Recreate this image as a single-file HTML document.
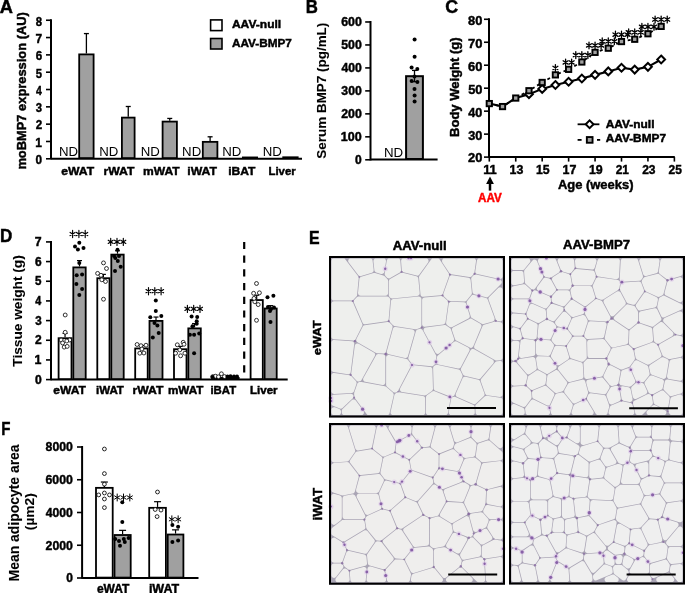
<!DOCTYPE html>
<html><head><meta charset="utf-8"><style>
html,body{margin:0;padding:0;background:#fff;overflow:hidden}
svg{display:block;will-change:transform}
text{font-family:"Liberation Sans", sans-serif}
</style></head><body>
<svg width="685" height="593" viewBox="0 0 685 593">
<text x="-0.23" y="13.28" font-size="17.81" font-weight="bold" stroke="#000" stroke-width="0.45" textLength="13.19" lengthAdjust="spacingAndGlyphs">A</text>
<line x1="51.00" y1="19.24" x2="51.00" y2="159.20" stroke="#000" stroke-width="2"/>
<line x1="51.00" y1="158.80" x2="302.00" y2="158.80" stroke="#000" stroke-width="2"/>
<line x1="46.00" y1="158.80" x2="51.00" y2="158.80" stroke="#000" stroke-width="1.6"/>
<text x="35.61" y="164.13" font-size="13.3" font-weight="bold" stroke="#000" stroke-width="0.45" textLength="6.55" lengthAdjust="spacingAndGlyphs">0</text>
<line x1="46.00" y1="141.48" x2="51.00" y2="141.48" stroke="#000" stroke-width="1.6"/>
<text x="35.31" y="146.81" font-size="13.3" font-weight="bold" stroke="#000" stroke-width="0.45" textLength="6.70" lengthAdjust="spacingAndGlyphs">1</text>
<line x1="46.00" y1="124.16" x2="51.00" y2="124.16" stroke="#000" stroke-width="1.6"/>
<text x="35.67" y="129.49" font-size="13.3" font-weight="bold" stroke="#000" stroke-width="0.45" textLength="6.47" lengthAdjust="spacingAndGlyphs">2</text>
<line x1="46.00" y1="106.84" x2="51.00" y2="106.84" stroke="#000" stroke-width="1.6"/>
<text x="35.81" y="112.17" font-size="13.3" font-weight="bold" stroke="#000" stroke-width="0.45" textLength="6.27" lengthAdjust="spacingAndGlyphs">3</text>
<line x1="46.00" y1="89.52" x2="51.00" y2="89.52" stroke="#000" stroke-width="1.6"/>
<text x="35.91" y="94.85" font-size="13.3" font-weight="bold" stroke="#000" stroke-width="0.45" textLength="5.82" lengthAdjust="spacingAndGlyphs">4</text>
<line x1="46.00" y1="72.20" x2="51.00" y2="72.20" stroke="#000" stroke-width="1.6"/>
<text x="35.73" y="77.53" font-size="13.3" font-weight="bold" stroke="#000" stroke-width="0.45" textLength="6.26" lengthAdjust="spacingAndGlyphs">5</text>
<line x1="46.00" y1="54.88" x2="51.00" y2="54.88" stroke="#000" stroke-width="1.6"/>
<text x="35.65" y="60.21" font-size="13.3" font-weight="bold" stroke="#000" stroke-width="0.45" textLength="6.45" lengthAdjust="spacingAndGlyphs">6</text>
<line x1="46.00" y1="37.56" x2="51.00" y2="37.56" stroke="#000" stroke-width="1.6"/>
<text x="35.56" y="42.88" font-size="13.3" font-weight="bold" stroke="#000" stroke-width="0.45" textLength="6.64" lengthAdjust="spacingAndGlyphs">7</text>
<line x1="46.00" y1="20.24" x2="51.00" y2="20.24" stroke="#000" stroke-width="1.6"/>
<text x="35.71" y="25.57" font-size="13.3" font-weight="bold" stroke="#000" stroke-width="0.45" textLength="6.31" lengthAdjust="spacingAndGlyphs">8</text>
<text x="0" y="0" font-size="13.15" font-weight="bold" stroke="#000" stroke-width="0.45" textLength="157.44" lengthAdjust="spacingAndGlyphs" transform="translate(25.97 169.62) rotate(-90)">moBMP7 expression (AU)</text>
<line x1="86.40" y1="33.58" x2="86.40" y2="53.49" stroke="#000" stroke-width="1.3"/>
<line x1="83.90" y1="33.58" x2="88.90" y2="33.58" stroke="#000" stroke-width="1.3"/>
<rect x="79.20" y="54.39" width="14.40" height="103.71" fill="#a0a0a0" stroke="#000" stroke-width="1.8"/>
<line x1="128.25" y1="106.49" x2="128.25" y2="116.71" stroke="#000" stroke-width="1.3"/>
<line x1="125.75" y1="106.49" x2="130.75" y2="106.49" stroke="#000" stroke-width="1.3"/>
<rect x="121.90" y="117.61" width="12.70" height="40.49" fill="#a0a0a0" stroke="#000" stroke-width="1.8"/>
<line x1="169.75" y1="118.44" x2="169.75" y2="120.70" stroke="#000" stroke-width="1.3"/>
<line x1="167.25" y1="118.44" x2="172.25" y2="118.44" stroke="#000" stroke-width="1.3"/>
<rect x="162.60" y="121.60" width="14.30" height="36.50" fill="#a0a0a0" stroke="#000" stroke-width="1.8"/>
<line x1="210.10" y1="136.80" x2="210.10" y2="140.96" stroke="#000" stroke-width="1.3"/>
<line x1="207.60" y1="136.80" x2="212.60" y2="136.80" stroke="#000" stroke-width="1.3"/>
<rect x="202.80" y="141.86" width="14.60" height="16.24" fill="#a0a0a0" stroke="#000" stroke-width="1.8"/>
<rect x="242.90" y="157.45" width="14.20" height="0.65" fill="#a0a0a0" stroke="#000" stroke-width="1.8"/>
<rect x="283.20" y="157.28" width="14.50" height="0.82" fill="#a0a0a0" stroke="#000" stroke-width="1.8"/>
<text x="59.01" y="156.40" font-size="13.52" textLength="19.12" lengthAdjust="spacingAndGlyphs">ND</text>
<text x="99.31" y="156.40" font-size="13.52" textLength="19.12" lengthAdjust="spacingAndGlyphs">ND</text>
<text x="140.71" y="156.40" font-size="13.52" textLength="19.12" lengthAdjust="spacingAndGlyphs">ND</text>
<text x="182.11" y="156.40" font-size="13.52" textLength="19.12" lengthAdjust="spacingAndGlyphs">ND</text>
<text x="222.31" y="156.40" font-size="13.52" textLength="19.12" lengthAdjust="spacingAndGlyphs">ND</text>
<text x="262.71" y="156.40" font-size="13.52" textLength="19.12" lengthAdjust="spacingAndGlyphs">ND</text>
<text x="61.17" y="175.38" font-size="11.56" font-weight="bold" stroke="#000" stroke-width="0.45" textLength="33.03" lengthAdjust="spacingAndGlyphs">eWAT</text>
<text x="103.46" y="175.38" font-size="11.56" font-weight="bold" stroke="#000" stroke-width="0.45" textLength="31.04" lengthAdjust="spacingAndGlyphs">rWAT</text>
<text x="142.96" y="175.38" font-size="11.56" font-weight="bold" stroke="#000" stroke-width="0.45" textLength="36.64" lengthAdjust="spacingAndGlyphs">mWAT</text>
<text x="187.31" y="175.38" font-size="11.56" font-weight="bold" stroke="#000" stroke-width="0.45" textLength="29.69" lengthAdjust="spacingAndGlyphs">iWAT</text>
<text x="228.21" y="175.38" font-size="11.56" font-weight="bold" stroke="#000" stroke-width="0.45" textLength="27.29" lengthAdjust="spacingAndGlyphs">iBAT</text>
<text x="268.46" y="175.38" font-size="11.56" font-weight="bold" stroke="#000" stroke-width="0.45" textLength="27.18" lengthAdjust="spacingAndGlyphs">Liver</text>
<rect x="210.60" y="19.90" width="11.40" height="10.70" fill="#fff" stroke="#000" stroke-width="1.6"/>
<rect x="210.60" y="38.50" width="11.40" height="10.50" fill="#a0a0a0" stroke="#000" stroke-width="1.6"/>
<text x="231.93" y="28.47" font-size="11.26" font-weight="bold" stroke="#000" stroke-width="0.45" textLength="49.27" lengthAdjust="spacingAndGlyphs">AAV-null</text>
<text x="231.94" y="47.07" font-size="11.56" font-weight="bold" stroke="#000" stroke-width="0.45" textLength="59.94" lengthAdjust="spacingAndGlyphs">AAV-BMP7</text>
<text x="305.70" y="13.08" font-size="18.53" font-weight="bold" stroke="#000" stroke-width="0.45" textLength="12.14" lengthAdjust="spacingAndGlyphs">B</text>
<line x1="370.50" y1="20.98" x2="370.50" y2="160.50" stroke="#000" stroke-width="2"/>
<line x1="370.50" y1="159.50" x2="437.60" y2="159.50" stroke="#000" stroke-width="2"/>
<line x1="365.20" y1="159.80" x2="370.50" y2="159.80" stroke="#000" stroke-width="1.6"/>
<text x="355.06" y="164.18" font-size="12.43" font-weight="bold" stroke="#000" stroke-width="0.45" textLength="6.71" lengthAdjust="spacingAndGlyphs">0</text>
<line x1="365.20" y1="136.83" x2="370.50" y2="136.83" stroke="#000" stroke-width="1.6"/>
<text x="340.85" y="141.21" font-size="12.43" font-weight="bold" stroke="#000" stroke-width="0.45" textLength="20.94" lengthAdjust="spacingAndGlyphs">100</text>
<line x1="365.20" y1="113.86" x2="370.50" y2="113.86" stroke="#000" stroke-width="1.6"/>
<text x="341.21" y="118.24" font-size="12.43" font-weight="bold" stroke="#000" stroke-width="0.45" textLength="20.57" lengthAdjust="spacingAndGlyphs">200</text>
<line x1="365.20" y1="90.89" x2="370.50" y2="90.89" stroke="#000" stroke-width="1.6"/>
<text x="341.36" y="95.27" font-size="12.43" font-weight="bold" stroke="#000" stroke-width="0.45" textLength="20.42" lengthAdjust="spacingAndGlyphs">300</text>
<line x1="365.20" y1="67.92" x2="370.50" y2="67.92" stroke="#000" stroke-width="1.6"/>
<text x="341.46" y="72.30" font-size="12.43" font-weight="bold" stroke="#000" stroke-width="0.45" textLength="20.32" lengthAdjust="spacingAndGlyphs">400</text>
<line x1="365.20" y1="44.95" x2="370.50" y2="44.95" stroke="#000" stroke-width="1.6"/>
<text x="341.26" y="49.33" font-size="12.43" font-weight="bold" stroke="#000" stroke-width="0.45" textLength="20.52" lengthAdjust="spacingAndGlyphs">500</text>
<line x1="365.20" y1="21.98" x2="370.50" y2="21.98" stroke="#000" stroke-width="1.6"/>
<text x="341.19" y="26.36" font-size="12.43" font-weight="bold" stroke="#000" stroke-width="0.45" textLength="20.59" lengthAdjust="spacingAndGlyphs">600</text>
<text x="0" y="0" font-size="13.23" font-weight="bold" stroke="#000" stroke-width="0.1" textLength="135.96" lengthAdjust="spacingAndGlyphs" transform="translate(326.25 158.64) rotate(-90)">Serum BMP7 (pg/mL)</text>
<rect x="406.10" y="76.20" width="16.80" height="82.80" fill="#a0a0a0" stroke="#000" stroke-width="2"/>
<line x1="414.50" y1="70.40" x2="414.50" y2="81.70" stroke="#000" stroke-width="1.3"/>
<line x1="412.00" y1="70.40" x2="417.00" y2="70.40" stroke="#000" stroke-width="1.3"/>
<line x1="412.00" y1="81.70" x2="417.00" y2="81.70" stroke="#000" stroke-width="1.3"/>
<circle cx="414.60" cy="39.50" r="2.0" fill="#000"/>
<circle cx="414.60" cy="56.80" r="2.0" fill="#000"/>
<circle cx="411.60" cy="67.50" r="2.0" fill="#000"/>
<circle cx="417.30" cy="69.00" r="2.0" fill="#000"/>
<circle cx="414.50" cy="76.40" r="2.0" fill="#000"/>
<circle cx="411.60" cy="81.00" r="2.0" fill="#000"/>
<circle cx="417.40" cy="82.00" r="2.0" fill="#000"/>
<circle cx="414.50" cy="89.10" r="2.0" fill="#000"/>
<circle cx="414.60" cy="95.50" r="2.0" fill="#000"/>
<circle cx="414.60" cy="101.40" r="2.0" fill="#000"/>
<text x="383.91" y="156.60" font-size="12.79" textLength="19.23" lengthAdjust="spacingAndGlyphs">ND</text>
<text x="445.39" y="13.18" font-size="17.51" font-weight="bold" stroke="#000" stroke-width="0.45" textLength="12.87" lengthAdjust="spacingAndGlyphs">C</text>
<line x1="489.00" y1="18.28" x2="489.00" y2="157.60" stroke="#000" stroke-width="2"/>
<line x1="489.00" y1="157.10" x2="674.80" y2="157.10" stroke="#000" stroke-width="2"/>
<line x1="484.00" y1="157.10" x2="489.00" y2="157.10" stroke="#000" stroke-width="1.6"/>
<text x="468.08" y="162.47" font-size="12.86" font-weight="bold" stroke="#000" stroke-width="0.45" textLength="14.32" lengthAdjust="spacingAndGlyphs">20</text>
<line x1="484.00" y1="134.13" x2="489.00" y2="134.13" stroke="#000" stroke-width="1.6"/>
<text x="468.24" y="139.50" font-size="12.86" font-weight="bold" stroke="#000" stroke-width="0.45" textLength="14.16" lengthAdjust="spacingAndGlyphs">30</text>
<line x1="484.00" y1="111.16" x2="489.00" y2="111.16" stroke="#000" stroke-width="1.6"/>
<text x="468.34" y="116.53" font-size="12.86" font-weight="bold" stroke="#000" stroke-width="0.45" textLength="14.06" lengthAdjust="spacingAndGlyphs">40</text>
<line x1="484.00" y1="88.19" x2="489.00" y2="88.19" stroke="#000" stroke-width="1.6"/>
<text x="468.13" y="93.56" font-size="12.86" font-weight="bold" stroke="#000" stroke-width="0.45" textLength="14.27" lengthAdjust="spacingAndGlyphs">50</text>
<line x1="484.00" y1="65.22" x2="489.00" y2="65.22" stroke="#000" stroke-width="1.6"/>
<text x="468.06" y="70.59" font-size="12.86" font-weight="bold" stroke="#000" stroke-width="0.45" textLength="14.35" lengthAdjust="spacingAndGlyphs">60</text>
<line x1="484.00" y1="42.25" x2="489.00" y2="42.25" stroke="#000" stroke-width="1.6"/>
<text x="467.97" y="47.62" font-size="12.86" font-weight="bold" stroke="#000" stroke-width="0.45" textLength="14.44" lengthAdjust="spacingAndGlyphs">70</text>
<line x1="484.00" y1="19.28" x2="489.00" y2="19.28" stroke="#000" stroke-width="1.6"/>
<text x="468.12" y="24.65" font-size="12.86" font-weight="bold" stroke="#000" stroke-width="0.45" textLength="14.28" lengthAdjust="spacingAndGlyphs">80</text>
<line x1="489.30" y1="157.10" x2="489.30" y2="161.60" stroke="#000" stroke-width="1.6"/>
<text x="483.15" y="173.58" font-size="13.15" font-weight="bold" stroke="#000" stroke-width="0.45" textLength="13.67" lengthAdjust="spacingAndGlyphs">11</text>
<line x1="515.74" y1="157.10" x2="515.74" y2="161.60" stroke="#000" stroke-width="1.6"/>
<text x="509.58" y="173.58" font-size="13.15" font-weight="bold" stroke="#000" stroke-width="0.45" textLength="13.78" lengthAdjust="spacingAndGlyphs">13</text>
<line x1="542.18" y1="157.10" x2="542.18" y2="161.60" stroke="#000" stroke-width="1.6"/>
<text x="536.03" y="173.58" font-size="13.15" font-weight="bold" stroke="#000" stroke-width="0.45" textLength="13.67" lengthAdjust="spacingAndGlyphs">15</text>
<line x1="568.62" y1="157.10" x2="568.62" y2="161.60" stroke="#000" stroke-width="1.6"/>
<text x="562.46" y="173.58" font-size="13.15" font-weight="bold" stroke="#000" stroke-width="0.45" textLength="13.88" lengthAdjust="spacingAndGlyphs">17</text>
<line x1="595.06" y1="157.10" x2="595.06" y2="161.60" stroke="#000" stroke-width="1.6"/>
<text x="588.90" y="173.58" font-size="13.15" font-weight="bold" stroke="#000" stroke-width="0.45" textLength="13.79" lengthAdjust="spacingAndGlyphs">19</text>
<line x1="621.50" y1="157.10" x2="621.50" y2="161.60" stroke="#000" stroke-width="1.6"/>
<text x="615.71" y="173.58" font-size="13.15" font-weight="bold" stroke="#000" stroke-width="0.45" textLength="13.30" lengthAdjust="spacingAndGlyphs">21</text>
<line x1="647.94" y1="157.10" x2="647.94" y2="161.60" stroke="#000" stroke-width="1.6"/>
<text x="642.15" y="173.58" font-size="13.15" font-weight="bold" stroke="#000" stroke-width="0.45" textLength="13.40" lengthAdjust="spacingAndGlyphs">23</text>
<line x1="674.38" y1="157.10" x2="674.38" y2="161.60" stroke="#000" stroke-width="1.6"/>
<text x="668.59" y="173.58" font-size="13.15" font-weight="bold" stroke="#000" stroke-width="0.45" textLength="13.30" lengthAdjust="spacingAndGlyphs">25</text>
<text x="0" y="0" font-size="13.15" font-weight="bold" stroke="#000" stroke-width="0.45" textLength="99.57" lengthAdjust="spacingAndGlyphs" transform="translate(458.77 136.94) rotate(-90)">Body Weight (g)</text>
<text x="557.90" y="189.47" font-size="13.15" font-weight="bold" stroke="#000" stroke-width="0.45" textLength="75.62" lengthAdjust="spacingAndGlyphs">Age (weeks)</text>
<line x1="490.00" y1="182.00" x2="490.00" y2="190.60" stroke="#000" stroke-width="2.5"/>
<path d="M490 176.6 L486.1 184 L493.9 184 Z" fill="#000"/>
<text x="478.05" y="201.58" font-size="12.14" font-weight="bold" stroke="#ff0000" stroke-width="0.45" fill="#ff0000" textLength="23.71" lengthAdjust="spacingAndGlyphs">AAV</text>
<polyline points="489.30,103.58 502.52,106.57 515.74,98.07 528.96,90.72 542.18,82.45 555.40,74.87 568.62,69.35 581.84,62.00 595.06,52.36 608.28,48.22 621.50,41.56 634.72,39.26 647.94,33.75 661.16,26.40" fill="none" stroke="#000" stroke-width="1.8" stroke-dasharray="3 3"/>
<polyline points="489.30,103.58 502.52,106.57 515.74,98.07 528.96,94.16 542.18,88.88 555.40,84.97 568.62,81.76 581.84,78.54 595.06,74.87 608.28,71.42 621.50,67.75 634.72,69.58 647.94,66.83 661.16,59.48" fill="none" stroke="#000" stroke-width="2.1"/>
<path d="M528.96 90.26 L532.86 94.16 L528.96 98.06 L525.06 94.16 Z" fill="#fff" stroke="#000" stroke-width="2.0"/>
<path d="M542.18 84.98 L546.08 88.88 L542.18 92.78 L538.28 88.88 Z" fill="#fff" stroke="#000" stroke-width="2.0"/>
<path d="M555.40 81.07 L559.30 84.97 L555.40 88.87 L551.50 84.97 Z" fill="#fff" stroke="#000" stroke-width="2.0"/>
<path d="M568.62 77.86 L572.52 81.76 L568.62 85.66 L564.72 81.76 Z" fill="#fff" stroke="#000" stroke-width="2.0"/>
<path d="M581.84 74.64 L585.74 78.54 L581.84 82.44 L577.94 78.54 Z" fill="#fff" stroke="#000" stroke-width="2.0"/>
<path d="M595.06 70.97 L598.96 74.87 L595.06 78.77 L591.16 74.87 Z" fill="#fff" stroke="#000" stroke-width="2.0"/>
<path d="M608.28 67.52 L612.18 71.42 L608.28 75.32 L604.38 71.42 Z" fill="#fff" stroke="#000" stroke-width="2.0"/>
<path d="M621.50 63.85 L625.40 67.75 L621.50 71.65 L617.60 67.75 Z" fill="#fff" stroke="#000" stroke-width="2.0"/>
<path d="M634.72 65.68 L638.62 69.58 L634.72 73.48 L630.82 69.58 Z" fill="#fff" stroke="#000" stroke-width="2.0"/>
<path d="M647.94 62.93 L651.84 66.83 L647.94 70.73 L644.04 66.83 Z" fill="#fff" stroke="#000" stroke-width="2.0"/>
<path d="M661.16 55.58 L665.06 59.48 L661.16 63.38 L657.26 59.48 Z" fill="#fff" stroke="#000" stroke-width="2.0"/>
<rect x="486.65" y="100.93" width="5.30" height="5.30" fill="#a0a0a0" stroke="#000" stroke-width="1.9"/>
<rect x="499.87" y="103.92" width="5.30" height="5.30" fill="#a0a0a0" stroke="#000" stroke-width="1.9"/>
<rect x="513.09" y="95.42" width="5.30" height="5.30" fill="#a0a0a0" stroke="#000" stroke-width="1.9"/>
<rect x="526.31" y="88.07" width="5.30" height="5.30" fill="#a0a0a0" stroke="#000" stroke-width="1.9"/>
<rect x="539.53" y="79.80" width="5.30" height="5.30" fill="#a0a0a0" stroke="#000" stroke-width="1.9"/>
<rect x="552.75" y="72.22" width="5.30" height="5.30" fill="#a0a0a0" stroke="#000" stroke-width="1.9"/>
<rect x="565.97" y="66.70" width="5.30" height="5.30" fill="#a0a0a0" stroke="#000" stroke-width="1.9"/>
<rect x="579.19" y="59.35" width="5.30" height="5.30" fill="#a0a0a0" stroke="#000" stroke-width="1.9"/>
<rect x="592.41" y="49.71" width="5.30" height="5.30" fill="#a0a0a0" stroke="#000" stroke-width="1.9"/>
<rect x="605.63" y="45.57" width="5.30" height="5.30" fill="#a0a0a0" stroke="#000" stroke-width="1.9"/>
<rect x="618.85" y="38.91" width="5.30" height="5.30" fill="#a0a0a0" stroke="#000" stroke-width="1.9"/>
<rect x="632.07" y="36.61" width="5.30" height="5.30" fill="#a0a0a0" stroke="#000" stroke-width="1.9"/>
<rect x="645.29" y="31.10" width="5.30" height="5.30" fill="#a0a0a0" stroke="#000" stroke-width="1.9"/>
<rect x="658.51" y="23.75" width="5.30" height="5.30" fill="#a0a0a0" stroke="#000" stroke-width="1.9"/>
<path d="M555.40 64.57V71.37M552.90 66.27L557.90 69.67M552.90 69.67L557.90 66.27" stroke="#000" stroke-width="1.3" stroke-linecap="round" fill="none"/>
<path d="M565.60 59.05V65.85M563.10 60.75L568.10 64.15M563.10 64.15L568.10 60.75" stroke="#000" stroke-width="1.3" stroke-linecap="round" fill="none"/>
<path d="M571.64 59.05V65.85M569.14 60.75L574.14 64.15M569.14 64.15L574.14 60.75" stroke="#000" stroke-width="1.3" stroke-linecap="round" fill="none"/>
<path d="M575.79 51.70V58.50M573.29 53.40L578.29 56.80M573.29 56.80L578.29 53.40" stroke="#000" stroke-width="1.3" stroke-linecap="round" fill="none"/>
<path d="M581.84 51.70V58.50M579.34 53.40L584.34 56.80M579.34 56.80L584.34 53.40" stroke="#000" stroke-width="1.3" stroke-linecap="round" fill="none"/>
<path d="M587.89 51.70V58.50M585.39 53.40L590.39 56.80M585.39 56.80L590.39 53.40" stroke="#000" stroke-width="1.3" stroke-linecap="round" fill="none"/>
<path d="M589.01 42.06V48.86M586.51 43.76L591.51 47.16M586.51 47.16L591.51 43.76" stroke="#000" stroke-width="1.3" stroke-linecap="round" fill="none"/>
<path d="M595.06 42.06V48.86M592.56 43.76L597.56 47.16M592.56 47.16L597.56 43.76" stroke="#000" stroke-width="1.3" stroke-linecap="round" fill="none"/>
<path d="M601.11 42.06V48.86M598.61 43.76L603.61 47.16M598.61 47.16L603.61 43.76" stroke="#000" stroke-width="1.3" stroke-linecap="round" fill="none"/>
<path d="M602.23 37.92V44.72M599.73 39.62L604.73 43.02M599.73 43.02L604.73 39.62" stroke="#000" stroke-width="1.3" stroke-linecap="round" fill="none"/>
<path d="M608.28 37.92V44.72M605.78 39.62L610.78 43.02M605.78 43.02L610.78 39.62" stroke="#000" stroke-width="1.3" stroke-linecap="round" fill="none"/>
<path d="M614.33 37.92V44.72M611.83 39.62L616.83 43.02M611.83 43.02L616.83 39.62" stroke="#000" stroke-width="1.3" stroke-linecap="round" fill="none"/>
<path d="M615.45 31.26V38.06M612.95 32.96L617.95 36.36M612.95 36.36L617.95 32.96" stroke="#000" stroke-width="1.3" stroke-linecap="round" fill="none"/>
<path d="M621.50 31.26V38.06M619.00 32.96L624.00 36.36M619.00 36.36L624.00 32.96" stroke="#000" stroke-width="1.3" stroke-linecap="round" fill="none"/>
<path d="M627.55 31.26V38.06M625.05 32.96L630.05 36.36M625.05 36.36L630.05 32.96" stroke="#000" stroke-width="1.3" stroke-linecap="round" fill="none"/>
<path d="M628.67 28.96V35.76M626.17 30.66L631.17 34.06M626.17 34.06L631.17 30.66" stroke="#000" stroke-width="1.3" stroke-linecap="round" fill="none"/>
<path d="M634.72 28.96V35.76M632.22 30.66L637.22 34.06M632.22 34.06L637.22 30.66" stroke="#000" stroke-width="1.3" stroke-linecap="round" fill="none"/>
<path d="M640.77 28.96V35.76M638.27 30.66L643.27 34.06M638.27 34.06L643.27 30.66" stroke="#000" stroke-width="1.3" stroke-linecap="round" fill="none"/>
<path d="M641.89 23.45V30.25M639.39 25.15L644.39 28.55M639.39 28.55L644.39 25.15" stroke="#000" stroke-width="1.3" stroke-linecap="round" fill="none"/>
<path d="M647.94 23.45V30.25M645.44 25.15L650.44 28.55M645.44 28.55L650.44 25.15" stroke="#000" stroke-width="1.3" stroke-linecap="round" fill="none"/>
<path d="M653.99 23.45V30.25M651.49 25.15L656.49 28.55M651.49 28.55L656.49 25.15" stroke="#000" stroke-width="1.3" stroke-linecap="round" fill="none"/>
<path d="M655.11 16.10V22.90M652.61 17.80L657.61 21.20M652.61 21.20L657.61 17.80" stroke="#000" stroke-width="1.3" stroke-linecap="round" fill="none"/>
<path d="M661.16 16.10V22.90M658.66 17.80L663.66 21.20M658.66 21.20L663.66 17.80" stroke="#000" stroke-width="1.3" stroke-linecap="round" fill="none"/>
<path d="M667.21 16.10V22.90M664.71 17.80L669.71 21.20M664.71 21.20L669.71 17.80" stroke="#000" stroke-width="1.3" stroke-linecap="round" fill="none"/>
<line x1="577.60" y1="124.30" x2="599.40" y2="124.30" stroke="#000" stroke-width="1.8"/>
<path d="M589.60 120.40 L593.50 124.30 L589.60 128.20 L585.70 124.30 Z" fill="#fff" stroke="#000" stroke-width="2.0"/>
<line x1="577.60" y1="139.90" x2="581.60" y2="139.90" stroke="#000" stroke-width="1.8"/>
<line x1="597.00" y1="139.90" x2="600.20" y2="139.90" stroke="#000" stroke-width="1.8"/>
<rect x="586.85" y="137.05" width="5.70" height="5.70" fill="#a0a0a0" stroke="#000" stroke-width="1.9"/>
<text x="605.74" y="127.88" font-size="10.54" font-weight="bold" stroke="#000" stroke-width="0.45" textLength="48.76" lengthAdjust="spacingAndGlyphs">AAV-null</text>
<text x="605.74" y="142.47" font-size="10.25" font-weight="bold" stroke="#000" stroke-width="0.45" textLength="60.24" lengthAdjust="spacingAndGlyphs">AAV-BMP7</text>
<text x="-0.01" y="241.58" font-size="17.95" font-weight="bold" stroke="#000" stroke-width="0.45" textLength="12.31" lengthAdjust="spacingAndGlyphs">D</text>
<line x1="51.00" y1="240.91" x2="51.00" y2="380.30" stroke="#000" stroke-width="2"/>
<line x1="51.00" y1="379.60" x2="287.70" y2="379.60" stroke="#000" stroke-width="2"/>
<line x1="46.00" y1="379.60" x2="51.00" y2="379.60" stroke="#000" stroke-width="1.6"/>
<text x="34.91" y="383.57" font-size="12.28" font-weight="bold" stroke="#000" stroke-width="0.45" textLength="6.76" lengthAdjust="spacingAndGlyphs">0</text>
<line x1="46.00" y1="359.93" x2="51.00" y2="359.93" stroke="#000" stroke-width="1.6"/>
<text x="34.61" y="363.90" font-size="12.28" font-weight="bold" stroke="#000" stroke-width="0.45" textLength="6.91" lengthAdjust="spacingAndGlyphs">1</text>
<line x1="46.00" y1="340.26" x2="51.00" y2="340.26" stroke="#000" stroke-width="1.6"/>
<text x="34.98" y="344.23" font-size="12.28" font-weight="bold" stroke="#000" stroke-width="0.45" textLength="6.68" lengthAdjust="spacingAndGlyphs">2</text>
<line x1="46.00" y1="320.59" x2="51.00" y2="320.59" stroke="#000" stroke-width="1.6"/>
<text x="35.13" y="324.56" font-size="12.28" font-weight="bold" stroke="#000" stroke-width="0.45" textLength="6.47" lengthAdjust="spacingAndGlyphs">3</text>
<line x1="46.00" y1="300.92" x2="51.00" y2="300.92" stroke="#000" stroke-width="1.6"/>
<text x="35.23" y="304.89" font-size="12.28" font-weight="bold" stroke="#000" stroke-width="0.45" textLength="6.00" lengthAdjust="spacingAndGlyphs">4</text>
<line x1="46.00" y1="281.25" x2="51.00" y2="281.25" stroke="#000" stroke-width="1.6"/>
<text x="35.04" y="285.22" font-size="12.28" font-weight="bold" stroke="#000" stroke-width="0.45" textLength="6.46" lengthAdjust="spacingAndGlyphs">5</text>
<line x1="46.00" y1="261.58" x2="51.00" y2="261.58" stroke="#000" stroke-width="1.6"/>
<text x="34.96" y="265.56" font-size="12.28" font-weight="bold" stroke="#000" stroke-width="0.45" textLength="6.65" lengthAdjust="spacingAndGlyphs">6</text>
<line x1="46.00" y1="241.91" x2="51.00" y2="241.91" stroke="#000" stroke-width="1.6"/>
<text x="34.87" y="245.89" font-size="12.28" font-weight="bold" stroke="#000" stroke-width="0.45" textLength="6.85" lengthAdjust="spacingAndGlyphs">7</text>
<text x="0" y="0" font-size="13.66" font-weight="bold" stroke="#000" stroke-width="0.1" textLength="111.43" lengthAdjust="spacingAndGlyphs" transform="translate(22.05 366.70) rotate(-90)">Tissue weight (g)</text>
<rect x="58.60" y="338.21" width="12.90" height="40.89" fill="#fff" stroke="#000" stroke-width="1.8"/>
<rect x="73.30" y="267.40" width="12.40" height="111.70" fill="#a0a0a0" stroke="#000" stroke-width="1.8"/>
<rect x="97.30" y="278.22" width="12.20" height="100.88" fill="#fff" stroke="#000" stroke-width="1.8"/>
<rect x="111.30" y="254.61" width="12.40" height="124.49" fill="#a0a0a0" stroke="#000" stroke-width="1.8"/>
<rect x="135.20" y="348.44" width="12.50" height="30.66" fill="#fff" stroke="#000" stroke-width="1.8"/>
<rect x="149.50" y="320.90" width="13.00" height="58.20" fill="#a0a0a0" stroke="#000" stroke-width="1.8"/>
<rect x="174.00" y="349.22" width="12.50" height="29.88" fill="#fff" stroke="#000" stroke-width="1.8"/>
<rect x="188.30" y="328.37" width="12.50" height="50.73" fill="#a0a0a0" stroke="#000" stroke-width="1.8"/>
<rect x="211.90" y="377.94" width="12.50" height="1.16" fill="#fff" stroke="#000" stroke-width="1.8"/>
<rect x="226.20" y="377.94" width="12.50" height="1.16" fill="#a0a0a0" stroke="#000" stroke-width="1.8"/>
<rect x="250.60" y="300.05" width="12.20" height="79.05" fill="#fff" stroke="#000" stroke-width="1.8"/>
<rect x="264.60" y="308.51" width="12.10" height="70.59" fill="#a0a0a0" stroke="#000" stroke-width="1.8"/>
<line x1="65.05" y1="333.38" x2="65.05" y2="337.31" stroke="#000" stroke-width="1.2"/>
<line x1="62.55" y1="333.38" x2="67.55" y2="333.38" stroke="#000" stroke-width="1.2"/>
<line x1="79.50" y1="260.60" x2="79.50" y2="266.50" stroke="#000" stroke-width="1.2"/>
<line x1="77.00" y1="260.60" x2="82.00" y2="260.60" stroke="#000" stroke-width="1.2"/>
<line x1="103.40" y1="274.37" x2="103.40" y2="277.32" stroke="#000" stroke-width="1.2"/>
<line x1="100.90" y1="274.37" x2="105.90" y2="274.37" stroke="#000" stroke-width="1.2"/>
<line x1="117.50" y1="250.76" x2="117.50" y2="253.71" stroke="#000" stroke-width="1.2"/>
<line x1="115.00" y1="250.76" x2="120.00" y2="250.76" stroke="#000" stroke-width="1.2"/>
<line x1="141.45" y1="345.57" x2="141.45" y2="347.54" stroke="#000" stroke-width="1.2"/>
<line x1="138.95" y1="345.57" x2="143.95" y2="345.57" stroke="#000" stroke-width="1.2"/>
<line x1="156.00" y1="317.05" x2="156.00" y2="320.00" stroke="#000" stroke-width="1.2"/>
<line x1="153.50" y1="317.05" x2="158.50" y2="317.05" stroke="#000" stroke-width="1.2"/>
<line x1="180.25" y1="346.36" x2="180.25" y2="348.32" stroke="#000" stroke-width="1.2"/>
<line x1="177.75" y1="346.36" x2="182.75" y2="346.36" stroke="#000" stroke-width="1.2"/>
<line x1="194.55" y1="323.54" x2="194.55" y2="327.47" stroke="#000" stroke-width="1.2"/>
<line x1="192.05" y1="323.54" x2="197.05" y2="323.54" stroke="#000" stroke-width="1.2"/>
<line x1="218.15" y1="376.65" x2="218.15" y2="377.04" stroke="#000" stroke-width="1.2"/>
<line x1="215.65" y1="376.65" x2="220.65" y2="376.65" stroke="#000" stroke-width="1.2"/>
<line x1="232.45" y1="376.65" x2="232.45" y2="377.04" stroke="#000" stroke-width="1.2"/>
<line x1="229.95" y1="376.65" x2="234.95" y2="376.65" stroke="#000" stroke-width="1.2"/>
<line x1="256.70" y1="295.22" x2="256.70" y2="299.15" stroke="#000" stroke-width="1.2"/>
<line x1="254.20" y1="295.22" x2="259.20" y2="295.22" stroke="#000" stroke-width="1.2"/>
<line x1="270.65" y1="305.64" x2="270.65" y2="307.61" stroke="#000" stroke-width="1.2"/>
<line x1="268.15" y1="305.64" x2="273.15" y2="305.64" stroke="#000" stroke-width="1.2"/>
<line x1="244.2" y1="241.9" x2="244.2" y2="373" stroke="#000" stroke-width="2.2" stroke-dasharray="7.2 6.5"/>
<circle cx="65.20" cy="315.00" r="1.95" fill="#fff" stroke="#000" stroke-width="0.8"/>
<circle cx="65.20" cy="332.30" r="1.95" fill="#fff" stroke="#000" stroke-width="0.8"/>
<circle cx="61.10" cy="340.00" r="1.95" fill="#fff" stroke="#000" stroke-width="0.8"/>
<circle cx="69.70" cy="340.00" r="1.95" fill="#fff" stroke="#000" stroke-width="0.8"/>
<circle cx="66.80" cy="341.00" r="1.95" fill="#fff" stroke="#000" stroke-width="0.8"/>
<circle cx="62.60" cy="343.00" r="1.95" fill="#fff" stroke="#000" stroke-width="0.8"/>
<circle cx="64.20" cy="347.10" r="1.95" fill="#fff" stroke="#000" stroke-width="0.8"/>
<circle cx="67.20" cy="346.40" r="1.95" fill="#fff" stroke="#000" stroke-width="0.8"/>
<circle cx="103.50" cy="262.90" r="1.95" fill="#fff" stroke="#000" stroke-width="0.8"/>
<circle cx="106.50" cy="268.50" r="1.95" fill="#fff" stroke="#000" stroke-width="0.8"/>
<circle cx="97.60" cy="273.40" r="1.95" fill="#fff" stroke="#000" stroke-width="0.8"/>
<circle cx="101.00" cy="275.30" r="1.95" fill="#fff" stroke="#000" stroke-width="0.8"/>
<circle cx="101.80" cy="279.80" r="1.95" fill="#fff" stroke="#000" stroke-width="0.8"/>
<circle cx="105.50" cy="281.50" r="1.95" fill="#fff" stroke="#000" stroke-width="0.8"/>
<circle cx="103.50" cy="299.20" r="1.95" fill="#fff" stroke="#000" stroke-width="0.8"/>
<circle cx="137.10" cy="344.50" r="1.95" fill="#fff" stroke="#000" stroke-width="0.8"/>
<circle cx="141.00" cy="345.70" r="1.95" fill="#fff" stroke="#000" stroke-width="0.8"/>
<circle cx="146.00" cy="345.20" r="1.95" fill="#fff" stroke="#000" stroke-width="0.8"/>
<circle cx="141.90" cy="349.00" r="1.95" fill="#fff" stroke="#000" stroke-width="0.8"/>
<circle cx="139.80" cy="353.20" r="1.95" fill="#fff" stroke="#000" stroke-width="0.8"/>
<circle cx="143.90" cy="353.00" r="1.95" fill="#fff" stroke="#000" stroke-width="0.8"/>
<circle cx="177.30" cy="344.80" r="1.95" fill="#fff" stroke="#000" stroke-width="0.8"/>
<circle cx="183.20" cy="342.30" r="1.95" fill="#fff" stroke="#000" stroke-width="0.8"/>
<circle cx="184.00" cy="344.30" r="1.95" fill="#fff" stroke="#000" stroke-width="0.8"/>
<circle cx="175.60" cy="353.20" r="1.95" fill="#fff" stroke="#000" stroke-width="0.8"/>
<circle cx="180.60" cy="355.80" r="1.95" fill="#fff" stroke="#000" stroke-width="0.8"/>
<circle cx="184.90" cy="353.20" r="1.95" fill="#fff" stroke="#000" stroke-width="0.8"/>
<circle cx="179.80" cy="349.90" r="1.95" fill="#fff" stroke="#000" stroke-width="0.8"/>
<circle cx="212.80" cy="376.60" r="1.95" fill="#fff" stroke="#000" stroke-width="0.8"/>
<circle cx="215.50" cy="376.20" r="1.95" fill="#fff" stroke="#000" stroke-width="0.8"/>
<circle cx="218.50" cy="376.80" r="1.95" fill="#fff" stroke="#000" stroke-width="0.8"/>
<circle cx="221.40" cy="373.80" r="1.95" fill="#fff" stroke="#000" stroke-width="0.8"/>
<circle cx="224.50" cy="376.60" r="1.95" fill="#fff" stroke="#000" stroke-width="0.8"/>
<circle cx="256.50" cy="283.50" r="1.95" fill="#fff" stroke="#000" stroke-width="0.8"/>
<circle cx="253.60" cy="293.30" r="1.95" fill="#fff" stroke="#000" stroke-width="0.8"/>
<circle cx="259.40" cy="292.80" r="1.95" fill="#fff" stroke="#000" stroke-width="0.8"/>
<circle cx="254.80" cy="301.70" r="1.95" fill="#fff" stroke="#000" stroke-width="0.8"/>
<circle cx="258.20" cy="304.60" r="1.95" fill="#fff" stroke="#000" stroke-width="0.8"/>
<circle cx="256.50" cy="320.30" r="1.95" fill="#fff" stroke="#000" stroke-width="0.8"/>
<circle cx="254.00" cy="298.40" r="1.95" fill="#fff" stroke="#000" stroke-width="0.8"/>
<circle cx="79.30" cy="242.70" r="2.0" fill="#000"/>
<circle cx="75.00" cy="246.40" r="2.0" fill="#000"/>
<circle cx="77.90" cy="249.50" r="2.0" fill="#000"/>
<circle cx="83.50" cy="248.10" r="2.0" fill="#000"/>
<circle cx="79.30" cy="263.00" r="2.0" fill="#000"/>
<circle cx="76.70" cy="275.30" r="2.0" fill="#000"/>
<circle cx="82.10" cy="274.40" r="2.0" fill="#000"/>
<circle cx="76.40" cy="284.00" r="2.0" fill="#000"/>
<circle cx="82.10" cy="289.00" r="2.0" fill="#000"/>
<circle cx="79.30" cy="295.00" r="2.0" fill="#000"/>
<circle cx="117.50" cy="249.80" r="2.0" fill="#000"/>
<circle cx="115.30" cy="257.90" r="2.0" fill="#000"/>
<circle cx="117.80" cy="260.90" r="2.0" fill="#000"/>
<circle cx="120.70" cy="266.80" r="2.0" fill="#000"/>
<circle cx="115.00" cy="270.90" r="2.0" fill="#000"/>
<circle cx="114.00" cy="256.00" r="2.0" fill="#000"/>
<circle cx="119.00" cy="256.00" r="2.0" fill="#000"/>
<circle cx="155.80" cy="300.50" r="2.0" fill="#000"/>
<circle cx="155.80" cy="311.10" r="2.0" fill="#000"/>
<circle cx="150.30" cy="317.30" r="2.0" fill="#000"/>
<circle cx="161.30" cy="316.10" r="2.0" fill="#000"/>
<circle cx="154.50" cy="322.90" r="2.0" fill="#000"/>
<circle cx="157.40" cy="325.40" r="2.0" fill="#000"/>
<circle cx="158.70" cy="333.00" r="2.0" fill="#000"/>
<circle cx="152.80" cy="337.60" r="2.0" fill="#000"/>
<circle cx="191.60" cy="316.60" r="2.0" fill="#000"/>
<circle cx="197.20" cy="317.00" r="2.0" fill="#000"/>
<circle cx="196.70" cy="321.20" r="2.0" fill="#000"/>
<circle cx="196.70" cy="323.70" r="2.0" fill="#000"/>
<circle cx="192.50" cy="326.30" r="2.0" fill="#000"/>
<circle cx="189.90" cy="334.70" r="2.0" fill="#000"/>
<circle cx="194.10" cy="334.70" r="2.0" fill="#000"/>
<circle cx="199.20" cy="333.50" r="2.0" fill="#000"/>
<circle cx="194.10" cy="353.20" r="2.0" fill="#000"/>
<circle cx="212.50" cy="377.00" r="2.0" fill="#000"/>
<circle cx="227.50" cy="376.40" r="2.0" fill="#000"/>
<circle cx="230.50" cy="376.20" r="2.0" fill="#000"/>
<circle cx="234.00" cy="376.40" r="2.0" fill="#000"/>
<circle cx="237.00" cy="376.40" r="2.0" fill="#000"/>
<circle cx="267.50" cy="297.20" r="2.0" fill="#000"/>
<circle cx="273.40" cy="295.80" r="2.0" fill="#000"/>
<circle cx="268.00" cy="307.00" r="2.0" fill="#000"/>
<circle cx="271.00" cy="309.00" r="2.0" fill="#000"/>
<circle cx="274.00" cy="307.50" r="2.0" fill="#000"/>
<circle cx="270.00" cy="311.00" r="2.0" fill="#000"/>
<circle cx="270.50" cy="322.00" r="2.0" fill="#000"/>
<path d="M72.60 230.40V237.60M70.10 232.40L75.10 235.60M70.10 235.60L75.10 232.40" stroke="#000" stroke-width="1.15" stroke-linecap="round" fill="none"/>
<path d="M78.90 230.40V237.60M76.40 232.40L81.40 235.60M76.40 235.60L81.40 232.40" stroke="#000" stroke-width="1.15" stroke-linecap="round" fill="none"/>
<path d="M85.20 230.40V237.60M82.70 232.40L87.70 235.60M82.70 235.60L87.70 232.40" stroke="#000" stroke-width="1.15" stroke-linecap="round" fill="none"/>
<path d="M110.70 238.20V245.40M108.20 240.20L113.20 243.40M108.20 243.40L113.20 240.20" stroke="#000" stroke-width="1.15" stroke-linecap="round" fill="none"/>
<path d="M117.00 238.20V245.40M114.50 240.20L119.50 243.40M114.50 243.40L119.50 240.20" stroke="#000" stroke-width="1.15" stroke-linecap="round" fill="none"/>
<path d="M123.30 238.20V245.40M120.80 240.20L125.80 243.40M120.80 243.40L125.80 240.20" stroke="#000" stroke-width="1.15" stroke-linecap="round" fill="none"/>
<path d="M148.50 287.60V294.80M146.00 289.60L151.00 292.80M146.00 292.80L151.00 289.60" stroke="#000" stroke-width="1.15" stroke-linecap="round" fill="none"/>
<path d="M154.80 287.60V294.80M152.30 289.60L157.30 292.80M152.30 292.80L157.30 289.60" stroke="#000" stroke-width="1.15" stroke-linecap="round" fill="none"/>
<path d="M161.10 287.60V294.80M158.60 289.60L163.60 292.80M158.60 292.80L163.60 289.60" stroke="#000" stroke-width="1.15" stroke-linecap="round" fill="none"/>
<path d="M187.40 305.20V312.40M184.90 307.20L189.90 310.40M184.90 310.40L189.90 307.20" stroke="#000" stroke-width="1.15" stroke-linecap="round" fill="none"/>
<path d="M193.70 305.20V312.40M191.20 307.20L196.20 310.40M191.20 310.40L196.20 307.20" stroke="#000" stroke-width="1.15" stroke-linecap="round" fill="none"/>
<path d="M200.00 305.20V312.40M197.50 307.20L202.50 310.40M197.50 310.40L202.50 307.20" stroke="#000" stroke-width="1.15" stroke-linecap="round" fill="none"/>
<text x="53.28" y="393.88" font-size="10.68" font-weight="bold" stroke="#000" stroke-width="0.45" textLength="32.52" lengthAdjust="spacingAndGlyphs">eWAT</text>
<text x="95.96" y="393.88" font-size="10.68" font-weight="bold" stroke="#000" stroke-width="0.45" textLength="27.93" lengthAdjust="spacingAndGlyphs">iWAT</text>
<text x="132.46" y="393.88" font-size="10.68" font-weight="bold" stroke="#000" stroke-width="0.45" textLength="30.94" lengthAdjust="spacingAndGlyphs">rWAT</text>
<text x="167.99" y="393.88" font-size="10.68" font-weight="bold" stroke="#000" stroke-width="0.45" textLength="35.41" lengthAdjust="spacingAndGlyphs">mWAT</text>
<text x="210.45" y="393.88" font-size="10.68" font-weight="bold" stroke="#000" stroke-width="0.45" textLength="25.74" lengthAdjust="spacingAndGlyphs">iBAT</text>
<text x="250.06" y="393.88" font-size="10.68" font-weight="bold" stroke="#000" stroke-width="0.45" textLength="27.49" lengthAdjust="spacingAndGlyphs">Liver</text>
<text x="309.06" y="243.88" font-size="18.1" font-weight="bold" stroke="#000" stroke-width="0.45" textLength="10.64" lengthAdjust="spacingAndGlyphs">E</text>
<text x="392.71" y="250.47" font-size="12.14" font-weight="bold" stroke="#000" stroke-width="0.45" textLength="53.97" lengthAdjust="spacingAndGlyphs">AAV-null</text>
<text x="563.11" y="249.28" font-size="12.57" font-weight="bold" stroke="#000" stroke-width="0.45" textLength="66.83" lengthAdjust="spacingAndGlyphs">AAV-BMP7</text>
<text x="0" y="0" font-size="11.56" font-weight="bold" stroke="#000" stroke-width="0.45" textLength="34.76" lengthAdjust="spacingAndGlyphs" transform="translate(321.38 355.15) rotate(-90)">eWAT</text>
<text x="0" y="0" font-size="13.30" font-weight="bold" stroke="#000" stroke-width="0.45" textLength="32.68" lengthAdjust="spacingAndGlyphs" transform="translate(322.07 520.57) rotate(-90)">iWAT</text>
<rect x="329" y="256" width="176" height="161.5" fill="#aaa5b5"/>
<path d="M356.4 296.6L356.9 295.9L357.1 295.0L358.7 278.1L358.7 277.2L358.2 276.3L345.4 259.4L344.5 258.6L343.3 258.4L334.0 258.4L333.0 258.6L332.1 259.1L331.6 260.0L331.4 261.0L331.4 298.0L331.6 299.0L332.1 299.8L333.0 300.4L334.0 300.6L351.5 300.6L352.5 300.4L353.4 299.8ZM350.7 258.4L349.8 258.5L349.0 259.0L348.4 259.8L348.2 260.7L348.2 261.7L348.7 262.5L358.2 275.1L359.0 275.8L360.0 276.2L361.1 276.1L371.9 272.7L372.7 272.3L373.3 271.7L373.6 270.8L373.7 270.0L372.6 260.7L372.4 259.8L371.8 259.0L371.0 258.5L370.1 258.4ZM374.4 270.4L374.8 271.3L375.4 272.1L376.3 272.6L381.0 273.9L382.1 274.0L383.1 273.6L383.9 272.9L384.3 271.9L386.0 261.4L385.9 260.3L385.4 259.3L384.5 258.6L383.4 258.4L376.0 258.4L374.9 258.6L374.1 259.2L373.5 260.2L373.4 261.2ZM384.7 273.8L384.8 275.0L385.5 276.0L387.1 277.7L388.1 278.3L389.2 278.4L390.2 278.1L399.8 272.6L400.5 272.0L401.0 271.1L401.1 270.2L400.3 260.7L400.0 259.8L399.5 259.0L398.7 258.5L397.7 258.4L389.4 258.4L388.5 258.5L387.7 259.0L387.1 259.7L386.8 260.5ZM375.1 272.9L373.6 273.0L361.2 276.8L360.3 277.3L359.7 278.0L359.4 279.0L358.0 292.9L358.2 294.0L358.7 294.9L359.6 295.5L360.6 295.7L385.5 295.7L386.5 295.5L387.3 295.0L387.9 294.1L388.1 293.1L388.1 280.8L387.9 279.8L387.3 278.9L384.4 276.0L383.3 275.4ZM390.1 279.0L389.4 279.6L389.0 280.4L388.8 281.3L388.8 295.0L389.0 295.9L389.4 296.7L390.0 297.4L390.6 298.0L391.4 298.3L392.3 298.4L417.3 295.9L418.3 295.6L419.1 295.0L419.6 294.1L419.7 293.1L418.3 278.6L418.0 277.6L417.4 276.8L416.4 276.3L402.7 272.7L401.7 272.6L400.7 272.9ZM416.6 275.6L417.7 275.7L418.7 275.3L419.4 274.6L428.1 262.5L428.5 261.6L428.6 260.7L428.3 259.8L427.7 259.0L426.9 258.5L426.0 258.4L403.6 258.4L402.6 258.6L401.7 259.2L401.2 260.1L401.1 261.2L401.8 269.9L402.1 270.9L402.8 271.7L403.7 272.2ZM362.6 322.8L363.2 323.7L364.2 324.3L365.3 324.3L386.5 321.3L387.5 320.9L388.3 320.0L388.7 318.9L390.3 300.1L390.2 299.1L389.7 298.2L389.1 297.4L388.2 296.7L387.0 296.5L358.6 296.5L357.6 296.7L356.8 297.3L354.4 299.8L353.8 300.6L353.6 301.6L353.9 302.6ZM353.0 340.6L354.0 340.5L354.9 340.0L355.5 339.2L362.2 326.1L362.5 325.0L362.3 323.9L353.2 302.9L352.6 302.1L351.8 301.5L350.8 301.3L334.0 301.3L333.0 301.5L332.1 302.1L331.6 302.9L331.4 303.9L331.4 336.6L331.5 337.6L332.1 338.4L332.8 339.0L333.8 339.2ZM421.4 299.1L421.2 298.1L420.5 297.2L419.6 296.7L418.5 296.5L393.2 299.0L392.4 299.3L391.6 299.8L391.1 300.5L390.9 301.4L389.3 320.0L389.4 321.1L390.0 322.0L392.8 325.1L393.5 325.6L394.3 325.9L415.1 329.3L416.5 329.2L419.7 328.0L420.6 327.4L421.2 326.6L421.4 325.6ZM356.5 338.8L356.2 339.8L356.3 340.8L356.8 341.6L357.5 342.3L376.1 352.9L377.3 353.3L383.4 353.6L384.5 353.4L385.5 352.7L386.0 351.6L392.5 327.6L392.6 326.7L392.4 325.8L391.9 325.1L389.6 322.7L388.6 322.0L387.3 321.9L364.7 325.2L363.6 325.6L362.8 326.6ZM420.5 294.5L420.8 295.5L421.4 296.2L422.3 296.7L423.3 296.8L440.5 295.3L441.5 295.0L442.3 294.4L442.8 293.6L449.1 275.7L449.2 274.6L448.8 273.5L439.7 259.5L439.1 258.9L438.4 258.5L437.5 258.4L433.3 258.4L432.1 258.6L431.1 259.4L419.5 275.8L419.1 276.6L419.0 277.6ZM476.0 261.3L476.0 260.2L475.4 259.3L474.6 258.6L473.5 258.4L444.6 258.4L443.5 258.6L442.6 259.3L442.1 260.2L442.0 261.3L442.4 262.4L449.5 273.2L450.2 273.9L451.2 274.3L469.2 277.1L470.5 277.0L471.5 276.4L473.6 274.3L474.0 273.7L474.3 272.9ZM502.6 261.0L502.4 260.0L501.9 259.1L501.0 258.6L500.0 258.4L479.5 258.4L478.6 258.5L477.8 259.0L477.2 259.7L476.9 260.6L475.3 271.2L475.3 272.2L475.7 273.1L476.4 273.8L477.3 274.1L499.5 279.0L500.4 279.0L501.3 278.7L502.0 278.1L502.5 277.3L502.6 276.4ZM464.5 301.5L465.7 301.3L466.6 300.5L471.3 294.8L471.8 293.9L471.9 292.9L470.6 280.0L470.2 279.0L469.4 278.1L468.4 277.7L452.3 275.2L451.4 275.2L450.5 275.6L449.8 276.1L449.4 276.9L443.4 293.8L443.3 294.8L443.5 295.8L444.1 296.6L448.2 300.4L448.9 300.9L449.9 301.1ZM471.9 277.0L471.3 277.9L471.2 279.1L472.5 292.0L472.8 293.0L473.5 293.8L474.4 294.2L486.1 297.3L487.0 297.4L487.8 297.1L488.6 296.6L501.0 284.1L501.6 283.2L501.8 282.1L501.5 281.1L500.8 280.2L499.8 279.8L476.0 274.6L475.1 274.6L474.3 274.8L473.6 275.3ZM489.2 297.0L488.7 297.8L488.4 298.8L488.6 299.7L495.7 319.2L496.1 320.0L496.7 320.6L497.5 320.9L499.5 321.3L500.4 321.4L501.3 321.1L502.0 320.5L502.5 319.7L502.6 318.8L502.6 289.8L502.4 288.9L501.9 288.0L501.0 287.4L500.0 287.2L499.0 287.4L498.2 288.0ZM474.1 294.9L473.1 294.8L472.2 295.1L471.4 295.8L467.2 300.9L466.7 302.0L466.7 303.3L470.8 316.6L471.2 317.4L471.9 318.1L481.7 323.8L482.7 324.2L483.8 324.1L492.8 321.4L493.7 320.9L494.3 320.1L494.6 319.1L494.5 318.0L487.8 299.7L487.1 298.6L486.0 298.0ZM443.2 324.5L444.3 324.1L445.1 323.3L445.5 322.3L448.2 302.9L448.0 301.6L447.4 300.6L443.2 296.7L442.2 296.1L441.2 296.0L424.5 297.5L423.6 297.7L422.8 298.3L422.3 299.1L422.1 300.1L422.1 324.2L422.3 325.2L423.0 326.1L423.9 326.7L425.0 326.8ZM468.4 318.6L469.1 318.1L469.6 317.3L469.8 316.4L469.7 315.5L466.2 304.0L465.7 303.1L464.9 302.4L463.8 302.2L451.4 301.8L450.4 302.0L449.6 302.5L449.0 303.2L448.7 304.1L446.1 322.8L446.2 323.7L446.6 324.6L447.3 325.3L449.7 326.9L450.5 327.2L451.4 327.3L452.3 327.0ZM469.7 347.6L470.8 347.9L471.8 347.7L472.7 347.1L473.3 346.3L481.3 327.0L481.5 326.1L481.4 325.2L481.0 324.4L480.3 323.8L472.0 318.9L471.2 318.6L470.3 318.6L469.5 318.9L453.3 327.3L452.6 327.8L452.1 328.6L451.9 329.5L452.1 330.4L455.0 339.1L455.5 339.9L456.2 340.6ZM502.6 324.9L502.4 323.7L501.7 322.8L500.6 322.3L496.6 321.4L495.2 321.4L484.1 324.7L483.1 325.3L482.5 326.2L474.3 345.8L474.1 346.8L474.2 347.7L474.7 348.5L475.4 349.1L495.2 360.2L495.9 360.4L496.7 360.5L500.3 360.2L501.2 359.9L502.0 359.3L502.5 358.5L502.6 357.6ZM347.8 374.2L348.8 374.2L349.7 373.7L350.4 373.0L350.7 372.0L354.2 344.2L354.2 343.1L353.7 342.2L352.9 341.6L351.9 341.3L334.1 340.0L333.1 340.1L332.2 340.7L331.6 341.5L331.4 342.6L331.4 369.6L331.5 370.5L332.0 371.3L332.7 371.8L333.6 372.1ZM351.2 373.7L351.4 374.8L351.9 375.8L356.6 380.7L357.2 381.2L358.1 381.5L358.9 381.4L359.7 381.3L360.7 380.9L361.5 380.0L374.8 356.0L375.1 355.0L375.1 354.0L374.6 353.1L373.8 352.5L358.7 343.8L357.7 343.4L356.7 343.5L355.8 344.0L355.1 344.7L354.8 345.7ZM363.4 378.0L363.1 378.9L363.2 379.9L363.6 380.8L364.3 381.4L365.2 381.8L382.3 385.0L383.4 385.0L384.4 384.5L385.1 383.6L385.3 382.5L385.3 356.9L385.2 355.9L384.6 355.1L383.8 354.5L382.9 354.3L378.4 354.0L377.4 354.2L376.6 354.6L376.0 355.4ZM414.6 332.9L414.7 331.8L414.3 330.8L413.5 330.0L412.5 329.6L395.8 326.9L394.9 326.9L394.0 327.2L393.3 327.9L392.9 328.8L386.9 351.1L386.8 352.2L387.2 353.1L387.9 353.9L388.8 354.3L405.0 357.9L406.0 357.9L406.9 357.6L407.6 356.9L408.0 356.1ZM389.2 355.1L388.3 355.1L387.4 355.4L386.7 356.0L386.2 356.8L386.1 357.7L386.1 384.7L386.3 385.8L387.0 386.7L393.2 392.0L394.0 392.5L395.0 392.6L396.0 392.4L396.9 391.9L397.6 391.5L398.1 390.8L410.9 366.3L411.2 365.3L411.1 364.4L410.7 363.5L408.0 359.9L407.3 359.3L406.5 359.0ZM417.4 329.6L416.4 330.3L415.8 331.4L408.4 357.5L408.3 358.7L408.8 359.8L411.6 363.5L412.4 364.2L413.4 364.6L431.5 366.3L432.5 366.2L433.5 365.6L434.6 364.6L435.2 363.9L435.5 363.0L436.3 356.9L436.3 356.1L436.0 355.3L422.5 330.1L422.0 329.4L421.2 328.9L420.3 328.7L419.3 328.9ZM432.4 369.4L432.3 368.5L431.7 367.7L431.0 367.1L430.1 366.9L414.0 365.3L413.0 365.4L412.1 365.9L411.5 366.7L400.2 388.3L399.9 389.2L400.0 390.2L400.5 391.1L401.2 391.8L402.1 392.1L424.4 395.4L425.4 395.3L426.3 394.9L431.9 390.9L432.7 390.0L433.0 388.8ZM354.4 396.7L354.9 398.0L366.6 414.1L367.5 414.9L368.7 415.1L387.1 415.1L388.2 414.9L389.1 414.2L389.6 413.1L393.7 395.2L393.7 394.3L393.4 393.4L392.8 392.6L386.1 386.8L384.9 386.3L361.6 381.9L360.6 381.9L359.2 382.1L358.3 382.5L357.6 383.1L357.2 383.9L354.2 392.8L354.1 393.9ZM356.5 383.7L356.6 382.7L356.4 381.8L355.9 381.1L351.2 376.0L350.5 375.5L349.7 375.2L334.3 373.0L333.2 373.0L332.3 373.6L331.6 374.5L331.4 375.5L331.4 391.3L331.6 392.3L332.2 393.2L333.1 393.8L334.1 393.9L351.7 393.0L352.7 392.8L353.5 392.1L354.0 391.2ZM339.8 408.5L340.7 408.7L341.7 408.5L342.5 408.0L352.8 398.3L353.4 397.4L353.6 396.4L353.4 395.4L352.8 394.5L351.9 393.9L350.9 393.8L333.8 394.7L332.9 394.9L332.1 395.5L331.5 396.3L331.4 397.3L331.4 403.4L331.6 404.4L332.1 405.2L333.0 405.8ZM341.8 412.5L342.0 413.5L342.5 414.4L343.4 414.9L344.4 415.1L361.4 415.1L362.3 415.0L363.1 414.5L363.7 413.7L363.9 412.8L363.9 411.9L363.5 411.0L355.8 400.5L354.9 399.7L353.9 399.4L352.8 399.6L351.9 400.1L342.6 408.9L342.0 409.8L341.8 410.8ZM390.6 412.0L390.6 412.9L390.9 413.8L391.4 414.5L392.2 415.0L393.2 415.1L422.6 415.1L423.6 414.9L424.5 414.4L425.0 413.5L425.2 412.5L425.1 398.5L425.0 397.5L424.5 396.8L423.8 396.2L422.9 395.9L398.8 392.3L398.0 392.3L397.3 392.5L395.9 393.2L394.9 394.0L394.4 395.0ZM334.9 407.3L333.9 407.2L332.9 407.4L332.1 407.9L331.6 408.8L331.4 409.8L331.4 412.5L331.6 413.5L332.1 414.4L333.0 414.9L334.0 415.1L338.4 415.1L339.4 414.9L340.3 414.4L340.8 413.5L341.0 412.5L341.0 411.5L340.8 410.5L340.3 409.7L339.4 409.1ZM456.6 341.6L455.6 341.3L454.6 341.4L453.7 341.9L437.9 355.5L437.3 356.3L437.0 357.1L436.4 361.5L436.4 362.4L436.8 363.3L437.5 364.0L438.4 364.4L457.9 368.6L459.1 368.6L460.1 368.1L460.8 367.3L469.3 351.1L469.6 350.2L469.5 349.1L469.0 348.2L468.2 347.6ZM425.9 327.4L425.0 327.7L424.2 328.3L423.7 329.2L423.6 330.2L423.9 331.2L435.4 352.6L436.0 353.3L436.8 353.8L437.7 353.9L438.6 353.8L439.4 353.3L453.3 341.4L453.9 340.6L454.2 339.6L454.0 338.6L450.9 329.2L450.5 328.4L449.9 327.9L446.2 325.5L445.4 325.1L444.5 325.1ZM474.2 349.2L473.2 348.9L472.2 349.0L471.2 349.5L470.6 350.3L461.1 368.2L460.8 369.4L461.1 370.6L463.0 374.5L463.7 375.3L464.7 375.8L478.3 379.0L479.2 379.0L480.1 378.7L480.8 378.1L493.2 363.4L493.8 362.4L493.8 361.3L493.4 360.3L492.5 359.5ZM497.1 361.2L496.1 361.5L495.3 362.1L481.3 378.7L480.9 379.5L480.7 380.4L480.8 381.2L485.1 393.4L485.6 394.3L486.3 394.9L487.2 395.2L499.7 396.9L500.8 396.8L501.7 396.3L502.4 395.4L502.6 394.3L502.6 363.5L502.4 362.5L501.8 361.6L500.9 361.0L499.8 360.9ZM450.1 396.6L451.0 396.8L452.0 396.7L453.1 396.2L454.0 395.7L454.6 394.8L462.4 377.0L462.6 375.9L462.3 374.8L460.4 370.8L459.6 370.0L458.6 369.5L437.1 364.8L435.8 364.9L434.8 365.4L434.0 366.1L433.3 367.0L433.1 368.1L433.7 388.4L433.9 389.3L434.5 390.2L435.3 390.7ZM480.1 381.4L479.7 380.7L479.1 380.1L478.3 379.7L465.6 376.8L464.7 376.7L463.8 377.0L463.1 377.5L462.6 378.3L455.9 393.5L455.7 394.5L455.9 395.5L456.4 396.4L457.3 397.0L473.2 404.0L474.2 404.2L475.2 404.0L476.0 403.5L483.7 396.3L484.3 395.5L484.6 394.5L484.4 393.5ZM427.0 395.3L426.2 396.2L425.9 397.4L425.9 412.6L426.1 413.5L426.7 414.4L427.5 414.9L428.5 415.1L445.4 415.1L446.3 415.0L447.1 414.5L447.6 413.8L448.0 413.0L450.3 399.7L450.2 398.5L449.6 397.5L448.7 396.9L434.7 391.3L433.9 391.1L433.0 391.2L432.2 391.6ZM455.4 396.9L454.4 396.7L453.4 396.9L452.7 397.1L452.0 397.6L451.4 398.3L451.1 399.1L448.8 412.1L448.9 413.2L449.4 414.2L450.3 414.9L451.4 415.1L472.2 415.1L473.3 414.9L474.1 414.3L474.7 413.5L474.8 412.4L474.6 406.9L474.4 406.0L473.8 405.2L473.0 404.7ZM502.6 400.3L502.5 399.4L502.0 398.6L501.3 398.0L500.4 397.7L486.8 395.8L485.6 395.9L484.6 396.5L476.1 404.4L475.5 405.3L475.3 406.4L475.6 412.7L475.8 413.6L476.4 414.4L477.2 415.0L478.2 415.1L500.0 415.1L501.0 414.9L501.9 414.4L502.4 413.5L502.6 412.5Z" fill="#eeefed"/>
<circle cx="350.7" cy="375.0" r="1.1" fill="#85649f" opacity="0.7"/>
<circle cx="352.8" cy="300.9" r="1.0" fill="#85649f" opacity="0.7"/>
<circle cx="354.1" cy="397.6" r="1.0" fill="#85649f" opacity="0.7"/>
<circle cx="354.9" cy="341.1" r="1.0" fill="#85649f" opacity="0.7"/>
<circle cx="355.0" cy="341.2" r="0.8" fill="#85649f" opacity="0.7"/>
<circle cx="359.2" cy="277.0" r="0.8" fill="#85649f" opacity="0.7"/>
<circle cx="385.7" cy="354.0" r="1.2" fill="#85649f" opacity="0.7"/>
<circle cx="385.7" cy="354.0" r="0.8" fill="#85649f" opacity="0.7"/>
<circle cx="388.8" cy="321.3" r="1.0" fill="#85649f" opacity="0.7"/>
<circle cx="398.0" cy="391.8" r="0.7" fill="#85649f" opacity="0.7"/>
<circle cx="401.6" cy="272.0" r="1.1" fill="#85649f" opacity="0.7"/>
<circle cx="421.8" cy="327.5" r="1.0" fill="#85649f" opacity="0.7"/>
<circle cx="442.5" cy="295.5" r="1.0" fill="#85649f" opacity="0.7"/>
<circle cx="448.7" cy="301.4" r="1.0" fill="#85649f" opacity="0.7"/>
<circle cx="449.9" cy="274.5" r="1.1" fill="#85649f" opacity="0.7"/>
<circle cx="474.5" cy="273.9" r="1.1" fill="#85649f" opacity="0.7"/>
<circle cx="495.9" cy="320.9" r="1.0" fill="#85649f" opacity="0.7"/>
<circle cx="408.5" cy="258.0" r="2.6" fill="#dcc6e8" opacity="0.6"/>
<circle cx="385.2" cy="268.7" r="2.6" fill="#dcc6e8" opacity="0.6"/>
<circle cx="429.5" cy="342.3" r="2.6" fill="#dcc6e8" opacity="0.6"/>
<circle cx="446.1" cy="348.0" r="2.6" fill="#dcc6e8" opacity="0.6"/>
<circle cx="449.6" cy="345.0" r="2.6" fill="#dcc6e8" opacity="0.6"/>
<circle cx="331.0" cy="398.0" r="2.6" fill="#dcc6e8" opacity="0.6"/>
<circle cx="331.0" cy="401.0" r="2.6" fill="#dcc6e8" opacity="0.6"/>
<circle cx="362.6" cy="409.2" r="2.6" fill="#dcc6e8" opacity="0.6"/>
<circle cx="412.0" cy="365.0" r="2.6" fill="#dcc6e8" opacity="0.6"/>
<circle cx="449.8" cy="396.9" r="2.6" fill="#dcc6e8" opacity="0.6"/>
<circle cx="436.0" cy="361.8" r="2.6" fill="#dcc6e8" opacity="0.6"/>
<circle cx="467.5" cy="307.0" r="2.6" fill="#dcc6e8" opacity="0.6"/>
<circle cx="498.1" cy="279.0" r="2.6" fill="#dcc6e8" opacity="0.6"/>
<circle cx="478.9" cy="295.8" r="2.6" fill="#dcc6e8" opacity="0.6"/>
<circle cx="411.0" cy="258.0" r="2.6" fill="#dcc6e8" opacity="0.6"/>
<circle cx="408.5" cy="258.0" r="1.2" fill="#7a4f9e" opacity="0.85"/>
<circle cx="385.2" cy="268.7" r="1.2" fill="#7a4f9e" opacity="0.85"/>
<circle cx="429.5" cy="342.3" r="1.1" fill="#7a4f9e" opacity="0.85"/>
<circle cx="446.1" cy="348.0" r="1.6" fill="#7a4f9e" opacity="0.85"/>
<circle cx="449.6" cy="345.0" r="1.2" fill="#7a4f9e" opacity="0.85"/>
<circle cx="331.0" cy="398.0" r="1.2" fill="#7a4f9e" opacity="0.85"/>
<circle cx="331.0" cy="401.0" r="1.3" fill="#7a4f9e" opacity="0.85"/>
<circle cx="362.6" cy="409.2" r="1.6" fill="#7a4f9e" opacity="0.85"/>
<circle cx="412.0" cy="365.0" r="1.1" fill="#7a4f9e" opacity="0.85"/>
<circle cx="449.8" cy="396.9" r="1.4" fill="#7a4f9e" opacity="0.85"/>
<circle cx="436.0" cy="361.8" r="1.4" fill="#7a4f9e" opacity="0.85"/>
<circle cx="467.5" cy="307.0" r="1.6" fill="#7a4f9e" opacity="0.85"/>
<circle cx="498.1" cy="279.0" r="1.6" fill="#7a4f9e" opacity="0.85"/>
<circle cx="478.9" cy="295.8" r="1.6" fill="#7a4f9e" opacity="0.85"/>
<circle cx="411.0" cy="258.0" r="1.3" fill="#7a4f9e" opacity="0.85"/>
<rect x="330" y="257" width="174" height="159.5" fill="none" stroke="#000" stroke-width="2"/>
<rect x="509" y="256" width="176" height="161.5" fill="#aaa5b5"/>
<path d="M511.4 267.5L511.6 268.5L512.1 269.4L513.0 269.9L514.0 270.1L522.3 270.1L523.4 269.9L524.3 269.2L529.8 262.6L530.3 261.8L530.4 260.8L530.1 259.9L529.6 259.1L528.7 258.5L527.8 258.4L514.0 258.4L513.0 258.6L512.1 259.1L511.6 260.0L511.4 261.0ZM524.9 282.4L525.2 283.3L525.8 284.1L531.2 289.0L532.2 289.6L533.2 289.7L534.3 289.3L535.1 288.6L542.7 278.0L543.1 277.2L543.2 276.4L543.0 275.5L536.9 261.1L536.3 260.3L535.4 259.7L534.3 259.6L533.3 259.8L532.5 260.5L524.7 269.8L524.2 270.7L524.1 271.7ZM556.1 260.0L555.5 259.1L554.7 258.6L553.7 258.4L540.4 258.4L539.4 258.6L538.6 259.1L538.0 260.0L537.8 261.0L538.0 262.0L543.7 275.3L544.5 276.3L545.6 276.9L549.5 277.7L550.5 277.7L551.5 277.3L558.9 272.4L559.7 271.5L560.0 270.4L559.8 269.2ZM574.1 269.1L574.6 268.3L574.7 267.3L574.2 260.8L574.0 259.8L573.4 259.1L572.6 258.5L571.6 258.4L560.1 258.4L559.1 258.6L558.2 259.1L557.7 260.0L557.5 260.9L557.7 261.9L560.9 269.9L561.5 270.8L562.5 271.4L568.6 273.3L569.6 273.4L570.6 273.1L571.4 272.4ZM596.5 261.7L596.6 260.7L596.3 259.8L595.7 259.0L594.9 258.5L594.0 258.4L577.6 258.4L576.5 258.6L575.7 259.2L575.1 260.1L575.0 261.2L575.4 265.9L575.6 266.8L576.1 267.5L576.8 268.1L577.7 268.3L592.0 269.6L592.9 269.5L593.7 269.2L594.3 268.5L594.7 267.7ZM514.0 270.9L513.0 271.1L512.1 271.6L511.6 272.5L511.4 273.5L511.4 282.7L511.5 283.6L512.0 284.4L512.7 285.0L513.6 285.3L514.5 285.3L522.0 283.7L522.9 283.4L523.6 282.7L524.0 281.9L524.1 281.0L523.5 273.3L523.3 272.3L522.7 271.6L521.9 271.0L520.9 270.9ZM570.4 276.0L570.0 275.1L569.4 274.4L568.6 274.0L562.3 272.1L561.2 272.0L560.1 272.4L553.1 277.1L552.4 277.8L552.0 278.7L552.0 279.6L552.3 280.5L556.5 288.2L557.1 288.9L557.9 289.4L558.8 289.5L568.3 289.5L569.2 289.4L569.9 289.0L570.5 288.3L571.6 286.5L572.0 285.6L572.0 284.7ZM590.3 285.4L591.2 285.2L592.1 284.7L592.6 283.9L595.7 277.6L595.9 276.6L595.8 275.7L594.7 272.2L594.2 271.3L593.4 270.7L592.4 270.4L576.7 268.9L575.5 269.1L574.5 269.9L571.6 273.3L571.0 274.3L571.0 275.5L572.4 283.3L572.7 284.1L573.3 284.8L574.1 285.2L575.0 285.4ZM549.1 295.5L550.2 295.7L551.3 295.5L552.1 294.8L555.4 291.2L555.9 290.3L556.0 289.3L555.7 288.2L551.0 279.7L550.2 278.9L549.2 278.4L545.8 277.7L544.8 277.6L543.9 278.0L543.2 278.7L537.3 286.8L536.9 287.7L536.8 288.6L537.0 289.5L537.6 290.2L538.3 290.7ZM531.4 292.3L531.6 291.3L531.3 290.3L530.7 289.5L525.5 284.8L524.5 284.3L523.3 284.2L513.4 286.2L512.4 286.7L511.6 287.6L511.4 288.7L511.4 295.9L511.6 296.9L512.1 297.8L513.0 298.3L514.0 298.5L527.4 298.5L528.4 298.3L529.3 297.7L529.8 296.8ZM544.2 308.2L545.3 308.4L546.4 308.2L547.3 307.5L550.4 303.5L550.9 302.7L551.0 301.7L550.8 298.5L550.5 297.6L550.0 296.8L549.2 296.3L535.8 290.4L534.8 290.2L533.8 290.4L533.8 290.4L532.9 291.0L532.3 292.0L530.1 298.2L530.0 299.7L530.3 300.9L530.9 302.0L531.8 302.7ZM558.3 290.3L557.3 290.5L556.4 291.1L552.1 296.0L551.6 296.9L551.4 297.9L551.7 300.9L551.9 301.8L552.5 302.6L553.4 303.1L562.3 306.2L563.3 306.3L564.3 306.0L565.1 305.4L570.4 299.5L570.9 298.5L571.0 297.3L570.0 292.4L569.7 291.5L569.1 290.9L568.4 290.4L567.5 290.3ZM594.2 299.4L594.8 298.6L595.1 297.6L595.0 296.6L592.4 288.0L591.9 287.0L591.0 286.3L589.9 286.1L574.2 286.1L573.3 286.3L572.5 286.7L572.0 287.3L570.9 289.1L570.5 290.0L570.5 291.0L571.7 297.3L572.1 298.3L572.9 299.0L583.6 305.8L584.7 306.2L585.7 306.1L586.7 305.6ZM523.6 313.6L524.7 313.4L525.7 312.8L526.3 311.9L529.6 303.2L529.8 302.4L529.8 301.6L529.7 301.3L529.2 300.2L528.3 299.5L527.1 299.3L514.0 299.3L513.0 299.5L512.1 300.0L511.6 300.9L511.4 301.9L511.4 310.1L511.5 311.0L512.0 311.8L512.8 312.4L513.7 312.6ZM553.3 303.9L552.3 303.7L551.2 304.0L550.4 304.7L547.2 308.8L546.7 309.7L546.6 310.6L547.1 317.3L547.3 318.1L547.8 318.9L548.6 319.4L552.0 321.0L553.1 321.2L554.2 321.0L555.1 320.3L563.0 310.9L563.5 310.0L563.6 309.0L563.3 308.0L562.7 307.2L561.8 306.7ZM584.7 309.0L584.6 308.1L584.2 307.2L583.5 306.5L573.5 300.3L572.7 299.9L571.8 299.9L570.9 300.2L570.2 300.8L565.2 306.4L564.7 307.3L564.5 308.4L564.6 308.8L564.8 309.7L565.3 310.4L571.0 316.2L571.8 316.7L572.7 317.0L573.6 316.9L582.6 314.2L583.5 313.7L584.1 312.9L584.4 312.0ZM602.4 301.7L601.8 300.9L600.9 300.5L597.4 299.3L596.5 299.1L595.7 299.3L594.9 299.7L586.4 306.7L585.8 307.5L585.5 308.5L585.0 313.1L585.1 313.9L585.3 314.6L587.9 319.2L588.4 319.9L589.2 320.3L590.0 320.5L606.5 321.5L607.4 321.3L608.3 320.9L609.6 319.8L610.3 318.8L610.5 317.7L610.2 316.6ZM526.6 313.1L526.4 314.1L526.6 315.1L527.7 317.5L528.2 318.2L528.9 318.8L537.0 322.8L538.3 323.1L539.5 322.8L545.0 319.6L545.8 319.0L546.3 318.2L546.4 317.2L545.9 311.3L545.7 310.4L545.2 309.6L544.4 309.1L533.0 304.0L532.0 303.8L531.0 304.0L530.1 304.6L529.5 305.5ZM526.4 319.8L526.8 318.9L527.0 318.0L526.7 317.2L526.2 315.9L525.7 315.1L524.9 314.6L524.0 314.3L514.2 313.4L513.1 313.5L512.2 314.1L511.6 315.0L511.4 316.0L511.4 323.7L511.6 324.8L512.2 325.6L513.1 326.2L518.2 327.8L519.2 328.0L520.3 327.6L521.1 326.9ZM555.7 320.7L555.1 321.7L555.1 322.9L555.5 323.9L556.6 325.4L557.3 326.0L558.1 326.4L564.8 327.9L565.7 327.9L566.6 327.7L567.3 327.2L567.8 326.4L570.9 319.4L571.1 318.4L570.9 317.4L570.3 316.5L566.3 312.4L565.4 311.9L564.4 311.7L563.3 311.9L562.5 312.6ZM585.4 316.2L584.6 315.4L583.6 314.9L582.4 315.0L573.4 317.7L572.5 318.2L571.8 319.1L568.2 327.3L568.0 328.2L568.1 329.1L568.5 330.0L572.3 334.8L573.2 335.5L574.4 335.8L581.3 335.8L582.3 335.6L583.2 334.9L583.7 334.0L587.6 321.9L587.7 320.8L587.4 319.8ZM533.7 339.5L534.8 339.5L535.7 339.0L536.4 338.2L536.7 337.2L537.7 325.8L537.6 324.8L537.1 323.9L536.3 323.3L529.8 320.0L528.9 319.8L528.0 319.8L527.2 320.2L526.6 320.8L521.2 327.9L520.8 329.0L520.8 330.1L522.5 336.3L523.0 337.2L523.7 337.9L524.7 338.2ZM537.5 336.1L537.6 337.1L538.1 338.0L538.9 338.6L539.9 338.9L548.7 339.6L549.7 339.4L550.6 338.9L551.2 338.1L555.9 327.9L556.2 327.0L556.1 326.1L555.7 325.3L554.0 323.1L553.0 322.2L548.1 320.0L546.9 319.8L545.7 320.1L539.8 323.4L538.9 324.3L538.5 325.4ZM584.3 334.6L584.2 335.5L584.4 336.4L584.9 337.2L586.0 338.3L586.9 338.9L588.0 339.1L601.8 338.3L602.9 338.0L603.8 337.3L604.2 336.3L606.6 325.2L606.6 324.1L606.1 323.1L605.2 322.3L604.2 322.0L590.6 321.3L589.5 321.5L588.6 322.1L588.0 323.1ZM559.2 327.4L558.1 327.4L557.0 327.9L556.3 328.8L551.8 338.6L551.6 339.5L551.7 340.4L552.1 341.3L554.3 343.9L555.1 344.6L556.1 344.9L564.5 345.5L565.4 345.4L566.2 345.0L566.9 344.4L571.4 337.7L571.8 336.7L571.8 335.6L571.3 334.7L567.5 329.8L566.9 329.3L566.0 328.9ZM521.0 339.2L521.6 338.5L521.9 337.5L521.8 336.5L520.2 330.5L519.8 329.7L519.2 329.1L518.5 328.7L514.8 327.5L513.8 327.3L512.9 327.6L512.1 328.2L511.5 329.0L511.4 329.9L511.4 337.3L511.6 338.3L512.1 339.2L513.0 339.7L514.0 339.9L519.2 339.9L520.1 339.8L520.8 339.3ZM616.1 279.2L617.2 279.1L618.1 278.6L618.8 277.8L619.1 276.7L619.9 261.1L619.8 260.1L619.2 259.2L618.4 258.6L617.3 258.4L600.1 258.4L599.1 258.6L598.2 259.3L597.6 260.2L595.0 269.4L594.9 270.2L595.0 270.9L596.3 274.8L596.7 275.6L597.5 276.3L598.4 276.6ZM639.5 280.8L640.6 280.5L641.5 279.6L642.6 278.0L643.0 276.9L642.9 275.8L638.1 260.2L637.6 259.2L636.7 258.6L635.6 258.4L623.3 258.4L622.3 258.5L621.5 259.1L620.9 259.9L620.7 260.8L619.7 279.0L619.8 279.8L620.1 280.6L620.2 280.7L620.8 281.3L621.6 281.7L622.5 281.8ZM659.6 261.3L659.5 260.2L659.0 259.3L658.1 258.6L657.0 258.4L641.8 258.4L640.9 258.5L640.1 259.1L639.5 259.8L639.2 260.8L639.3 261.7L643.2 274.2L643.6 275.0L644.4 275.7L645.3 276.0L646.3 275.9L656.2 273.3L657.1 272.9L657.8 272.1L658.1 271.2ZM682.6 261.0L682.4 260.0L681.9 259.1L681.0 258.6L680.0 258.4L663.0 258.4L662.1 258.5L661.3 259.0L660.7 259.7L660.4 260.6L658.8 271.5L658.9 272.4L659.2 273.2L659.8 273.9L666.5 279.1L667.6 279.6L668.8 279.5L680.8 276.0L681.7 275.5L682.4 274.6L682.6 273.5ZM620.2 283.4L620.2 282.4L619.8 281.5L619.7 281.2L618.9 280.5L617.9 280.1L598.6 277.3L597.5 277.4L596.5 277.9L595.9 278.8L593.0 284.9L592.7 285.8L592.8 286.7L595.8 296.8L596.5 297.9L597.5 298.5L600.9 299.7L602.1 299.8L603.2 299.4L618.1 289.9L618.9 289.2L619.3 288.2ZM632.9 304.8L633.9 304.8L634.9 304.4L635.6 303.7L643.6 292.3L644.0 291.1L643.9 289.9L641.4 283.3L640.8 282.3L639.9 281.7L638.8 281.6L623.1 282.5L622.0 282.8L621.2 283.6L620.7 284.6L619.9 288.5L619.9 289.4L620.2 290.3L626.6 302.3L627.3 303.1L628.2 303.6ZM666.6 282.1L666.7 281.1L666.4 280.1L665.7 279.4L659.2 274.3L658.1 273.8L656.9 273.9L644.8 277.1L644.0 277.5L643.3 278.2L642.1 280.0L641.7 281.2L641.8 282.4L644.7 289.9L645.2 290.8L646.0 291.4L657.5 296.7L658.7 296.9L659.9 296.6L662.4 295.2L663.2 294.5L663.6 293.6ZM678.9 302.1L679.9 302.3L680.9 302.2L681.8 301.6L682.4 300.8L682.6 299.7L682.6 279.7L682.5 278.8L682.0 277.9L681.2 277.4L680.3 277.1L679.3 277.2L669.2 280.2L668.4 280.6L667.8 281.2L667.4 282.0L664.6 292.6L664.6 293.8L665.1 294.9L666.0 295.6ZM610.2 314.9L610.8 315.7L611.6 316.2L612.6 316.3L613.5 316.1L614.3 315.6L625.1 304.9L625.7 304.0L625.8 302.9L625.5 301.8L620.6 292.5L619.9 291.7L618.9 291.2L617.9 291.2L616.9 291.5L604.7 299.3L604.0 300.0L603.5 300.9L603.5 301.8L603.8 302.7ZM657.9 299.9L657.9 298.7L657.3 297.7L656.4 297.0L646.9 292.6L646.0 292.3L645.1 292.4L644.3 292.8L643.7 293.4L636.2 304.2L635.8 305.1L635.8 306.1L636.1 307.1L637.7 309.5L638.4 310.2L639.4 310.6L640.4 310.6L654.8 307.4L655.7 307.0L656.4 306.3L656.8 305.4ZM664.9 295.9L663.7 295.6L662.5 295.9L660.1 297.3L659.2 298.0L658.8 299.0L657.3 306.5L657.3 307.3L657.5 308.1L661.2 316.1L661.8 316.9L662.6 317.4L663.6 317.6L664.6 317.3L681.1 309.8L681.9 309.3L682.5 308.4L682.6 307.5L682.6 306.4L682.5 305.4L682.0 304.6L681.2 304.0ZM614.7 316.2L614.2 317.0L613.9 317.8L614.0 318.8L614.4 319.6L615.1 320.2L627.4 328.5L628.4 328.9L629.5 328.9L630.5 328.4L637.1 323.1L637.9 322.2L638.1 321.1L638.1 312.3L637.7 310.9L635.1 306.8L634.4 306.1L633.5 305.7L628.4 304.4L627.5 304.3L626.7 304.5L626.0 305.0ZM657.4 309.7L656.7 308.7L655.7 308.2L654.5 308.2L640.9 311.3L639.8 311.8L639.1 312.7L638.9 313.8L638.9 320.5L639.1 321.5L639.7 322.4L640.6 322.9L651.2 326.6L652.0 326.8L652.9 326.7L653.6 326.3L660.4 321.0L661.2 320.1L661.5 319.0L661.2 317.9ZM664.6 318.1L663.8 318.7L663.3 319.5L663.1 320.5L663.3 321.5L663.8 322.3L675.2 333.7L675.9 334.2L676.6 334.4L679.6 335.0L680.7 334.9L681.7 334.4L682.4 333.5L682.6 332.4L682.6 314.0L682.4 313.0L681.9 312.1L681.0 311.5L680.0 311.4L679.0 311.6ZM608.6 321.5L608.1 322.2L607.8 323.0L604.8 337.3L604.8 338.4L605.2 339.4L610.7 346.4L611.4 347.0L612.3 347.4L613.3 347.4L626.2 344.6L627.2 344.1L627.9 343.2L628.2 342.1L628.6 331.6L628.5 330.8L628.1 330.0L627.4 329.4L613.4 320.0L612.4 319.6L611.3 319.6L610.3 320.1ZM639.9 323.4L639.1 323.3L638.2 323.4L637.4 323.8L630.3 329.4L629.6 330.3L629.3 331.4L628.9 343.1L629.1 344.2L629.8 345.1L632.5 347.6L633.3 348.1L634.2 348.3L635.1 348.1L651.4 342.2L652.3 341.6L652.9 340.7L653.1 339.6L652.3 329.5L652.1 328.5L651.5 327.7L650.6 327.2ZM654.0 326.8L653.5 327.5L653.1 328.2L653.0 329.1L653.9 340.3L654.2 341.4L655.0 342.3L656.6 343.4L657.4 343.7L658.4 343.8L659.3 343.5L672.1 336.2L672.8 335.6L673.3 334.8L673.4 333.8L673.2 332.9L672.6 332.1L663.2 322.7L662.4 322.2L661.5 321.9L660.6 322.0L659.8 322.5ZM518.9 355.0L519.0 356.0L519.4 356.8L520.1 357.5L521.0 357.9L521.9 357.9L533.1 356.1L534.0 355.8L534.7 355.3L535.1 354.5L535.3 353.6L535.3 342.7L535.1 341.8L534.7 341.0L533.9 340.4L533.1 340.1L523.9 338.8L522.9 338.9L521.9 339.4L521.4 339.8L520.8 340.6L520.5 341.5ZM538.8 339.6L537.8 339.7L536.8 340.2L536.2 341.1L536.0 342.1L536.0 352.8L536.2 353.8L536.7 354.6L537.5 355.2L538.5 355.4L548.1 355.9L549.1 355.7L550.0 355.1L550.6 354.3L553.8 346.7L554.0 345.8L553.9 344.8L553.4 344.0L551.2 341.3L550.4 340.6L549.4 340.3ZM568.0 359.4L568.8 358.6L569.1 357.6L569.0 356.5L566.4 348.0L565.9 347.1L565.1 346.5L564.1 346.2L556.9 345.7L555.8 345.8L554.9 346.4L554.3 347.3L551.1 355.0L550.9 355.8L551.0 356.7L551.4 357.5L556.2 364.3L556.9 365.0L557.8 365.3L558.8 365.3L559.7 365.0ZM574.5 336.5L573.3 336.8L572.3 337.6L567.3 345.0L566.9 346.1L566.9 347.2L569.9 356.9L570.5 358.0L571.6 358.6L581.4 361.7L582.4 361.8L583.3 361.6L584.0 361.1L586.0 359.1L586.6 358.3L586.8 357.2L586.4 340.7L586.2 339.8L585.6 339.0L584.0 337.3L583.2 336.7L582.2 336.5ZM589.6 339.7L588.6 340.0L587.8 340.6L587.3 341.4L587.1 342.4L587.4 355.6L587.7 356.6L588.2 357.4L589.1 357.9L590.0 358.1L604.6 358.1L605.5 358.0L606.3 357.5L606.9 356.7L610.4 349.6L610.6 348.7L610.5 347.7L610.1 346.9L604.8 340.0L603.8 339.3L602.6 339.0ZM517.0 359.3L517.6 358.5L517.9 357.6L519.5 343.6L519.4 342.5L518.9 341.5L518.0 340.9L516.9 340.7L514.0 340.7L513.0 340.9L512.1 341.4L511.6 342.3L511.4 343.3L511.4 358.3L511.5 359.2L512.0 360.0L512.7 360.5L513.6 360.8L514.5 360.8L514.6 360.8L515.7 360.3ZM519.4 359.0L518.3 359.4L517.6 360.2L517.2 361.2L517.3 362.3L517.8 363.3L526.5 373.5L527.3 374.1L528.1 374.4L529.1 374.3L529.9 374.0L535.6 370.2L536.3 369.5L536.7 368.6L536.7 367.6L535.4 359.1L535.0 358.2L534.3 357.4L533.4 357.0L532.4 357.0ZM538.8 356.2L537.9 356.3L537.1 356.7L536.5 357.4L536.1 358.3L536.1 359.2L537.5 367.9L538.0 369.0L538.9 369.8L545.8 373.6L546.7 373.9L547.6 373.9L548.4 373.5L555.4 369.3L556.2 368.6L556.6 367.6L556.6 366.5L556.2 365.6L550.7 357.7L549.8 356.9L548.7 356.6ZM559.1 366.2L558.4 367.0L558.0 368.0L558.0 369.1L558.5 370.0L567.3 381.0L568.1 381.7L569.0 382.0L570.0 381.9L581.5 379.1L582.3 378.7L583.0 378.1L583.4 377.3L583.5 376.4L582.8 364.6L582.5 363.6L581.9 362.8L581.0 362.3L571.3 359.3L570.1 359.2L569.0 359.6ZM584.2 376.7L584.5 377.8L585.2 378.6L586.2 379.1L587.3 379.1L601.0 376.7L602.2 376.2L603.0 375.2L607.8 365.0L608.0 363.9L607.8 362.9L606.8 360.5L606.3 359.6L605.4 359.1L604.4 358.9L588.4 358.9L587.4 359.1L586.5 359.6L584.2 361.9L583.6 362.8L583.5 363.9ZM527.3 377.1L527.3 375.9L526.7 374.8L516.2 362.6L515.5 362.0L514.7 361.7L513.8 361.7L513.5 361.8L512.4 362.3L511.6 363.2L511.4 364.3L511.4 383.2L511.6 384.2L512.2 385.1L513.1 385.6L514.1 385.8L523.5 385.2L524.5 384.9L525.4 384.2L525.8 383.2ZM538.8 370.6L537.9 370.3L537.0 370.3L536.1 370.7L529.1 375.4L528.4 376.0L528.0 376.9L526.4 383.8L526.4 384.7L526.7 385.6L527.2 386.3L530.4 389.2L531.2 389.8L532.2 389.9L533.1 389.7L544.0 385.2L544.7 384.7L545.3 384.0L545.6 383.2L546.5 376.7L546.4 375.7L546.0 374.7L545.2 374.1ZM546.3 383.4L546.3 384.2L546.6 385.0L547.1 385.7L554.4 392.3L555.6 392.9L556.8 392.9L561.9 391.6L562.8 391.1L563.5 390.4L566.9 384.3L567.2 383.3L567.2 382.3L566.7 381.4L558.4 371.0L557.7 370.4L556.8 370.0L555.8 370.1L555.0 370.4L548.5 374.3L547.7 375.1L547.3 376.2ZM603.4 378.4L602.8 377.8L601.9 377.4L601.0 377.4L588.4 379.7L587.4 380.1L586.6 380.8L586.3 381.8L586.3 382.9L588.4 390.7L588.9 391.6L589.7 392.3L590.6 392.6L603.9 394.3L604.9 394.2L605.8 393.7L606.5 393.0L609.3 388.2L609.6 387.2L609.5 386.2L609.0 385.2ZM531.0 399.0L531.4 398.2L531.6 397.3L531.2 392.0L531.0 391.0L530.4 390.2L526.4 386.5L525.5 386.0L524.5 385.8L513.8 386.5L512.9 386.8L512.1 387.3L511.5 388.2L511.4 389.1L511.4 400.0L511.5 401.0L512.1 401.8L512.9 402.4L522.6 406.8L523.8 407.0L524.9 406.8L525.8 406.0ZM533.6 390.3L532.7 390.9L532.2 391.8L532.0 392.9L532.2 396.6L532.4 397.5L532.9 398.2L533.7 398.8L546.7 405.3L547.7 405.5L548.7 405.4L549.6 404.9L550.2 404.0L554.1 395.4L554.4 394.4L554.2 393.3L553.5 392.4L546.8 386.4L546.0 385.9L545.0 385.8L544.1 385.9ZM572.3 402.5L573.2 403.2L574.3 403.4L575.5 403.2L585.0 398.8L585.7 398.2L586.3 397.4L587.9 393.5L588.1 392.7L588.0 391.8L585.2 381.5L584.8 380.6L584.0 380.0L583.1 379.6L582.1 379.7L569.5 382.8L568.6 383.2L567.9 384.0L564.5 390.1L564.2 391.0L564.3 392.1L564.7 393.0ZM609.2 406.7L609.1 405.2L606.1 396.7L605.6 395.9L604.9 395.3L604.0 395.0L590.8 393.3L589.7 393.4L588.7 394.0L588.1 394.9L587.1 397.4L586.9 398.6L587.3 399.7L595.9 413.9L596.4 414.6L597.2 415.0L598.1 415.1L605.0 415.1L606.1 414.9L607.0 414.2L607.5 413.2ZM525.6 412.8L525.8 413.7L526.4 414.5L527.2 415.0L528.2 415.1L547.4 415.1L548.4 415.0L549.1 414.5L549.7 413.8L550.0 412.9L550.0 412.0L549.2 408.4L548.7 407.4L547.8 406.6L534.0 399.7L533.2 399.5L532.3 399.5L531.4 399.9L530.8 400.5L525.6 407.4L525.2 408.3L525.1 409.3ZM556.8 393.6L555.8 394.1L555.1 395.0L550.0 406.2L549.8 407.0L549.8 407.8L551.0 413.1L551.5 414.2L552.4 414.9L553.5 415.1L567.9 415.1L569.0 414.9L569.8 414.3L570.4 413.3L572.7 405.9L572.8 404.6L572.2 403.5L564.1 393.3L563.3 392.7L562.4 392.4L561.4 392.5ZM571.6 411.8L571.5 412.7L571.8 413.7L572.3 414.4L573.1 415.0L574.1 415.1L591.2 415.1L592.2 414.9L593.1 414.3L593.6 413.3L593.7 412.2L593.4 411.2L587.2 401.1L586.6 400.4L585.8 400.0L584.8 399.8L583.9 400.1L574.9 404.3L574.0 404.9L573.5 405.8ZM522.2 415.1L523.3 414.9L524.1 414.3L524.7 413.3L524.8 412.2L524.5 409.8L524.2 409.0L523.7 408.3L523.0 407.8L515.0 404.2L514.0 403.9L513.0 404.1L512.1 404.7L511.6 405.5L511.4 406.5L511.4 412.5L511.6 413.5L512.1 414.4L513.0 414.9L514.0 415.1ZM613.0 348.1L611.9 348.6L611.2 349.5L607.3 357.5L607.1 358.5L607.3 359.6L608.5 362.8L609.0 363.6L609.8 364.1L620.2 369.3L621.2 369.6L622.2 369.4L628.7 367.1L629.4 366.8L629.9 366.2L634.5 359.9L634.9 358.9L634.9 357.9L633.4 350.1L633.1 349.3L632.6 348.7L629.4 345.7L628.3 345.1L627.1 345.1ZM636.1 348.5L635.3 349.0L634.7 349.7L634.4 350.6L634.4 351.5L635.6 357.6L636.0 358.6L637.0 359.4L647.0 364.4L647.9 364.7L648.7 364.6L649.6 364.3L660.3 357.4L661.0 356.8L661.4 356.0L661.5 355.1L661.3 354.3L657.9 345.7L657.5 345.0L656.9 344.5L654.6 342.9L653.5 342.5L652.3 342.6ZM662.5 355.2L663.0 356.0L663.8 356.6L668.7 358.9L669.5 359.1L670.3 359.1L680.6 356.9L681.6 356.4L682.4 355.5L682.6 354.3L682.6 338.4L682.5 337.5L682.0 336.8L681.3 336.2L680.5 335.9L676.6 335.2L675.7 335.2L674.9 335.5L660.3 343.7L659.6 344.3L659.1 345.1L659.0 346.0L659.2 346.9ZM620.4 372.3L620.4 371.2L619.9 370.2L619.0 369.5L611.2 365.6L610.2 365.3L609.2 365.5L608.3 366.0L607.7 366.8L603.7 375.2L603.5 376.2L603.6 377.1L604.1 378.0L609.7 385.0L610.5 385.6L611.4 385.9L612.3 385.9L616.4 385.0L617.4 384.6L618.1 383.8L618.4 382.9ZM650.3 372.8L650.6 373.7L651.2 374.3L651.9 374.7L662.7 378.7L663.9 378.9L664.9 378.5L665.8 377.8L666.2 376.7L668.7 361.8L668.7 360.7L668.1 359.7L667.3 359.0L663.9 357.4L663.1 357.2L662.2 357.3L661.4 357.6L650.3 364.7L649.5 365.4L649.1 366.4L649.1 367.4ZM667.0 376.0L667.1 377.1L667.5 378.0L668.2 378.7L669.2 379.0L679.6 380.8L680.7 380.7L681.7 380.2L682.4 379.3L682.6 378.2L682.6 360.4L682.5 359.5L682.0 358.7L681.3 358.1L680.4 357.8L679.5 357.9L671.5 359.6L670.6 360.0L669.8 360.7L669.5 361.7ZM635.9 380.4L636.4 381.1L637.2 381.7L638.1 381.9L642.2 382.2L643.5 382.0L644.5 381.3L649.1 375.4L649.6 374.4L649.6 373.2L648.3 367.0L647.8 365.9L646.9 365.2L637.6 360.5L636.7 360.3L635.8 360.3L635.0 360.7L634.3 361.3L631.0 366.0L630.6 366.8L630.5 367.7L630.7 368.6ZM619.3 382.3L619.3 383.3L619.7 384.2L620.4 384.9L621.4 385.3L629.1 386.7L630.3 386.6L631.3 386.1L634.4 383.3L635.1 382.4L635.3 381.4L635.1 380.3L630.5 369.8L629.9 369.0L629.1 368.5L628.2 368.3L627.2 368.4L622.9 370.0L622.1 370.4L621.5 371.1L621.2 371.9ZM661.4 389.7L662.3 389.0L662.7 388.0L663.9 382.3L664.0 381.4L663.7 380.5L663.1 379.8L662.3 379.3L652.2 375.6L651.1 375.4L650.1 375.7L649.2 376.4L645.2 381.5L644.7 382.3L644.6 383.3L644.8 384.2L648.5 392.2L648.9 392.9L649.6 393.4L650.9 394.1L651.7 394.4L652.5 394.4L653.4 394.1ZM667.8 379.5L666.8 379.6L665.9 379.9L665.2 380.6L664.8 381.6L663.5 387.9L663.4 388.7L663.7 389.6L664.2 390.3L669.4 395.5L670.1 396.0L671.0 396.2L672.0 396.1L680.8 393.4L681.8 392.9L682.4 392.0L682.6 390.9L682.6 384.2L682.5 383.3L682.0 382.6L681.3 382.0L680.5 381.7ZM632.8 397.0L633.2 397.8L633.8 398.5L634.7 399.0L635.6 399.0L636.5 398.8L645.8 394.2L646.6 393.6L647.1 392.7L647.3 391.7L647.0 390.8L644.2 384.4L643.6 383.7L642.9 383.2L642.0 382.9L637.5 382.6L636.5 382.7L635.6 383.2L632.0 386.4L631.5 387.1L631.2 388.0L631.2 388.9ZM612.0 386.7L611.0 387.1L610.3 387.9L606.8 393.9L606.5 394.9L606.6 396.0L609.0 402.8L609.6 403.7L610.4 404.3L611.5 404.5L612.5 404.3L619.3 401.3L620.2 400.6L620.7 399.6L620.8 398.5L619.0 387.9L618.6 387.0L617.9 386.2L617.0 385.8L615.9 385.8ZM621.6 398.6L621.9 399.6L622.7 400.3L623.6 400.7L629.4 401.9L630.4 401.9L631.4 401.5L632.1 400.8L632.5 399.9L632.5 398.8L630.6 389.3L630.2 388.4L629.4 387.7L628.5 387.3L623.0 386.3L622.0 386.3L621.1 386.7L620.4 387.4L620.0 388.3L620.0 389.3ZM631.8 415.1L632.7 415.0L633.5 414.5L634.1 413.7L634.3 412.8L634.3 411.9L632.5 404.8L632.1 403.9L631.4 403.2L630.5 402.9L622.4 401.2L621.6 401.2L620.8 401.4L611.2 405.6L610.3 406.3L609.7 407.4L608.6 411.9L608.5 412.8L608.8 413.7L609.4 414.5L610.2 415.0L611.1 415.1ZM640.8 415.1L641.8 414.9L642.6 414.4L652.1 404.9L652.8 403.8L652.9 402.6L652.0 396.7L651.5 395.6L650.6 394.8L649.7 394.3L648.5 394.0L647.3 394.2L634.4 400.7L633.6 401.2L633.1 402.0L633.1 402.1L632.9 402.9L633.0 403.8L635.3 413.2L635.9 414.2L636.8 414.9L637.9 415.1ZM664.5 409.2L665.4 409.4L666.3 409.3L667.2 408.9L667.8 408.2L668.2 407.3L669.7 398.4L669.7 397.2L669.0 396.1L664.1 391.2L663.2 390.6L662.1 390.4L661.0 390.7L654.1 394.5L653.3 395.2L652.8 396.1L652.8 397.2L653.6 402.5L654.0 403.6L655.0 404.4ZM682.6 397.1L682.5 396.2L681.9 395.4L681.2 394.8L680.2 394.5L679.3 394.6L672.2 396.8L671.4 397.2L670.7 397.9L670.4 398.8L668.4 410.3L668.4 411.2L668.6 412.0L669.5 413.7L670.1 414.5L670.9 415.0L671.8 415.1L680.0 415.1L681.0 414.9L681.9 414.4L682.4 413.5L682.6 412.5ZM647.3 410.7L646.7 411.5L646.5 412.5L646.7 413.5L647.3 414.4L648.2 414.9L649.1 415.1L663.8 415.1L664.8 415.0L665.6 414.4L666.2 413.6L666.4 412.6L666.3 411.7L665.8 410.8L665.0 410.2L655.2 405.3L654.2 405.1L653.1 405.2L652.2 405.8Z" fill="#efefee"/>
<circle cx="515.4" cy="361.0" r="1.3" fill="#85649f" opacity="0.7"/>
<circle cx="518.1" cy="358.8" r="1.1" fill="#85649f" opacity="0.7"/>
<circle cx="520.1" cy="328.8" r="0.8" fill="#85649f" opacity="0.7"/>
<circle cx="522.7" cy="338.3" r="1.1" fill="#85649f" opacity="0.7"/>
<circle cx="525.7" cy="385.4" r="1.2" fill="#85649f" opacity="0.7"/>
<circle cx="525.8" cy="314.1" r="0.8" fill="#85649f" opacity="0.7"/>
<circle cx="527.8" cy="318.6" r="0.9" fill="#85649f" opacity="0.7"/>
<circle cx="531.5" cy="390.8" r="0.9" fill="#85649f" opacity="0.7"/>
<circle cx="532.4" cy="290.6" r="1.1" fill="#85649f" opacity="0.7"/>
<circle cx="535.6" cy="340.2" r="1.1" fill="#85649f" opacity="0.7"/>
<circle cx="544.0" cy="276.9" r="0.7" fill="#85649f" opacity="0.7"/>
<circle cx="546.9" cy="319.0" r="1.3" fill="#85649f" opacity="0.7"/>
<circle cx="550.6" cy="278.3" r="0.9" fill="#85649f" opacity="0.7"/>
<circle cx="551.0" cy="296.7" r="1.2" fill="#85649f" opacity="0.7"/>
<circle cx="551.5" cy="302.9" r="1.1" fill="#85649f" opacity="0.7"/>
<circle cx="557.0" cy="289.9" r="0.8" fill="#85649f" opacity="0.7"/>
<circle cx="561.1" cy="271.3" r="1.2" fill="#85649f" opacity="0.7"/>
<circle cx="564.3" cy="309.9" r="0.8" fill="#85649f" opacity="0.7"/>
<circle cx="566.2" cy="346.0" r="0.9" fill="#85649f" opacity="0.7"/>
<circle cx="567.1" cy="328.8" r="1.0" fill="#85649f" opacity="0.7"/>
<circle cx="570.4" cy="274.2" r="0.9" fill="#85649f" opacity="0.7"/>
<circle cx="571.6" cy="298.6" r="1.1" fill="#85649f" opacity="0.7"/>
<circle cx="572.5" cy="285.8" r="1.2" fill="#85649f" opacity="0.7"/>
<circle cx="572.9" cy="336.1" r="0.7" fill="#85649f" opacity="0.7"/>
<circle cx="575.2" cy="268.4" r="0.8" fill="#85649f" opacity="0.7"/>
<circle cx="583.4" cy="336.1" r="0.9" fill="#85649f" opacity="0.7"/>
<circle cx="585.3" cy="307.2" r="0.8" fill="#85649f" opacity="0.7"/>
<circle cx="586.2" cy="398.6" r="0.8" fill="#85649f" opacity="0.7"/>
<circle cx="596.0" cy="298.4" r="0.7" fill="#85649f" opacity="0.7"/>
<circle cx="596.5" cy="276.7" r="0.9" fill="#85649f" opacity="0.7"/>
<circle cx="606.4" cy="358.5" r="1.2" fill="#85649f" opacity="0.7"/>
<circle cx="607.6" cy="321.9" r="1.2" fill="#85649f" opacity="0.7"/>
<circle cx="608.6" cy="363.9" r="1.3" fill="#85649f" opacity="0.7"/>
<circle cx="611.7" cy="318.5" r="1.3" fill="#85649f" opacity="0.7"/>
<circle cx="618.4" cy="384.9" r="1.1" fill="#85649f" opacity="0.7"/>
<circle cx="619.4" cy="289.5" r="0.8" fill="#85649f" opacity="0.7"/>
<circle cx="621.5" cy="400.7" r="1.0" fill="#85649f" opacity="0.7"/>
<circle cx="632.4" cy="402.9" r="0.8" fill="#85649f" opacity="0.7"/>
<circle cx="633.6" cy="349.1" r="1.1" fill="#85649f" opacity="0.7"/>
<circle cx="636.3" cy="382.1" r="0.9" fill="#85649f" opacity="0.7"/>
<circle cx="638.5" cy="322.5" r="1.3" fill="#85649f" opacity="0.7"/>
<circle cx="644.8" cy="291.2" r="0.8" fill="#85649f" opacity="0.7"/>
<circle cx="652.1" cy="395.2" r="1.1" fill="#85649f" opacity="0.7"/>
<circle cx="657.9" cy="344.7" r="0.9" fill="#85649f" opacity="0.7"/>
<circle cx="667.5" cy="280.3" r="1.2" fill="#85649f" opacity="0.7"/>
<circle cx="667.9" cy="411.2" r="0.9" fill="#85649f" opacity="0.7"/>
<circle cx="675.6" cy="334.6" r="0.9" fill="#85649f" opacity="0.7"/>
<circle cx="546.4" cy="258.0" r="2.6" fill="#dcc6e8" opacity="0.6"/>
<circle cx="540.5" cy="268.7" r="2.6" fill="#dcc6e8" opacity="0.6"/>
<circle cx="541.9" cy="272.0" r="2.6" fill="#dcc6e8" opacity="0.6"/>
<circle cx="540.2" cy="292.0" r="2.6" fill="#dcc6e8" opacity="0.6"/>
<circle cx="529.9" cy="300.7" r="2.6" fill="#dcc6e8" opacity="0.6"/>
<circle cx="585.0" cy="309.4" r="2.6" fill="#dcc6e8" opacity="0.6"/>
<circle cx="555.1" cy="330.6" r="2.6" fill="#dcc6e8" opacity="0.6"/>
<circle cx="563.8" cy="328.0" r="2.6" fill="#dcc6e8" opacity="0.6"/>
<circle cx="671.6" cy="279.1" r="2.6" fill="#dcc6e8" opacity="0.6"/>
<circle cx="621.9" cy="282.2" r="2.6" fill="#dcc6e8" opacity="0.6"/>
<circle cx="555.0" cy="363.3" r="2.6" fill="#dcc6e8" opacity="0.6"/>
<circle cx="541.0" cy="339.3" r="2.6" fill="#dcc6e8" opacity="0.6"/>
<circle cx="583.2" cy="400.0" r="2.6" fill="#dcc6e8" opacity="0.6"/>
<circle cx="549.5" cy="407.9" r="2.6" fill="#dcc6e8" opacity="0.6"/>
<circle cx="594.4" cy="378.2" r="2.6" fill="#dcc6e8" opacity="0.6"/>
<circle cx="630.8" cy="369.7" r="2.6" fill="#dcc6e8" opacity="0.6"/>
<circle cx="619.6" cy="389.0" r="2.6" fill="#dcc6e8" opacity="0.6"/>
<circle cx="638.5" cy="382.3" r="2.6" fill="#dcc6e8" opacity="0.6"/>
<circle cx="683.0" cy="345.7" r="2.6" fill="#dcc6e8" opacity="0.6"/>
<circle cx="546.4" cy="258.0" r="1.5" fill="#7a4f9e" opacity="0.85"/>
<circle cx="540.5" cy="268.7" r="1.6" fill="#7a4f9e" opacity="0.85"/>
<circle cx="541.9" cy="272.0" r="1.5" fill="#7a4f9e" opacity="0.85"/>
<circle cx="540.2" cy="292.0" r="1.7" fill="#7a4f9e" opacity="0.85"/>
<circle cx="529.9" cy="300.7" r="1.5" fill="#7a4f9e" opacity="0.85"/>
<circle cx="585.0" cy="309.4" r="1.6" fill="#7a4f9e" opacity="0.85"/>
<circle cx="555.1" cy="330.6" r="1.5" fill="#7a4f9e" opacity="0.85"/>
<circle cx="563.8" cy="328.0" r="1.3" fill="#7a4f9e" opacity="0.85"/>
<circle cx="671.6" cy="279.1" r="1.4" fill="#7a4f9e" opacity="0.85"/>
<circle cx="621.9" cy="282.2" r="1.4" fill="#7a4f9e" opacity="0.85"/>
<circle cx="555.0" cy="363.3" r="1.4" fill="#7a4f9e" opacity="0.85"/>
<circle cx="541.0" cy="339.3" r="1.6" fill="#7a4f9e" opacity="0.85"/>
<circle cx="583.2" cy="400.0" r="1.3" fill="#7a4f9e" opacity="0.85"/>
<circle cx="549.5" cy="407.9" r="1.1" fill="#7a4f9e" opacity="0.85"/>
<circle cx="594.4" cy="378.2" r="1.5" fill="#7a4f9e" opacity="0.85"/>
<circle cx="630.8" cy="369.7" r="1.3" fill="#7a4f9e" opacity="0.85"/>
<circle cx="619.6" cy="389.0" r="1.4" fill="#7a4f9e" opacity="0.85"/>
<circle cx="638.5" cy="382.3" r="1.2" fill="#7a4f9e" opacity="0.85"/>
<circle cx="683.0" cy="345.7" r="1.6" fill="#7a4f9e" opacity="0.85"/>
<rect x="510" y="257" width="174" height="159.5" fill="none" stroke="#000" stroke-width="2"/>
<rect x="329" y="423" width="176" height="161.70000000000005" fill="#aaa5b5"/>
<path d="M348.0 427.2L347.4 426.2L346.6 425.6L345.5 425.4L334.0 425.4L333.0 425.6L332.1 426.1L331.6 427.0L331.4 428.0L331.4 459.8L331.6 460.8L332.2 461.7L333.1 462.3L334.2 462.4L347.3 461.4L348.4 461.1L349.2 460.3L354.8 452.2L355.2 451.2L355.1 450.0ZM351.7 425.4L350.7 425.5L349.9 426.1L349.3 426.8L349.1 427.8L349.2 428.7L355.4 448.7L355.9 449.5L356.6 450.1L357.4 450.5L358.3 450.5L370.0 448.6L371.0 448.2L371.7 447.5L372.1 446.5L375.8 428.5L375.8 427.6L375.5 426.7L374.9 426.0L374.1 425.5L373.2 425.4ZM386.5 426.7L385.9 426.0L385.1 425.5L384.2 425.4L379.3 425.4L378.1 425.6L377.2 426.4L376.7 427.4L372.8 446.9L372.8 447.8L373.1 448.7L373.7 449.4L381.9 456.0L382.7 456.5L383.6 456.6L384.5 456.4L393.3 452.7L394.0 452.2L394.6 451.5L394.8 450.6L395.7 443.5L395.6 442.6L395.3 441.9ZM391.1 425.4L390.0 425.6L389.1 426.2L388.6 427.2L388.5 428.2L388.8 429.3L395.0 439.8L395.6 440.6L396.5 441.0L397.5 441.1L398.5 440.8L410.1 434.4L410.7 433.8L411.2 433.1L411.4 432.3L411.7 428.1L411.5 427.1L411.0 426.2L410.1 425.6L409.1 425.4ZM397.6 442.1L396.7 442.9L396.3 444.1L395.6 450.4L395.7 451.4L396.2 452.4L397.0 453.0L407.5 458.6L408.6 458.9L409.6 458.8L410.5 458.2L419.9 449.3L420.5 448.5L420.7 447.6L420.6 446.7L420.2 445.8L412.9 436.2L412.2 435.5L411.4 435.2L410.5 435.2L409.6 435.5ZM372.9 449.7L371.9 449.2L370.8 449.2L357.2 451.4L356.2 451.8L355.4 452.5L350.2 460.1L349.8 461.1L349.8 462.2L350.3 463.1L358.7 474.1L359.3 474.7L360.2 475.0L361.0 475.1L377.7 473.2L378.7 472.9L379.5 472.2L379.9 471.2L382.4 459.1L382.4 458.2L382.0 457.3L381.4 456.6ZM396.1 453.4L395.0 453.1L393.8 453.3L384.6 457.1L383.6 457.9L383.1 459.0L380.5 472.1L380.5 473.2L381.0 474.2L384.4 478.7L385.1 479.3L385.9 479.6L398.6 482.8L399.6 482.9L400.5 482.5L401.3 481.9L410.1 470.9L410.6 469.9L410.6 468.8L409.2 461.4L408.7 460.3L407.8 459.6ZM349.4 463.2L348.8 462.6L348.0 462.2L347.1 462.1L333.8 463.1L332.8 463.4L332.1 464.0L331.5 464.8L331.4 465.7L331.4 490.1L331.6 491.2L332.2 492.1L333.2 492.6L341.5 495.3L342.8 495.4L352.8 493.5L353.7 493.2L354.4 492.5L354.9 491.6L358.7 476.9L358.7 475.8L358.3 474.7ZM380.6 474.9L379.9 474.3L379.1 473.9L378.2 473.9L361.5 475.8L360.5 476.1L359.7 476.8L359.3 477.7L356.1 489.6L356.1 490.6L356.3 491.5L356.9 492.2L357.7 492.7L358.6 492.9L376.6 492.9L377.6 492.7L378.4 492.2L379.0 491.4L383.7 481.2L383.9 480.3L383.8 479.3L383.4 478.5ZM403.6 498.3L404.2 497.4L404.4 496.4L404.3 495.4L400.6 485.2L399.9 484.2L398.8 483.6L387.1 480.7L386.2 480.6L385.3 480.8L384.6 481.3L384.1 482.1L379.3 492.5L379.1 493.3L379.1 494.2L382.1 507.0L382.5 507.9L383.2 508.5L384.0 508.9L388.5 510.0L389.8 510.0L390.9 509.4ZM401.7 482.5L401.3 483.3L401.1 484.2L401.3 485.0L405.2 495.8L405.8 496.8L406.6 497.4L415.3 500.9L416.3 501.1L417.4 500.8L418.2 500.2L432.6 483.9L433.2 482.9L433.2 481.7L432.8 479.4L432.4 478.5L431.8 477.8L431.1 477.4L413.1 471.1L412.0 471.0L411.0 471.3L410.2 472.0ZM359.2 493.6L358.2 493.8L357.3 494.4L356.8 495.3L356.6 496.4L356.9 497.4L365.0 513.5L365.6 514.3L366.5 514.8L367.4 515.0L368.4 514.7L379.8 509.5L380.8 508.8L381.3 507.8L381.3 506.6L378.7 495.6L378.2 494.6L377.3 493.9L376.2 493.6ZM423.1 448.0L422.3 448.2L421.5 448.7L410.7 459.1L410.2 459.8L409.9 460.6L409.9 461.4L411.2 468.4L411.6 469.2L412.2 469.9L412.9 470.3L430.7 476.5L431.9 476.6L432.9 476.3L433.8 475.5L438.2 468.8L438.6 467.4L438.7 455.6L438.4 454.4L437.7 453.5L430.6 448.0L429.8 447.6L428.8 447.5ZM421.4 446.2L422.0 446.8L422.8 447.1L423.7 447.2L427.8 446.8L428.9 446.5L429.7 445.9L430.1 444.9L434.4 428.6L434.5 427.7L434.2 426.8L433.7 426.0L432.9 425.5L431.9 425.4L415.0 425.4L414.0 425.5L413.2 426.1L412.7 426.8L412.4 427.8L412.1 432.8L412.2 433.7L412.6 434.6ZM437.9 452.8L438.7 453.2L439.6 453.3L440.5 453.1L451.7 448.5L452.6 447.9L453.2 446.9L454.0 444.5L454.2 443.7L454.1 442.9L449.3 427.2L448.7 426.2L447.9 425.6L446.8 425.4L438.0 425.4L436.9 425.6L436.1 426.3L435.5 427.3L430.8 445.2L430.7 446.2L431.1 447.2L431.7 447.9ZM454.1 440.5L454.6 441.5L455.5 442.1L456.5 442.4L457.6 442.2L469.0 437.6L469.9 437.1L470.4 436.2L470.6 435.2L470.6 428.0L470.4 427.0L469.9 426.1L469.0 425.6L468.0 425.4L453.0 425.4L452.0 425.5L451.2 426.1L450.6 426.8L450.4 427.8L450.5 428.7ZM490.2 428.3L490.1 427.2L489.6 426.3L488.7 425.6L487.6 425.4L474.0 425.4L473.0 425.6L472.1 426.1L471.6 427.0L471.4 428.0L471.4 436.0L471.6 437.0L472.1 437.8L476.2 441.9L476.9 442.5L477.9 442.7L478.8 442.6L487.0 439.8L487.9 439.4L488.5 438.6L488.8 437.8ZM498.3 447.5L499.2 448.0L500.1 448.2L501.1 448.0L501.9 447.4L502.5 446.6L502.6 445.6L502.6 428.0L502.4 427.0L501.9 426.1L501.0 425.6L500.0 425.4L493.6 425.4L492.7 425.5L491.9 426.0L491.3 426.7L491.1 427.6L489.5 438.1L489.5 438.9L489.8 439.7L490.3 440.4ZM473.0 457.0L474.0 456.6L474.8 455.8L475.2 454.8L476.6 444.9L476.5 443.7L475.9 442.7L472.1 438.9L471.3 438.3L470.3 438.1L469.3 438.3L456.1 443.6L455.2 444.2L454.6 445.1L454.1 446.6L453.9 447.6L454.2 448.6L454.8 449.4L463.5 457.3L464.4 457.8L465.6 457.9ZM481.2 461.7L482.1 462.2L483.1 462.3L500.3 460.4L501.2 460.1L502.0 459.5L502.5 458.7L502.6 457.8L502.6 453.5L502.4 452.5L501.8 451.6L489.9 441.0L489.1 440.5L488.3 440.4L487.4 440.5L479.0 443.2L478.2 443.7L477.6 444.4L477.3 445.3L475.8 455.5L475.8 456.4L476.1 457.2L476.7 457.8ZM439.3 465.8L439.5 466.7L440.0 467.4L440.7 468.0L441.5 468.3L456.5 470.9L457.7 470.8L458.7 470.2L459.4 469.3L463.1 460.2L463.3 459.2L463.1 458.2L462.5 457.3L454.2 449.8L453.4 449.3L452.4 449.2L451.5 449.4L441.0 453.7L440.1 454.3L439.6 455.1L439.4 456.1ZM463.6 480.5L464.6 481.5L469.8 484.6L470.6 484.9L471.6 484.9L473.8 484.4L474.7 484.1L475.4 483.4L475.8 482.6L481.0 464.5L481.1 463.5L480.8 462.6L480.2 461.8L476.0 458.2L475.1 457.7L474.0 457.6L466.0 458.6L465.1 458.9L464.4 459.4L463.9 460.2L459.6 470.5L459.4 471.6L459.7 472.7ZM500.7 485.8L501.7 485.3L502.4 484.4L502.6 483.3L502.6 463.7L502.4 462.7L501.8 461.8L500.8 461.3L499.7 461.1L483.9 462.9L482.9 463.2L482.2 463.9L481.7 464.8L476.7 482.1L476.6 483.0L476.8 483.9L477.3 484.7L478.0 485.2L485.8 489.0L486.6 489.3L487.6 489.2ZM433.8 476.8L433.4 477.7L433.4 478.7L434.0 481.9L434.3 482.8L435.0 483.5L441.5 488.4L442.3 488.9L443.2 489.0L444.0 488.8L460.5 482.3L461.4 481.7L462.0 480.8L462.2 479.7L461.9 478.7L459.1 473.1L458.4 472.2L457.2 471.7L440.8 468.9L439.8 469.0L438.9 469.4L438.2 470.1ZM435.8 485.0L434.9 484.6L434.0 484.5L433.0 484.8L432.3 485.4L418.7 500.8L418.2 501.7L418.0 502.7L418.3 503.6L423.3 513.8L423.7 514.5L424.4 515.0L428.7 517.3L429.6 517.6L430.5 517.5L437.2 515.9L438.1 515.4L438.8 514.6L445.6 502.3L445.9 501.3L445.8 500.2L442.6 490.7L442.2 490.0L441.7 489.5ZM464.7 482.4L463.6 482.1L462.5 482.3L445.4 489.0L444.5 489.6L444.0 490.4L443.7 491.3L443.9 492.3L446.3 499.4L446.8 500.3L447.6 500.9L448.6 501.1L461.4 502.0L462.4 501.9L463.4 501.3L464.0 500.4L469.2 487.7L469.4 486.8L469.3 485.9L468.8 485.1L468.1 484.5ZM485.3 504.6L485.5 503.6L486.1 491.7L486.0 490.7L485.5 489.9L484.7 489.3L476.4 485.2L475.6 485.0L474.7 485.0L472.2 485.5L471.0 486.0L470.3 487.0L464.3 501.5L464.1 502.5L464.4 503.6L468.2 511.6L468.8 512.4L469.8 512.9L470.9 513.0L480.6 511.6L481.8 511.1L482.6 510.2ZM502.6 489.4L502.5 488.5L502.0 487.7L501.2 487.1L500.3 486.8L499.4 486.9L488.8 489.6L487.8 490.1L487.1 491.0L486.8 492.0L486.4 501.6L486.5 502.5L486.9 503.3L487.6 504.0L488.5 504.3L499.6 506.4L500.7 506.4L501.7 505.8L502.4 505.0L502.6 503.8ZM365.1 517.4L365.3 516.3L365.0 515.2L355.2 495.7L354.5 494.9L353.5 494.4L352.4 494.3L344.6 495.8L343.8 496.1L343.1 496.7L342.7 497.5L342.5 498.4L342.5 516.6L342.7 517.6L343.3 518.5L344.1 519.0L345.1 519.2L362.6 519.2L363.5 519.0L364.4 518.5L364.9 517.7ZM341.8 498.1L341.6 497.0L340.9 496.1L340.0 495.6L334.8 493.9L333.8 493.8L332.9 494.0L332.1 494.6L331.5 495.4L331.4 496.4L331.4 522.3L331.5 523.2L332.1 524.1L332.8 524.6L333.8 524.9L334.7 524.8L335.6 524.3L340.8 520.2L341.5 519.3L341.8 518.2ZM366.3 528.1L366.9 529.3L375.4 539.6L376.2 540.3L377.3 540.5L380.2 540.7L381.1 540.5L381.9 540.1L395.2 529.4L395.9 528.5L396.2 527.5L396.0 526.4L390.2 512.3L389.5 511.3L388.4 510.7L383.1 509.4L382.2 509.4L381.4 509.6L367.1 516.1L366.4 516.7L365.8 517.4L365.2 518.9L365.0 520.4ZM397.0 526.7L397.7 527.7L398.8 528.3L400.5 528.7L401.5 528.7L402.5 528.3L421.0 516.0L421.7 515.4L422.1 514.5L422.2 513.6L421.9 512.7L417.3 503.2L416.7 502.4L415.9 501.9L406.9 498.2L405.9 498.0L405.0 498.2L404.2 498.7L391.8 509.6L391.1 510.5L390.9 511.5L391.1 512.6ZM364.2 529.6L364.9 528.9L365.4 528.0L365.4 527.0L364.6 522.1L364.3 521.3L363.7 520.6L362.9 520.1L362.0 520.0L343.2 520.0L342.3 520.1L341.6 520.5L332.3 527.8L331.6 528.7L331.4 529.8L331.4 533.2L331.5 534.1L331.9 534.9L332.6 535.5L342.1 541.3L343.0 541.6L343.9 541.6L344.8 541.3ZM346.6 548.5L347.4 549.4L348.4 550.0L364.6 553.7L365.6 553.8L366.6 553.4L367.3 552.7L374.4 542.5L374.8 541.5L374.7 540.3L374.2 539.4L367.4 531.1L366.7 530.5L365.9 530.2L365.0 530.2L364.1 530.5L345.9 541.5L345.2 542.1L344.8 542.9L344.6 543.9L344.9 544.8ZM331.4 560.2L331.6 561.2L332.1 562.1L333.0 562.6L334.0 562.8L340.1 562.8L341.2 562.6L342.0 562.0L342.6 561.1L346.2 551.0L346.3 550.0L346.1 549.0L343.5 543.5L342.5 542.4L335.3 538.0L334.3 537.6L333.2 537.7L332.2 538.2L331.6 539.1L331.4 540.2ZM402.0 530.5L401.3 529.8L400.4 529.4L398.5 529.0L397.4 529.0L396.3 529.5L383.8 539.5L383.1 540.3L382.8 541.3L382.9 542.2L383.3 543.1L394.4 557.6L395.3 558.3L396.4 558.6L402.7 558.9L403.9 558.7L404.8 558.0L412.1 548.9L412.6 548.0L412.6 546.9L412.2 545.9ZM377.5 541.3L376.7 541.4L375.9 541.8L375.3 542.4L367.4 553.9L367.0 554.7L367.0 555.6L367.8 563.2L368.1 564.2L368.7 564.9L369.7 565.4L383.1 569.2L384.0 569.3L384.9 569.0L385.7 568.5L393.0 560.5L393.5 559.8L393.7 558.9L393.6 558.0L393.2 557.2L381.8 542.4L381.0 541.7L379.9 541.4ZM343.0 562.0L342.9 563.1L343.2 564.2L344.3 566.2L345.0 567.0L348.3 569.4L349.4 569.9L350.6 569.8L365.1 565.8L366.0 565.4L366.6 564.8L367.0 563.9L367.0 563.0L366.4 556.7L366.0 555.7L365.3 554.9L364.4 554.4L349.4 550.9L348.5 550.9L347.6 551.2L346.9 551.8L346.4 552.6ZM429.1 519.9L429.0 519.0L428.5 518.2L427.8 517.6L424.8 516.0L423.9 515.7L422.9 515.8L422.1 516.1L404.3 528.0L403.6 528.7L403.2 529.6L403.2 530.6L403.6 531.6L413.0 545.8L413.7 546.5L414.5 546.9L415.5 546.9L426.7 545.8L427.6 545.6L428.4 545.0L428.9 544.2L429.0 543.2ZM331.4 575.3L331.6 576.3L332.2 577.2L333.1 577.8L334.2 577.9L335.2 577.6L336.0 576.9L342.8 568.2L343.3 567.3L343.4 566.3L343.0 565.3L342.8 564.9L342.2 564.2L341.4 563.7L340.5 563.6L334.0 563.6L333.0 563.8L332.1 564.3L331.6 565.2L331.4 566.2ZM350.4 580.0L350.7 580.9L351.2 581.7L352.1 582.2L353.0 582.3L363.2 582.3L364.1 582.2L365.0 581.7L365.5 580.9L365.8 580.0L366.6 569.8L366.5 568.8L366.1 567.9L365.3 567.3L364.4 567.0L363.4 567.0L351.7 570.3L350.9 570.6L350.3 571.3L349.9 572.1L349.8 573.0ZM370.8 566.5L369.6 566.4L368.6 566.8L367.8 567.7L367.5 568.8L366.5 579.5L366.7 580.6L367.2 581.5L368.1 582.1L369.1 582.3L383.5 582.3L384.6 582.1L385.5 581.4L386.0 580.4L386.1 579.3L384.7 571.9L384.3 571.0L383.7 570.3L382.8 569.9ZM404.6 561.1L404.1 560.3L403.3 559.9L402.4 559.6L396.3 559.4L395.2 559.5L394.3 560.2L386.0 569.2L385.4 570.3L385.3 571.5L387.0 580.2L387.3 581.1L387.9 581.7L388.6 582.2L389.5 582.3L407.4 582.3L408.3 582.2L409.0 581.7L409.6 581.1L409.9 580.2L411.0 574.9L411.0 574.1L410.7 573.3ZM347.1 582.3L348.1 582.1L349.0 581.5L349.5 580.6L349.7 579.5L349.0 571.9L348.7 570.9L348.0 570.1L346.4 568.9L345.5 568.5L344.5 568.4L343.6 568.7L342.8 569.4L336.0 578.1L335.5 579.0L335.4 579.9L335.7 580.9L336.2 581.7L337.1 582.2L338.0 582.3ZM430.1 546.9L429.2 546.5L428.3 546.4L415.0 547.7L414.0 548.0L413.2 548.7L405.7 558.1L405.2 559.0L405.1 560.0L405.4 560.9L410.7 571.6L411.2 572.3L412.0 572.8L412.9 573.0L413.8 572.9L431.6 567.4L432.6 566.8L433.2 565.9L433.4 564.8L433.0 550.2L432.7 549.1L431.9 548.2ZM466.4 515.0L467.1 514.4L467.6 513.5L467.7 512.6L467.4 511.7L463.9 504.2L463.4 503.5L462.6 503.0L461.7 502.8L448.4 501.9L447.5 502.0L446.6 502.4L446.0 503.2L440.2 513.6L439.9 514.5L440.0 515.5L440.4 516.4L441.2 517.1L450.5 522.7L451.3 523.0L452.3 523.0L453.1 522.7ZM500.0 519.2L501.0 519.0L501.9 518.5L502.4 517.6L502.6 516.6L502.6 509.9L502.5 509.0L502.0 508.2L501.4 507.6L500.5 507.3L488.0 504.9L486.9 505.0L485.9 505.5L485.2 506.4L483.4 510.1L483.2 511.1L483.3 512.1L483.8 513.0L488.8 518.4L489.7 519.0L490.7 519.2ZM451.7 525.3L451.3 524.3L450.5 523.5L439.4 516.8L438.4 516.5L437.4 516.6L431.8 517.9L430.8 518.4L430.1 519.3L429.9 520.4L429.8 544.4L430.0 545.6L430.8 546.5L432.5 547.7L433.4 548.1L434.5 548.2L443.2 546.5L444.2 546.1L445.0 545.3L452.4 532.4L452.7 531.5L452.7 530.6ZM468.0 537.1L468.9 537.3L469.8 537.2L471.2 536.7L472.1 536.1L472.8 535.1L473.1 534.3L473.2 533.5L473.1 532.8L469.2 518.0L468.8 517.2L468.1 516.5L467.2 516.2L466.3 516.1L465.4 516.4L453.8 523.1L453.0 523.9L452.6 524.8L452.5 525.9L453.3 530.0L453.6 530.8L454.2 531.4L454.9 531.9ZM471.8 513.6L470.7 514.0L470.0 514.8L469.6 515.8L469.6 516.9L473.1 530.1L473.7 531.1L474.6 531.7L475.7 532.0L476.8 531.7L485.3 527.7L486.1 527.1L486.6 526.3L488.5 521.2L488.6 520.2L488.4 519.3L487.9 518.5L483.0 513.1L482.0 512.4L480.7 512.3ZM499.7 539.6L500.8 539.5L501.7 539.0L502.4 538.1L502.6 537.0L502.6 522.6L502.4 521.6L501.9 520.7L501.0 520.2L500.0 520.0L491.5 520.0L490.5 520.2L489.6 520.8L489.0 521.7L487.4 526.3L487.2 527.5L487.6 528.6L493.5 537.8L494.3 538.6L495.3 539.0ZM480.1 543.8L481.0 544.5L482.1 544.6L483.2 544.4L490.9 540.3L491.7 539.6L492.2 538.7L492.3 537.6L491.9 536.6L487.6 529.9L487.0 529.2L486.2 528.8L485.2 528.7L484.3 529.0L475.0 533.4L474.2 534.0L473.6 534.8L473.6 535.0L473.4 535.9L473.6 536.9L474.2 537.7ZM446.4 544.2L446.1 545.2L446.1 546.2L446.6 547.1L447.3 547.8L456.8 553.2L457.8 553.5L458.8 553.5L459.7 553.0L460.4 552.2L466.9 540.6L467.2 539.6L467.1 538.5L466.5 537.5L465.6 536.9L455.5 532.9L454.6 532.7L453.7 532.9L452.9 533.3L452.3 534.0ZM470.1 537.8L469.2 538.3L468.6 539.0L460.4 553.8L460.1 554.6L460.1 555.4L460.3 556.3L461.5 558.5L462.2 559.4L463.2 559.8L464.3 559.8L478.9 556.7L480.0 556.2L480.7 555.3L481.0 554.2L481.0 546.9L480.8 545.9L480.3 545.1L473.7 538.2L472.9 537.6L471.9 537.4L470.9 537.5ZM483.4 557.9L484.4 558.4L485.5 558.5L500.4 556.2L501.3 555.9L502.0 555.3L502.5 554.5L502.6 553.6L502.6 543.0L502.5 542.1L502.0 541.3L501.3 540.7L500.4 540.4L494.8 539.6L494.0 539.6L493.3 539.9L483.1 545.2L482.4 545.8L481.9 546.6L481.7 547.5L481.7 555.2L481.9 556.3L482.6 557.2ZM459.8 566.6L460.4 566.0L460.7 565.2L461.6 561.7L461.7 560.7L461.4 559.8L459.3 555.9L458.3 554.9L445.4 547.5L444.5 547.2L443.6 547.2L435.8 548.6L435.0 549.0L434.3 549.6L433.9 550.4L433.7 551.3L434.2 566.1L434.4 566.9L434.8 567.6L442.5 577.0L443.2 577.7L444.2 578.0L445.2 577.9L446.1 577.4ZM476.8 581.6L477.6 582.1L478.6 582.3L482.7 582.3L483.7 582.1L484.6 581.5L485.1 580.6L485.3 579.6L484.0 560.3L483.7 559.3L483.1 558.5L482.2 557.8L481.2 557.3L480.0 557.2L464.1 560.6L463.2 561.0L462.5 561.7L462.1 562.5L461.6 564.7L461.5 565.6L461.8 566.4L462.3 567.2ZM486.0 579.9L486.2 580.9L486.8 581.6L487.6 582.2L488.6 582.3L500.0 582.3L501.0 582.1L501.9 581.6L502.4 580.7L502.6 579.7L502.6 559.6L502.4 558.5L501.7 557.6L500.8 557.1L499.6 557.0L487.0 559.0L486.1 559.3L485.4 560.0L484.9 560.8L484.8 561.8ZM434.9 568.8L434.1 568.2L433.1 567.9L432.1 568.0L413.3 573.8L412.5 574.3L411.9 574.9L411.5 575.8L410.9 579.2L410.9 580.4L411.4 581.4L412.3 582.1L413.4 582.3L440.4 582.3L441.3 582.2L442.2 581.6L442.7 580.9L443.0 579.9L442.9 579.0L442.4 578.1ZM446.9 577.7L446.2 578.5L445.9 579.5L446.0 580.6L446.6 581.5L447.5 582.1L448.5 582.3L470.2 582.3L471.2 582.1L472.1 581.6L472.6 580.7L472.8 579.7L472.6 578.7L472.1 577.9L462.4 568.3L461.7 567.8L460.8 567.6L459.8 567.7L459.0 568.1Z" fill="#efeeed"/>
<circle cx="342.2" cy="563.2" r="1.2" fill="#85649f" opacity="0.7"/>
<circle cx="343.4" cy="542.5" r="1.0" fill="#85649f" opacity="0.7"/>
<circle cx="346.9" cy="550.0" r="1.0" fill="#85649f" opacity="0.7"/>
<circle cx="349.3" cy="570.6" r="0.9" fill="#85649f" opacity="0.7"/>
<circle cx="359.4" cy="475.6" r="0.8" fill="#85649f" opacity="0.7"/>
<circle cx="364.5" cy="519.6" r="1.0" fill="#85649f" opacity="0.7"/>
<circle cx="372.1" cy="448.6" r="0.9" fill="#85649f" opacity="0.7"/>
<circle cx="381.3" cy="541.1" r="0.9" fill="#85649f" opacity="0.7"/>
<circle cx="382.2" cy="508.9" r="0.9" fill="#85649f" opacity="0.7"/>
<circle cx="384.7" cy="570.1" r="1.2" fill="#85649f" opacity="0.7"/>
<circle cx="390.0" cy="510.7" r="0.9" fill="#85649f" opacity="0.7"/>
<circle cx="395.0" cy="452.4" r="1.0" fill="#85649f" opacity="0.7"/>
<circle cx="397.2" cy="528.3" r="1.1" fill="#85649f" opacity="0.7"/>
<circle cx="400.4" cy="483.6" r="1.0" fill="#85649f" opacity="0.7"/>
<circle cx="404.2" cy="559.4" r="0.7" fill="#85649f" opacity="0.7"/>
<circle cx="405.3" cy="497.2" r="1.0" fill="#85649f" opacity="0.7"/>
<circle cx="409.2" cy="459.9" r="0.8" fill="#85649f" opacity="0.7"/>
<circle cx="422.1" cy="447.7" r="1.0" fill="#85649f" opacity="0.7"/>
<circle cx="423.4" cy="514.9" r="1.1" fill="#85649f" opacity="0.7"/>
<circle cx="429.5" cy="518.1" r="1.0" fill="#85649f" opacity="0.7"/>
<circle cx="432.8" cy="477.6" r="0.9" fill="#85649f" opacity="0.7"/>
<circle cx="433.9" cy="567.1" r="1.1" fill="#85649f" opacity="0.7"/>
<circle cx="439.0" cy="468.3" r="1.1" fill="#85649f" opacity="0.7"/>
<circle cx="439.0" cy="454.1" r="0.9" fill="#85649f" opacity="0.7"/>
<circle cx="446.6" cy="501.4" r="0.9" fill="#85649f" opacity="0.7"/>
<circle cx="460.8" cy="566.2" r="1.2" fill="#85649f" opacity="0.7"/>
<circle cx="463.7" cy="481.4" r="1.0" fill="#85649f" opacity="0.7"/>
<circle cx="468.5" cy="514.2" r="1.1" fill="#85649f" opacity="0.7"/>
<circle cx="468.8" cy="513.7" r="1.2" fill="#85649f" opacity="0.7"/>
<circle cx="468.9" cy="537.8" r="1.2" fill="#85649f" opacity="0.7"/>
<circle cx="473.7" cy="533.6" r="1.1" fill="#85649f" opacity="0.7"/>
<circle cx="475.6" cy="484.4" r="1.3" fill="#85649f" opacity="0.7"/>
<circle cx="484.2" cy="559.1" r="1.2" fill="#85649f" opacity="0.7"/>
<circle cx="485.9" cy="504.2" r="0.7" fill="#85649f" opacity="0.7"/>
<circle cx="486.6" cy="489.8" r="1.3" fill="#85649f" opacity="0.7"/>
<circle cx="493.9" cy="539.1" r="0.7" fill="#85649f" opacity="0.7"/>
<circle cx="503.0" cy="540.4" r="0.9" fill="#85649f" opacity="0.7"/>
<circle cx="397.4" cy="441.8" r="2.6" fill="#dcc6e8" opacity="0.6"/>
<circle cx="399.3" cy="440.8" r="2.6" fill="#dcc6e8" opacity="0.6"/>
<circle cx="402.9" cy="456.5" r="2.6" fill="#dcc6e8" opacity="0.6"/>
<circle cx="417.2" cy="441.2" r="2.6" fill="#dcc6e8" opacity="0.6"/>
<circle cx="408.8" cy="435.5" r="2.6" fill="#dcc6e8" opacity="0.6"/>
<circle cx="400.2" cy="440.2" r="2.6" fill="#dcc6e8" opacity="0.6"/>
<circle cx="402.0" cy="481.6" r="2.6" fill="#dcc6e8" opacity="0.6"/>
<circle cx="410.2" cy="471.3" r="2.6" fill="#dcc6e8" opacity="0.6"/>
<circle cx="381.6" cy="425.0" r="2.6" fill="#dcc6e8" opacity="0.6"/>
<circle cx="394.2" cy="482.1" r="2.6" fill="#dcc6e8" opacity="0.6"/>
<circle cx="442.4" cy="468.8" r="2.6" fill="#dcc6e8" opacity="0.6"/>
<circle cx="439.4" cy="487.3" r="2.6" fill="#dcc6e8" opacity="0.6"/>
<circle cx="459.5" cy="473.1" r="2.6" fill="#dcc6e8" opacity="0.6"/>
<circle cx="461.6" cy="477.2" r="2.6" fill="#dcc6e8" opacity="0.6"/>
<circle cx="471.0" cy="431.7" r="2.6" fill="#dcc6e8" opacity="0.6"/>
<circle cx="460.4" cy="454.9" r="2.6" fill="#dcc6e8" opacity="0.6"/>
<circle cx="381.0" cy="503.8" r="2.6" fill="#dcc6e8" opacity="0.6"/>
<circle cx="411.7" cy="550.0" r="2.6" fill="#dcc6e8" opacity="0.6"/>
<circle cx="385.7" cy="575.5" r="2.6" fill="#dcc6e8" opacity="0.6"/>
<circle cx="366.8" cy="572.0" r="2.6" fill="#dcc6e8" opacity="0.6"/>
<circle cx="344.5" cy="544.8" r="2.6" fill="#dcc6e8" opacity="0.6"/>
<circle cx="331.0" cy="506.5" r="2.6" fill="#dcc6e8" opacity="0.6"/>
<circle cx="450.6" cy="550.1" r="2.6" fill="#dcc6e8" opacity="0.6"/>
<circle cx="503.0" cy="548.7" r="2.6" fill="#dcc6e8" opacity="0.6"/>
<circle cx="480.0" cy="530.6" r="2.6" fill="#dcc6e8" opacity="0.6"/>
<circle cx="484.6" cy="563.8" r="2.6" fill="#dcc6e8" opacity="0.6"/>
<circle cx="498.6" cy="519.6" r="2.6" fill="#dcc6e8" opacity="0.6"/>
<circle cx="458.9" cy="533.9" r="2.6" fill="#dcc6e8" opacity="0.6"/>
<circle cx="397.4" cy="441.8" r="1.5" fill="#7a4f9e" opacity="0.85"/>
<circle cx="399.3" cy="440.8" r="1.7" fill="#7a4f9e" opacity="0.85"/>
<circle cx="402.9" cy="456.5" r="1.3" fill="#7a4f9e" opacity="0.85"/>
<circle cx="417.2" cy="441.2" r="1.2" fill="#7a4f9e" opacity="0.85"/>
<circle cx="408.8" cy="435.5" r="1.4" fill="#7a4f9e" opacity="0.85"/>
<circle cx="400.2" cy="440.2" r="1.2" fill="#7a4f9e" opacity="0.85"/>
<circle cx="402.0" cy="481.6" r="1.2" fill="#7a4f9e" opacity="0.85"/>
<circle cx="410.2" cy="471.3" r="1.4" fill="#7a4f9e" opacity="0.85"/>
<circle cx="381.6" cy="425.0" r="1.5" fill="#7a4f9e" opacity="0.85"/>
<circle cx="394.2" cy="482.1" r="1.1" fill="#7a4f9e" opacity="0.85"/>
<circle cx="442.4" cy="468.8" r="1.4" fill="#7a4f9e" opacity="0.85"/>
<circle cx="439.4" cy="487.3" r="1.5" fill="#7a4f9e" opacity="0.85"/>
<circle cx="459.5" cy="473.1" r="1.6" fill="#7a4f9e" opacity="0.85"/>
<circle cx="461.6" cy="477.2" r="1.3" fill="#7a4f9e" opacity="0.85"/>
<circle cx="471.0" cy="431.7" r="1.6" fill="#7a4f9e" opacity="0.85"/>
<circle cx="460.4" cy="454.9" r="1.2" fill="#7a4f9e" opacity="0.85"/>
<circle cx="381.0" cy="503.8" r="1.5" fill="#7a4f9e" opacity="0.85"/>
<circle cx="411.7" cy="550.0" r="1.6" fill="#7a4f9e" opacity="0.85"/>
<circle cx="385.7" cy="575.5" r="1.6" fill="#7a4f9e" opacity="0.85"/>
<circle cx="366.8" cy="572.0" r="1.4" fill="#7a4f9e" opacity="0.85"/>
<circle cx="344.5" cy="544.8" r="1.2" fill="#7a4f9e" opacity="0.85"/>
<circle cx="331.0" cy="506.5" r="1.1" fill="#7a4f9e" opacity="0.85"/>
<circle cx="450.6" cy="550.1" r="1.4" fill="#7a4f9e" opacity="0.85"/>
<circle cx="503.0" cy="548.7" r="1.2" fill="#7a4f9e" opacity="0.85"/>
<circle cx="480.0" cy="530.6" r="1.5" fill="#7a4f9e" opacity="0.85"/>
<circle cx="484.6" cy="563.8" r="1.2" fill="#7a4f9e" opacity="0.85"/>
<circle cx="498.6" cy="519.6" r="1.6" fill="#7a4f9e" opacity="0.85"/>
<circle cx="458.9" cy="533.9" r="1.2" fill="#7a4f9e" opacity="0.85"/>
<rect x="330" y="424" width="174" height="159.70000000000005" fill="none" stroke="#000" stroke-width="2"/>
<rect x="509" y="423" width="176" height="161.5" fill="#aaa5b5"/>
<path d="M523.4 433.8L524.1 433.1L524.6 432.2L525.6 428.7L525.6 427.7L525.4 426.8L524.8 426.0L524.0 425.5L523.1 425.4L514.0 425.4L513.0 425.6L512.1 426.1L511.6 427.0L511.4 428.0L511.4 436.6L511.6 437.7L512.2 438.5L513.2 439.1L514.3 439.2L515.3 438.8ZM540.0 427.4L539.5 426.3L538.5 425.6L537.4 425.4L529.2 425.4L528.1 425.6L527.2 426.3L526.7 427.3L525.4 432.1L525.3 433.3L525.9 434.4L531.9 441.7L532.7 442.3L533.7 442.6L536.9 442.9L538.1 442.7L539.0 442.0L541.6 439.2L542.2 438.1L542.2 436.9ZM542.6 435.4L543.0 436.3L543.7 437.0L544.6 437.4L545.5 437.4L546.5 437.1L555.1 431.8L555.8 431.2L556.2 430.4L556.4 429.6L556.4 428.0L556.2 427.0L555.6 426.1L554.8 425.6L553.8 425.4L543.5 425.4L542.6 425.5L541.8 426.0L541.2 426.7L540.9 427.6L541.0 428.6ZM569.5 428.9L569.6 427.9L569.4 426.9L568.8 426.1L568.0 425.6L567.0 425.4L559.7 425.4L558.7 425.6L557.9 426.1L557.3 427.0L557.1 428.0L557.1 430.2L557.3 431.0L557.7 431.8L561.9 436.8L562.6 437.4L563.6 437.7L564.5 437.7L565.0 437.5L566.1 437.0L566.8 436.0ZM567.8 435.4L567.6 436.2L567.7 437.1L568.1 437.9L568.8 438.5L575.9 442.9L576.9 443.3L578.0 443.2L579.0 442.7L579.7 441.8L579.9 440.7L579.9 428.0L579.7 427.0L579.1 426.1L578.3 425.6L577.3 425.4L573.4 425.4L572.3 425.6L571.5 426.2L570.9 427.0ZM580.6 442.5L580.8 443.4L581.3 444.2L582.1 444.8L583.0 445.0L584.0 444.9L595.7 441.5L596.6 441.0L597.2 440.2L597.5 439.2L598.7 428.2L598.6 427.2L598.0 426.2L597.2 425.6L596.1 425.4L583.2 425.4L582.2 425.6L581.4 426.1L580.8 427.0L580.6 428.0ZM511.4 443.7L511.6 444.8L512.3 445.7L513.3 446.2L522.1 448.6L523.2 448.7L524.3 448.2L529.6 444.4L530.3 443.6L530.7 442.6L530.6 441.6L530.1 440.6L526.0 435.7L525.3 435.1L524.4 434.8L523.5 434.8L522.6 435.1L512.6 441.3L511.9 441.9L511.5 442.7L511.4 443.6ZM555.1 444.8L556.0 445.2L557.0 445.1L558.0 444.7L558.7 444.0L561.3 440.1L561.7 439.1L561.6 438.0L561.1 437.0L558.1 433.4L557.4 432.8L556.5 432.5L555.6 432.5L554.8 432.9L548.9 436.4L548.1 437.1L547.7 438.1L547.7 439.2L548.1 440.1L548.9 440.8ZM545.3 439.4L544.4 439.1L543.5 439.1L542.7 439.3L542.0 439.9L539.6 442.5L539.0 443.5L538.9 444.7L540.7 455.2L541.1 456.3L542.0 457.0L543.1 457.4L552.3 458.0L553.4 457.8L554.4 457.2L557.1 454.1L557.7 453.2L557.8 452.0L557.2 448.0L556.8 447.0L556.0 446.2ZM564.0 438.6L563.1 439.0L562.5 439.6L558.3 445.9L557.9 446.8L557.9 447.7L558.4 451.1L558.8 452.2L559.5 452.9L560.5 453.3L574.0 455.4L575.0 455.4L575.8 455.1L577.0 454.3L577.7 453.7L578.1 452.9L579.5 448.3L579.6 447.2L579.2 446.1L578.4 445.3L567.5 438.5L566.5 438.1L565.4 438.2ZM538.4 445.7L537.9 444.6L537.1 443.9L536.0 443.5L533.5 443.3L532.6 443.4L531.8 443.8L525.6 448.1L525.0 448.8L524.6 449.6L524.5 450.5L524.8 451.4L527.5 456.8L528.0 457.5L528.7 458.0L529.6 458.3L537.3 458.9L538.2 458.8L539.1 458.4L539.7 457.7L540.1 456.8L540.1 455.9ZM523.6 450.7L522.9 449.8L522.0 449.3L514.6 447.3L513.7 447.3L512.8 447.5L512.0 448.1L511.5 448.9L511.4 449.9L511.4 457.9L511.6 459.0L512.3 459.9L513.3 460.4L521.6 462.5L522.5 462.6L523.3 462.3L524.1 461.8L526.2 459.7L526.7 458.8L526.9 457.8L526.6 456.7ZM602.8 449.6L602.9 448.7L602.8 447.8L602.3 447.0L598.6 442.9L597.9 442.3L596.9 442.0L596.0 442.1L582.0 446.3L581.3 446.6L580.7 447.2L580.3 448.0L579.0 452.2L578.9 453.2L579.3 454.2L580.0 455.0L588.1 461.1L589.2 461.6L590.5 461.5L598.4 458.8L599.3 458.2L600.0 457.3ZM555.0 457.5L554.4 458.6L554.4 459.9L557.0 471.1L557.4 472.0L558.2 472.7L559.2 473.1L567.8 474.2L568.7 474.1L569.6 473.7L570.2 473.1L570.6 472.2L573.9 459.0L574.0 457.9L573.6 456.9L572.8 456.2L571.8 455.8L559.8 454.0L559.0 454.0L558.2 454.2L557.5 454.8ZM539.8 458.9L539.3 459.7L539.0 460.6L537.9 473.9L538.0 474.8L538.3 475.6L539.0 476.3L539.8 476.6L548.4 479.0L549.3 479.1L550.1 478.9L550.9 478.4L555.6 474.0L556.2 473.3L556.4 472.4L556.4 471.5L553.8 460.7L553.4 459.7L552.5 459.0L551.5 458.7L542.0 458.0L540.9 458.2L540.0 458.7ZM529.3 459.0L528.1 459.1L527.2 459.7L524.4 462.5L523.8 463.5L523.6 464.6L524.9 475.5L525.1 476.4L525.7 477.1L526.4 477.6L529.3 478.9L530.4 479.1L531.5 478.8L535.7 476.8L536.4 476.2L536.9 475.5L537.1 474.7L538.1 462.3L538.0 461.3L537.5 460.4L536.7 459.8L535.8 459.5ZM523.0 465.3L522.7 464.4L522.0 463.6L521.1 463.1L514.6 461.5L513.7 461.4L512.8 461.7L512.0 462.3L511.5 463.1L511.4 464.0L511.4 475.7L511.6 476.8L512.2 477.7L513.2 478.2L514.3 478.3L521.8 477.3L522.7 476.9L523.5 476.3L523.9 475.4L524.0 474.4ZM571.4 472.2L571.3 473.3L571.7 474.3L572.5 475.0L573.5 475.4L585.5 477.3L586.6 477.2L587.6 476.7L588.3 475.8L588.5 474.7L588.7 463.8L588.5 462.6L587.7 461.7L579.5 455.6L578.6 455.1L577.5 455.1L576.6 455.4L576.3 455.6L575.6 456.3L575.1 457.2ZM589.2 476.1L589.4 477.1L590.0 478.0L591.0 478.6L592.1 478.7L601.3 477.8L602.3 477.5L603.1 476.8L603.6 475.8L605.2 468.7L605.2 467.6L604.8 466.6L600.8 460.8L600.0 460.0L598.9 459.7L597.8 459.8L591.2 462.0L590.3 462.5L589.7 463.4L589.4 464.4ZM553.2 494.6L553.6 495.5L554.2 496.2L555.1 496.7L561.0 498.1L562.2 498.1L566.8 497.0L567.7 496.5L568.4 495.7L568.7 494.7L570.2 477.7L570.0 476.7L569.6 475.9L568.8 475.2L567.9 474.9L558.4 473.7L557.3 473.8L556.3 474.3L551.4 478.9L550.8 479.6L550.6 480.4L550.6 481.3ZM573.8 476.2L572.7 476.2L571.8 476.7L571.1 477.5L570.8 478.5L569.4 494.6L569.6 495.7L570.2 496.7L571.1 497.3L572.8 497.9L574.0 498.1L584.8 496.9L585.9 496.5L586.7 495.7L587.1 494.7L589.2 481.2L589.2 480.2L588.7 479.3L588.0 478.6L587.0 478.2ZM546.9 499.5L548.3 499.1L551.3 497.3L552.0 496.6L552.4 495.6L552.5 494.6L549.9 481.6L549.5 480.7L548.9 480.0L548.0 479.6L538.3 477.0L537.4 476.9L536.5 477.2L532.3 479.3L531.5 479.8L531.0 480.7L530.8 481.6L530.8 496.9L531.0 497.9L531.6 498.7L532.4 499.3L533.4 499.5ZM513.6 479.1L512.7 479.4L512.0 480.0L511.5 480.8L511.4 481.7L511.4 498.3L511.6 499.3L512.1 500.1L513.0 500.7L514.0 500.9L527.5 500.9L528.5 500.7L529.3 500.1L529.9 499.3L530.1 498.3L530.1 481.7L529.9 480.7L529.4 479.9L528.5 479.3L525.3 477.9L523.9 477.7ZM614.6 489.5L614.5 488.6L614.2 487.8L613.7 487.1L604.2 479.1L603.3 478.6L602.2 478.5L592.2 479.4L591.1 479.8L590.3 480.5L589.9 481.6L587.7 495.4L587.7 496.3L588.0 497.1L588.6 497.8L589.6 498.7L590.3 499.1L591.2 499.3L610.5 500.2L611.4 500.1L612.3 499.6L612.9 498.9L613.2 498.0ZM608.6 447.8L609.9 447.5L617.3 443.5L618.1 442.9L618.5 442.0L618.7 441.0L617.7 427.8L617.5 426.8L616.9 426.1L616.1 425.5L615.2 425.4L602.1 425.4L601.1 425.5L600.3 426.0L599.7 426.8L599.5 427.7L598.2 440.0L598.3 441.1L598.8 442.0L603.1 446.9L604.0 447.5L605.0 447.7ZM634.9 438.3L635.3 437.1L635.1 436.0L631.6 427.0L631.0 426.1L630.2 425.6L629.2 425.4L621.1 425.4L620.0 425.6L619.2 426.2L618.6 427.1L618.5 428.1L619.4 441.1L619.6 442.0L620.1 442.8L620.9 443.3L627.4 446.3L628.3 446.6L629.3 446.4L630.1 446.0L630.7 445.3ZM635.5 425.4L634.5 425.6L633.7 426.1L633.1 426.9L632.9 427.9L633.1 428.9L635.6 435.2L636.1 436.1L637.0 436.6L638.0 436.8L648.5 436.8L649.4 436.7L650.2 436.1L650.8 435.4L651.1 434.4L651.5 428.1L651.3 427.1L650.8 426.2L649.9 425.6L648.9 425.4ZM652.4 438.4L652.9 439.0L653.7 439.5L654.6 439.6L666.9 439.6L667.9 439.5L668.7 439.0L669.3 438.2L669.5 437.3L670.3 428.2L670.2 427.1L669.6 426.2L668.7 425.6L667.7 425.4L654.8 425.4L653.9 425.5L653.0 426.1L652.5 426.8L652.2 427.8L651.7 436.3L651.7 437.1L652.0 437.8ZM670.2 437.8L670.3 438.8L670.8 439.7L671.6 440.3L672.6 440.6L679.8 441.2L680.9 441.1L681.8 440.5L682.4 439.6L682.6 438.6L682.6 428.0L682.4 427.0L681.9 426.1L681.0 425.6L680.0 425.4L673.6 425.4L672.7 425.5L671.9 426.0L671.3 426.8L671.1 427.7ZM631.1 446.1L630.8 447.1L630.9 448.2L631.4 449.1L632.3 449.8L633.4 450.0L648.4 450.0L649.5 449.7L650.4 449.0L650.9 447.9L652.3 441.1L652.3 440.1L652.0 439.2L651.8 438.8L651.2 438.2L650.4 437.7L649.6 437.6L637.7 437.6L636.8 437.7L636.0 438.2L635.4 438.8ZM664.5 460.5L665.5 460.7L666.5 460.5L666.8 460.4L667.6 459.9L668.2 459.1L668.4 458.2L669.8 443.2L669.7 442.1L669.2 441.2L668.3 440.6L667.2 440.4L655.3 440.4L654.2 440.6L653.3 441.4L652.8 442.4L651.3 449.6L651.5 451.0L652.9 454.7L653.5 455.5L654.3 456.1ZM673.3 441.4L672.3 441.5L671.4 442.0L670.8 442.8L670.5 443.8L669.2 457.5L669.3 458.5L669.7 459.3L670.4 459.9L671.2 460.3L679.4 462.3L680.4 462.3L681.3 462.0L682.0 461.4L682.5 460.6L682.6 459.7L682.6 444.5L682.5 443.6L681.9 442.8L681.2 442.2L680.2 441.9ZM622.2 464.2L623.2 464.3L624.2 464.0L627.9 462.1L628.8 461.3L629.2 460.1L630.4 451.1L630.2 449.7L629.8 448.9L629.3 448.2L628.5 447.6L620.3 443.9L619.2 443.6L618.0 443.9L612.3 447.1L611.5 447.7L611.0 448.6L610.9 449.7L611.2 450.6L618.0 462.2L618.6 462.9L619.5 463.4ZM651.6 457.1L652.1 456.3L652.2 455.3L652.0 454.4L651.2 452.3L650.7 451.5L649.8 450.9L648.8 450.7L633.4 450.7L632.5 450.9L631.7 451.4L631.1 452.1L630.8 453.0L630.0 459.8L630.0 460.8L630.5 461.7L631.2 462.4L632.8 463.4L633.8 463.7L634.8 463.7L647.9 460.5L648.6 460.2L649.2 459.7ZM614.7 464.2L615.5 463.7L616.1 463.1L616.4 462.2L616.4 461.3L616.1 460.4L609.9 449.8L609.4 449.1L608.6 448.7L607.7 448.5L605.8 448.5L604.8 448.7L603.9 449.3L603.3 450.2L600.7 457.4L600.6 458.6L601.0 459.8L604.9 465.4L605.7 466.2L606.7 466.6L607.8 466.4ZM649.2 472.9L649.4 473.9L649.9 474.7L650.7 475.3L651.6 475.5L658.5 476.1L659.6 475.9L660.6 475.3L661.2 474.3L664.4 463.7L664.5 462.8L664.3 461.9L663.7 461.1L662.9 460.6L654.9 457.1L653.8 456.9L652.8 457.1L651.9 457.8L649.9 460.0L649.4 460.8L649.2 461.8ZM637.4 463.8L636.5 464.2L635.9 464.8L635.5 465.7L635.4 466.6L635.7 467.5L640.2 476.6L640.9 477.4L641.8 477.9L642.8 478.1L643.7 477.8L647.1 476.1L647.8 475.6L648.3 474.8L648.5 473.8L648.5 464.4L648.3 463.5L647.8 462.7L647.1 462.1L646.2 461.8L645.3 461.9ZM661.5 475.5L661.4 476.6L661.8 477.6L663.8 481.2L664.4 481.9L665.2 482.4L666.1 482.5L680.0 482.5L681.0 482.3L681.9 481.8L682.4 480.9L682.6 479.9L682.6 465.8L682.4 464.7L681.7 463.8L680.6 463.3L669.5 460.6L668.7 460.6L667.9 460.7L667.0 461.1L666.0 461.7L665.4 462.8ZM630.6 462.9L629.8 462.5L628.9 462.5L628.1 462.8L624.7 464.6L623.9 465.3L623.4 466.4L621.0 480.9L621.0 482.0L621.5 483.0L622.4 483.7L623.5 483.9L637.2 483.9L638.2 483.7L639.0 483.2L639.6 482.4L640.4 480.6L640.6 479.5L640.3 478.4L633.7 465.2L632.8 464.2ZM604.2 476.3L604.2 477.2L604.5 478.1L605.1 478.9L613.6 486.1L614.6 486.7L615.8 486.7L616.8 486.2L618.9 484.7L619.5 484.0L619.9 483.1L622.5 467.4L622.5 466.5L622.2 465.6L621.5 464.9L620.7 464.5L619.1 464.0L618.3 463.9L617.5 464.0L607.6 467.3L606.8 467.7L606.2 468.4L605.8 469.2ZM642.4 479.3L641.6 479.8L641.1 480.6L640.0 483.3L639.8 484.3L640.0 485.3L643.6 493.7L644.3 494.6L645.3 495.1L646.4 495.2L658.0 493.7L658.8 493.5L659.5 492.9L660.0 492.2L663.5 484.1L663.7 482.9L663.3 481.8L661.3 478.2L660.4 477.3L659.2 476.9L649.6 476.1L648.3 476.3ZM639.1 503.8L640.2 503.3L641.0 502.3L643.3 496.9L643.6 495.9L643.4 494.8L639.6 486.2L639.0 485.4L638.2 484.9L637.2 484.7L621.0 484.7L620.2 484.8L619.5 485.2L616.3 487.5L615.7 488.2L615.3 489.2L613.6 499.7L613.6 500.6L613.9 501.4L616.4 506.1L617.1 506.9L618.1 507.4L619.2 507.5ZM680.4 500.5L681.3 500.2L682.0 499.6L682.5 498.8L682.6 497.9L682.6 485.9L682.4 484.9L681.9 484.0L681.0 483.5L680.0 483.3L666.3 483.3L665.3 483.5L664.5 484.0L663.9 484.8L660.7 492.4L660.5 493.3L660.6 494.2L661.0 495.0L665.7 501.3L666.3 501.9L667.2 502.3L668.1 502.3ZM665.6 504.3L665.7 503.1L665.2 501.9L660.4 495.5L659.8 494.8L658.9 494.5L658.0 494.4L645.9 496.0L645.1 496.3L644.3 496.8L643.9 497.5L641.6 502.6L641.4 503.8L641.7 505.0L648.8 517.3L649.6 518.2L650.8 518.6L656.9 519.1L657.7 519.1L658.4 518.8L660.6 517.5L661.4 516.9L661.8 516.1ZM514.0 501.6L513.0 501.8L512.1 502.4L511.6 503.2L511.4 504.2L511.4 519.4L511.6 520.4L512.1 521.3L513.0 521.8L514.0 522.0L523.3 522.0L524.5 521.8L525.4 521.1L529.7 515.7L530.2 514.7L530.2 513.7L528.9 503.9L528.6 503.0L528.0 502.3L527.2 501.8L526.3 501.6ZM532.1 500.2L531.0 500.4L530.1 501.1L529.6 502.1L529.5 503.2L530.9 513.3L531.4 514.5L532.3 515.3L539.1 518.7L540.3 519.0L541.5 518.6L546.0 516.1L546.8 515.6L547.2 514.8L547.4 513.9L547.4 502.8L547.2 501.8L546.6 501.0L545.8 500.4L544.8 500.2ZM548.1 513.9L548.3 514.8L548.7 515.6L549.4 516.2L552.5 517.9L553.4 518.2L554.3 518.2L559.1 517.2L560.0 516.9L560.6 516.3L561.1 515.6L561.2 514.7L561.2 501.0L561.0 499.9L560.3 499.0L559.3 498.5L554.3 497.2L553.3 497.1L552.3 497.5L549.4 499.3L548.7 499.9L548.3 500.6L548.1 501.5ZM573.2 500.3L572.9 499.4L572.3 498.7L571.5 498.2L569.7 497.5L568.9 497.3L568.1 497.4L563.9 498.5L562.9 499.0L562.2 499.9L562.0 501.0L562.0 515.7L562.2 516.8L562.9 517.7L563.5 518.2L564.5 518.7L565.6 518.7L572.7 517.3L573.6 516.9L574.3 516.2L574.7 515.4L574.8 514.4ZM575.6 515.0L575.9 516.0L576.6 516.8L577.6 517.2L578.7 517.2L586.8 515.6L587.9 515.1L588.6 514.3L588.9 513.2L589.7 501.1L589.5 499.9L588.8 498.9L587.8 498.1L586.9 497.6L585.8 497.5L576.3 498.5L575.4 498.8L574.6 499.5L574.1 500.4L574.0 501.4ZM596.8 523.5L597.6 524.1L598.5 524.3L599.5 524.2L613.6 519.3L614.4 518.9L615.0 518.2L615.3 517.3L616.6 509.1L616.6 508.3L616.3 507.5L613.6 502.3L613.1 501.6L612.3 501.1L611.4 500.9L593.0 500.1L592.0 500.3L591.2 500.8L590.6 501.6L590.3 502.5L589.6 514.3L589.7 515.3L590.2 516.2ZM526.1 521.3L525.7 522.1L525.6 523.0L525.8 523.9L530.7 536.0L531.5 537.1L532.3 537.7L533.2 538.2L534.1 538.3L535.1 538.0L539.8 535.6L540.6 535.0L541.1 534.1L541.2 533.0L540.1 521.4L539.9 520.5L539.4 519.8L538.7 519.3L532.7 516.3L531.6 516.0L530.5 516.3L529.5 517.0ZM541.9 532.6L542.3 533.7L543.1 534.6L544.2 534.9L545.7 535.1L546.5 535.1L547.3 534.8L550.0 533.2L550.9 532.4L551.3 531.3L552.7 520.7L552.6 519.7L552.2 518.7L551.4 518.1L549.0 516.7L548.2 516.4L547.3 516.4L546.5 516.7L542.2 519.1L541.5 519.7L541.0 520.6L540.9 521.6ZM561.4 532.4L562.4 532.2L563.2 531.6L563.8 530.8L564.0 529.8L564.0 520.7L563.7 519.6L563.0 518.7L562.4 518.3L561.4 517.8L560.3 517.7L555.5 518.7L554.5 519.1L553.7 519.9L553.4 520.9L552.2 529.4L552.3 530.5L552.9 531.5L553.7 532.2L554.8 532.4ZM576.7 520.1L576.4 519.1L575.6 518.3L574.7 517.8L573.6 517.8L566.8 519.2L565.7 519.7L565.0 520.6L564.7 521.7L564.7 531.4L564.9 532.5L565.6 533.4L565.9 533.7L567.0 534.3L568.3 534.3L575.7 532.4L576.6 532.1L577.2 531.4L577.6 530.6L577.7 529.6ZM596.5 526.8L596.8 525.8L596.7 524.8L596.1 523.9L590.0 517.0L589.3 516.4L588.4 516.1L587.5 516.2L579.5 517.8L578.6 518.1L577.9 518.8L577.5 519.6L577.5 520.6L578.5 530.5L578.7 531.3L579.3 532.0L580.0 532.6L585.6 535.2L586.8 535.4L588.0 535.1L593.3 532.0L594.3 531.0ZM525.2 524.4L524.6 523.5L523.8 523.0L522.8 522.8L514.0 522.8L513.0 523.0L512.1 523.5L511.6 524.4L511.4 525.4L511.4 533.9L511.6 534.9L512.1 535.8L513.0 536.3L514.0 536.5L526.3 536.5L527.2 536.3L528.1 535.8L528.7 534.9L528.9 534.0L528.7 533.0ZM555.6 551.0L556.3 551.8L557.3 552.3L558.4 552.3L559.4 551.9L564.6 548.3L565.3 547.4L565.7 546.3L566.4 536.4L566.2 535.3L565.5 534.3L565.0 533.8L564.1 533.3L563.2 533.1L552.2 533.1L550.9 533.5L549.3 534.4L548.5 535.1L548.1 536.0L548.0 537.0L548.3 537.9ZM535.1 538.8L534.2 539.6L533.7 540.7L533.3 542.8L533.3 543.6L533.6 544.4L539.4 556.1L540.1 556.9L540.9 557.4L541.9 557.5L553.7 556.7L554.7 556.5L555.5 555.8L556.0 554.9L556.1 553.9L555.8 552.9L547.0 537.1L546.2 536.2L545.0 535.8L542.6 535.5L541.2 535.7ZM579.1 532.9L578.3 532.7L577.4 532.8L569.0 534.8L568.0 535.3L567.3 536.1L567.0 537.2L566.4 545.5L566.6 546.6L567.2 547.6L568.2 548.2L580.8 552.3L582.0 552.4L583.0 552.1L583.8 551.3L584.2 550.3L586.1 538.3L586.1 537.2L585.6 536.2L584.7 535.5ZM531.2 537.8L530.5 537.4L529.6 537.3L514.0 537.3L513.0 537.5L512.1 538.0L511.6 538.9L511.4 539.9L511.4 544.9L511.6 545.9L512.2 546.8L513.1 547.3L520.9 549.9L522.1 550.1L523.2 549.6L531.5 544.1L532.3 543.3L532.7 542.3L532.9 540.8L532.9 539.9L532.6 539.0L531.9 538.3ZM523.7 550.2L523.1 550.7L522.6 551.5L522.5 552.3L522.5 560.6L522.7 561.5L523.1 562.3L523.8 562.8L524.7 563.1L533.2 564.6L534.2 564.6L535.1 564.2L535.8 563.5L538.7 559.3L539.1 558.4L539.1 557.5L538.9 556.6L534.0 546.8L533.3 546.0L532.3 545.5L531.2 545.4L530.2 545.8ZM521.8 552.9L521.6 551.8L520.9 551.0L520.0 550.4L514.8 548.7L513.8 548.5L512.9 548.8L512.1 549.3L511.5 550.2L511.4 551.1L511.4 562.2L511.5 563.2L512.1 564.0L512.8 564.6L513.8 564.8L517.1 565.1L517.9 565.0L518.6 564.7L520.5 563.6L521.2 563.0L521.6 562.3L521.8 561.4ZM583.4 556.1L583.3 554.9L582.7 554.0L581.7 553.4L567.2 548.6L566.0 548.5L564.9 548.9L557.8 553.9L556.9 555.0L556.4 556.0L556.2 557.0L556.4 558.0L557.2 560.0L557.7 560.7L558.3 561.2L567.5 567.1L568.4 567.4L569.3 567.4L570.2 567.1L582.0 560.1L582.8 559.3L583.2 558.1ZM536.0 564.4L535.6 565.4L535.6 566.4L538.4 580.1L538.9 581.1L539.8 581.9L540.9 582.1L546.6 582.1L547.6 581.9L548.4 581.4L549.0 580.5L556.5 562.0L556.7 561.0L556.5 560.0L556.1 559.1L555.5 558.2L554.6 557.6L553.5 557.5L541.4 558.3L540.3 558.6L539.5 559.4ZM520.1 564.7L519.3 565.4L518.9 566.5L518.9 567.6L522.1 580.2L522.6 581.2L523.5 581.9L524.6 582.1L534.9 582.1L535.8 582.0L536.6 581.5L537.2 580.8L537.5 579.9L537.4 579.0L535.1 567.3L534.7 566.4L533.9 565.6L533.0 565.3L523.1 563.6L522.2 563.6L521.4 563.9ZM550.5 578.6L550.3 579.6L550.6 580.5L551.1 581.4L552.0 581.9L552.9 582.1L566.7 582.1L567.8 581.9L568.7 581.3L569.2 580.4L569.3 579.3L568.6 569.9L568.2 568.7L567.4 567.9L560.1 563.2L559.0 562.8L557.9 562.9L556.9 563.5L556.3 564.4ZM592.3 575.8L591.9 574.6L584.7 562.4L584.0 561.6L583.1 561.2L582.0 561.1L581.1 561.5L570.6 567.7L569.9 568.4L569.5 569.2L569.3 570.2L570.1 579.7L570.3 580.7L570.9 581.4L571.7 582.0L572.7 582.1L589.9 582.1L590.9 581.9L591.8 581.3L592.3 580.4L592.5 579.4ZM583.9 558.7L584.0 559.5L584.3 560.3L591.0 571.6L591.6 572.3L592.4 572.7L593.4 572.9L594.3 572.6L595.1 572.1L603.0 564.3L603.6 563.3L603.7 562.2L603.1 555.5L602.8 554.5L602.2 553.7L601.3 553.3L600.3 553.1L586.6 554.0L585.7 554.2L584.9 554.7L584.4 555.4L584.1 556.3ZM588.3 535.7L587.4 536.5L587.0 537.6L585.0 550.2L585.0 551.1L585.3 552.0L586.0 552.6L586.8 553.1L587.7 553.2L602.0 552.3L602.9 552.1L603.7 551.5L605.4 549.8L606.0 549.0L606.2 548.1L606.0 547.2L605.6 546.3L595.5 534.1L594.8 533.5L594.0 533.1L593.0 533.1L592.2 533.5ZM511.4 579.5L511.6 580.5L512.1 581.4L513.0 581.9L514.0 582.1L518.5 582.1L519.4 582.0L520.2 581.5L520.8 580.7L521.1 579.8L521.0 578.9L518.2 567.7L517.7 566.7L516.9 566.0L515.8 565.7L514.1 565.6L513.1 565.7L512.2 566.3L511.6 567.1L511.4 568.2ZM629.8 528.4L630.6 528.7L631.4 528.7L639.5 527.8L640.4 527.5L641.1 527.0L647.5 520.1L648.0 519.2L648.2 518.1L647.8 517.1L641.4 505.9L640.7 505.1L639.7 504.6L638.7 504.6L619.2 508.2L618.3 508.6L617.5 509.3L617.1 510.3L615.9 518.0L615.9 519.0L616.4 519.9L617.1 521.0L618.0 521.8ZM679.3 522.2L680.2 522.3L681.2 522.1L681.9 521.5L682.5 520.7L682.6 519.7L682.6 503.9L682.4 502.8L681.7 501.9L680.8 501.4L679.7 501.3L668.3 503.0L667.4 503.3L666.7 504.0L666.2 504.8L663.1 514.5L663.0 515.5L663.2 516.5L663.9 517.3L664.8 517.8ZM662.9 518.0L661.9 517.9L660.9 518.2L659.9 518.8L659.0 519.5L658.6 520.6L658.6 521.7L662.7 538.3L663.1 539.1L663.8 539.8L664.7 540.2L665.6 540.2L666.5 539.9L667.2 539.3L678.0 526.4L678.5 525.5L678.6 524.5L678.3 523.5L677.7 522.7L676.8 522.2ZM657.9 521.7L657.5 520.8L656.7 520.1L655.6 519.8L650.6 519.3L649.5 519.4L648.5 520.1L642.2 526.8L641.7 527.7L641.5 528.7L641.8 529.7L647.8 542.7L648.5 543.6L649.5 544.2L650.7 544.2L660.2 542.3L661.1 541.9L661.9 541.1L662.2 540.1L662.2 539.1ZM682.6 529.1L682.4 528.1L681.8 527.2L680.9 526.6L679.9 526.5L678.9 526.8L678.0 527.4L666.7 541.1L666.2 541.9L666.1 542.8L666.3 543.7L666.7 544.4L667.5 545.3L668.4 546.0L669.5 546.2L680.0 546.2L681.0 546.0L681.9 545.5L682.4 544.6L682.6 543.6ZM605.3 544.9L606.1 545.5L607.1 545.8L608.1 545.7L609.0 545.3L612.4 542.5L613.0 541.8L613.3 541.0L616.6 523.2L616.6 522.1L616.1 521.1L615.3 520.4L614.3 520.1L613.2 520.2L599.0 525.1L598.2 525.6L597.6 526.4L595.4 530.3L595.1 531.3L595.2 532.3L595.7 533.2ZM627.9 543.8L628.6 543.0L628.9 542.0L629.9 531.1L629.8 530.1L629.4 529.2L628.6 528.6L620.7 524.1L619.7 523.8L618.7 523.8L617.9 524.3L617.2 525.0L616.8 525.9L614.3 539.7L614.3 540.6L614.6 541.5L615.1 542.2L615.9 542.7L623.7 545.6L624.6 545.7L625.4 545.6L626.2 545.2ZM642.2 549.4L643.0 549.7L644.0 549.6L644.8 549.2L645.4 548.6L647.1 546.2L647.5 545.4L647.6 544.5L647.4 543.6L641.2 530.1L640.5 529.3L639.6 528.7L638.5 528.6L632.9 529.3L631.8 529.7L631.0 530.5L630.6 531.6L629.7 541.3L629.8 542.4L630.3 543.3L631.1 543.9ZM664.9 543.5L664.1 542.8L664.0 542.8L663.2 542.5L662.3 542.6L649.7 545.1L648.8 545.5L648.0 546.2L645.0 550.4L644.5 551.7L644.2 555.0L644.2 556.0L644.7 556.8L648.6 561.9L649.4 562.6L650.4 562.9L651.4 562.8L664.5 558.9L665.4 558.5L666.1 557.7L666.4 556.8L667.6 547.9L667.5 546.8L667.0 545.8ZM608.8 546.4L608.2 547.1L607.8 548.0L607.9 548.9L608.2 549.8L608.9 550.5L614.2 554.3L615.1 554.8L616.1 554.8L622.0 554.0L623.1 553.6L623.9 552.8L624.2 551.7L624.5 548.7L624.4 547.6L623.8 546.6L622.9 546.0L614.9 543.0L614.0 542.9L613.2 543.0L612.4 543.5ZM624.9 551.8L625.0 552.8L625.5 553.7L626.3 554.4L633.9 558.7L635.0 559.0L636.2 558.8L641.9 556.5L642.7 556.0L643.3 555.2L643.5 554.3L643.7 552.9L643.6 551.8L643.1 550.9L642.3 550.3L630.7 544.5L629.7 544.2L628.8 544.3L627.9 544.7L626.3 546.0L625.7 546.8L625.4 547.8ZM670.7 547.0L669.8 547.1L669.0 547.6L668.4 548.3L668.1 549.2L667.0 557.7L667.0 558.6L667.4 559.5L669.7 562.9L670.3 563.6L671.2 564.0L672.1 564.1L680.3 563.3L681.2 563.1L682.0 562.5L682.5 561.7L682.6 560.7L682.6 549.6L682.4 548.6L681.9 547.7L681.0 547.2L680.0 547.0ZM608.3 551.0L607.5 550.6L606.6 550.5L605.7 550.7L605.0 551.3L604.4 551.9L603.8 552.8L603.7 553.9L604.4 561.7L604.7 562.6L605.2 563.4L606.1 563.9L611.0 565.7L611.9 565.9L612.8 565.7L613.6 565.2L613.7 565.2L614.4 564.3L614.6 563.2L614.6 556.8L614.3 555.6L613.5 554.7ZM615.3 561.6L615.5 562.6L616.1 563.4L616.9 564.0L617.9 564.2L619.3 564.2L620.5 563.9L621.4 563.2L621.9 562.1L622.7 558.1L622.7 557.1L622.3 556.2L621.7 555.5L620.8 555.1L619.8 555.0L617.6 555.3L616.7 555.6L616.0 556.2L615.5 557.0L615.3 557.9ZM622.5 562.9L622.4 563.8L622.8 564.7L623.3 565.4L626.4 568.0L627.4 568.5L628.6 568.6L629.6 568.1L630.4 567.3L633.2 562.1L633.6 561.2L633.5 560.2L633.0 559.3L632.3 558.6L627.4 555.8L626.4 555.5L625.5 555.6L624.6 556.0L623.9 556.7L623.5 557.6ZM611.1 574.3L612.0 573.6L612.6 572.7L612.7 571.6L612.4 568.5L612.1 567.6L611.5 566.8L610.7 566.3L605.8 564.6L604.9 564.4L603.9 564.6L603.1 565.2L593.8 574.4L593.2 575.3L593.0 576.3L593.1 578.1L593.4 579.0L594.0 579.8L594.8 580.4L595.8 580.5L596.7 580.3ZM613.9 565.9L613.2 566.9L613.0 568.2L613.5 572.4L613.9 573.4L614.5 574.2L622.2 579.9L623.2 580.4L624.3 580.4L625.3 579.9L626.0 579.1L628.4 574.9L628.7 574.1L628.8 573.4L628.7 571.9L628.4 570.9L627.8 570.1L622.4 565.5L621.6 565.1L620.7 564.9L616.0 564.9L615.1 565.1L614.4 565.5ZM629.4 571.5L629.6 572.4L630.2 573.2L631.0 573.7L632.0 573.9L646.6 573.9L647.6 573.7L648.4 573.1L649.0 572.3L649.2 571.3L649.2 564.8L649.1 563.9L648.7 563.2L644.8 558.1L643.9 557.4L642.8 557.1L641.7 557.3L636.1 559.7L635.3 560.1L634.8 560.8L629.7 570.0L629.4 571.4ZM667.4 560.8L666.6 560.0L665.6 559.6L664.5 559.7L651.8 563.5L650.8 564.0L650.1 564.9L649.9 566.0L649.9 573.5L650.2 574.8L651.3 576.7L652.0 577.4L652.8 577.9L653.7 578.0L654.7 577.8L667.6 572.0L668.4 571.5L668.9 570.8L669.1 570.0L669.8 565.7L669.8 564.7L669.4 563.9ZM682.6 566.7L682.4 565.6L681.8 564.8L680.9 564.2L679.8 564.1L672.7 564.8L671.6 565.1L670.8 565.9L670.3 566.9L669.8 570.4L669.9 571.5L670.3 572.4L677.2 581.1L678.1 581.9L679.2 582.1L680.0 582.1L681.0 581.9L681.9 581.4L682.4 580.5L682.6 579.5ZM606.1 577.1L605.3 577.7L604.7 578.6L604.5 579.6L604.8 580.5L605.3 581.4L606.2 581.9L607.1 582.1L616.1 582.1L617.2 581.9L618.1 581.3L618.6 580.4L618.7 579.3L618.4 578.3L617.7 577.5L614.5 575.0L613.7 574.6L612.8 574.5L611.9 574.7ZM627.3 578.2L627.0 579.3L627.1 580.3L627.7 581.3L628.5 581.9L629.6 582.1L649.1 582.1L650.2 581.9L651.1 581.3L651.6 580.4L651.7 579.3L651.4 578.3L650.1 575.9L649.5 575.2L648.7 574.8L647.8 574.6L630.9 574.6L630.0 574.8L629.2 575.2L628.7 575.9ZM657.8 577.2L656.9 577.7L656.4 578.6L656.2 579.6L656.4 580.6L657.0 581.4L657.8 581.9L658.8 582.1L671.7 582.1L672.6 582.0L673.4 581.5L674.0 580.7L674.3 579.8L674.2 578.8L673.7 577.9L670.4 573.7L669.5 573.0L668.4 572.7L667.3 572.9Z" fill="#efefef"/>
<circle cx="523.1" cy="463.3" r="1.2" fill="#85649f" opacity="0.7"/>
<circle cx="524.7" cy="477.2" r="1.0" fill="#85649f" opacity="0.7"/>
<circle cx="524.8" cy="522.4" r="0.8" fill="#85649f" opacity="0.7"/>
<circle cx="530.5" cy="479.8" r="1.2" fill="#85649f" opacity="0.7"/>
<circle cx="530.6" cy="536.9" r="0.9" fill="#85649f" opacity="0.7"/>
<circle cx="535.0" cy="565.2" r="1.2" fill="#85649f" opacity="0.7"/>
<circle cx="540.0" cy="558.0" r="0.7" fill="#85649f" opacity="0.7"/>
<circle cx="540.4" cy="519.7" r="1.3" fill="#85649f" opacity="0.7"/>
<circle cx="540.7" cy="457.6" r="0.9" fill="#85649f" opacity="0.7"/>
<circle cx="542.9" cy="438.3" r="1.0" fill="#85649f" opacity="0.7"/>
<circle cx="546.6" cy="535.6" r="1.1" fill="#85649f" opacity="0.7"/>
<circle cx="547.8" cy="515.6" r="0.8" fill="#85649f" opacity="0.7"/>
<circle cx="551.4" cy="532.8" r="1.0" fill="#85649f" opacity="0.7"/>
<circle cx="556.8" cy="431.2" r="1.0" fill="#85649f" opacity="0.7"/>
<circle cx="556.9" cy="554.1" r="1.1" fill="#85649f" opacity="0.7"/>
<circle cx="557.1" cy="473.1" r="1.2" fill="#85649f" opacity="0.7"/>
<circle cx="557.3" cy="561.0" r="0.8" fill="#85649f" opacity="0.7"/>
<circle cx="562.8" cy="438.5" r="0.9" fill="#85649f" opacity="0.7"/>
<circle cx="564.4" cy="532.8" r="0.8" fill="#85649f" opacity="0.7"/>
<circle cx="566.6" cy="437.5" r="1.1" fill="#85649f" opacity="0.7"/>
<circle cx="570.3" cy="474.9" r="1.0" fill="#85649f" opacity="0.7"/>
<circle cx="570.7" cy="475.3" r="1.1" fill="#85649f" opacity="0.7"/>
<circle cx="573.3" cy="498.5" r="0.9" fill="#85649f" opacity="0.7"/>
<circle cx="575.1" cy="456.0" r="1.0" fill="#85649f" opacity="0.7"/>
<circle cx="576.8" cy="518.0" r="1.2" fill="#85649f" opacity="0.7"/>
<circle cx="578.3" cy="532.2" r="1.0" fill="#85649f" opacity="0.7"/>
<circle cx="584.0" cy="553.8" r="1.0" fill="#85649f" opacity="0.7"/>
<circle cx="589.9" cy="479.3" r="1.0" fill="#85649f" opacity="0.7"/>
<circle cx="593.0" cy="582.3" r="0.7" fill="#85649f" opacity="0.7"/>
<circle cx="597.7" cy="441.2" r="0.8" fill="#85649f" opacity="0.7"/>
<circle cx="597.8" cy="525.2" r="1.0" fill="#85649f" opacity="0.7"/>
<circle cx="613.5" cy="542.1" r="0.8" fill="#85649f" opacity="0.7"/>
<circle cx="624.4" cy="553.7" r="1.2" fill="#85649f" opacity="0.7"/>
<circle cx="629.2" cy="543.3" r="1.1" fill="#85649f" opacity="0.7"/>
<circle cx="629.2" cy="574.2" r="1.1" fill="#85649f" opacity="0.7"/>
<circle cx="629.7" cy="447.8" r="0.9" fill="#85649f" opacity="0.7"/>
<circle cx="630.5" cy="529.2" r="0.8" fill="#85649f" opacity="0.7"/>
<circle cx="630.8" cy="450.4" r="0.8" fill="#85649f" opacity="0.7"/>
<circle cx="644.3" cy="550.9" r="0.9" fill="#85649f" opacity="0.7"/>
<circle cx="648.9" cy="475.6" r="1.1" fill="#85649f" opacity="0.7"/>
<circle cx="650.8" cy="450.4" r="1.0" fill="#85649f" opacity="0.7"/>
<circle cx="651.2" cy="437.2" r="0.7" fill="#85649f" opacity="0.7"/>
<circle cx="652.4" cy="579.2" r="1.0" fill="#85649f" opacity="0.7"/>
<circle cx="657.8" cy="519.6" r="1.1" fill="#85649f" opacity="0.7"/>
<circle cx="661.8" cy="517.3" r="1.0" fill="#85649f" opacity="0.7"/>
<circle cx="663.3" cy="542.0" r="1.1" fill="#85649f" opacity="0.7"/>
<circle cx="527.0" cy="478.3" r="2.6" fill="#dcc6e8" opacity="0.6"/>
<circle cx="532.6" cy="478.7" r="2.6" fill="#dcc6e8" opacity="0.6"/>
<circle cx="538.0" cy="459.3" r="2.6" fill="#dcc6e8" opacity="0.6"/>
<circle cx="549.2" cy="435.8" r="2.6" fill="#dcc6e8" opacity="0.6"/>
<circle cx="562.3" cy="437.9" r="2.6" fill="#dcc6e8" opacity="0.6"/>
<circle cx="551.2" cy="478.6" r="2.6" fill="#dcc6e8" opacity="0.6"/>
<circle cx="564.2" cy="498.0" r="2.6" fill="#dcc6e8" opacity="0.6"/>
<circle cx="572.9" cy="475.7" r="2.6" fill="#dcc6e8" opacity="0.6"/>
<circle cx="630.7" cy="451.3" r="2.6" fill="#dcc6e8" opacity="0.6"/>
<circle cx="627.4" cy="462.7" r="2.6" fill="#dcc6e8" opacity="0.6"/>
<circle cx="636.5" cy="470.0" r="2.6" fill="#dcc6e8" opacity="0.6"/>
<circle cx="658.2" cy="458.1" r="2.6" fill="#dcc6e8" opacity="0.6"/>
<circle cx="652.6" cy="494.8" r="2.6" fill="#dcc6e8" opacity="0.6"/>
<circle cx="531.9" cy="537.9" r="2.6" fill="#dcc6e8" opacity="0.6"/>
<circle cx="556.0" cy="556.2" r="2.6" fill="#dcc6e8" opacity="0.6"/>
<circle cx="556.7" cy="562.5" r="2.6" fill="#dcc6e8" opacity="0.6"/>
<circle cx="522.1" cy="552.1" r="2.6" fill="#dcc6e8" opacity="0.6"/>
<circle cx="516.1" cy="548.7" r="2.6" fill="#dcc6e8" opacity="0.6"/>
<circle cx="545.0" cy="517.1" r="2.6" fill="#dcc6e8" opacity="0.6"/>
<circle cx="566.1" cy="566.6" r="2.6" fill="#dcc6e8" opacity="0.6"/>
<circle cx="589.3" cy="512.7" r="2.6" fill="#dcc6e8" opacity="0.6"/>
<circle cx="550.7" cy="577.3" r="2.6" fill="#dcc6e8" opacity="0.6"/>
<circle cx="532.4" cy="515.7" r="2.6" fill="#dcc6e8" opacity="0.6"/>
<circle cx="603.5" cy="555.8" r="2.6" fill="#dcc6e8" opacity="0.6"/>
<circle cx="637.8" cy="558.6" r="2.6" fill="#dcc6e8" opacity="0.6"/>
<circle cx="647.9" cy="561.6" r="2.6" fill="#dcc6e8" opacity="0.6"/>
<circle cx="632.2" cy="544.8" r="2.6" fill="#dcc6e8" opacity="0.6"/>
<circle cx="667.7" cy="519.0" r="2.6" fill="#dcc6e8" opacity="0.6"/>
<circle cx="599.9" cy="552.8" r="2.6" fill="#dcc6e8" opacity="0.6"/>
<circle cx="615.0" cy="557.7" r="2.6" fill="#dcc6e8" opacity="0.6"/>
<circle cx="683.0" cy="552.8" r="2.6" fill="#dcc6e8" opacity="0.6"/>
<circle cx="527.0" cy="478.3" r="1.1" fill="#7a4f9e" opacity="0.85"/>
<circle cx="532.6" cy="478.7" r="1.6" fill="#7a4f9e" opacity="0.85"/>
<circle cx="538.0" cy="459.3" r="1.6" fill="#7a4f9e" opacity="0.85"/>
<circle cx="549.2" cy="435.8" r="1.1" fill="#7a4f9e" opacity="0.85"/>
<circle cx="562.3" cy="437.9" r="1.3" fill="#7a4f9e" opacity="0.85"/>
<circle cx="551.2" cy="478.6" r="1.3" fill="#7a4f9e" opacity="0.85"/>
<circle cx="564.2" cy="498.0" r="1.5" fill="#7a4f9e" opacity="0.85"/>
<circle cx="572.9" cy="475.7" r="1.5" fill="#7a4f9e" opacity="0.85"/>
<circle cx="630.7" cy="451.3" r="1.3" fill="#7a4f9e" opacity="0.85"/>
<circle cx="627.4" cy="462.7" r="1.2" fill="#7a4f9e" opacity="0.85"/>
<circle cx="636.5" cy="470.0" r="1.2" fill="#7a4f9e" opacity="0.85"/>
<circle cx="658.2" cy="458.1" r="1.2" fill="#7a4f9e" opacity="0.85"/>
<circle cx="652.6" cy="494.8" r="1.6" fill="#7a4f9e" opacity="0.85"/>
<circle cx="531.9" cy="537.9" r="1.7" fill="#7a4f9e" opacity="0.85"/>
<circle cx="556.0" cy="556.2" r="1.2" fill="#7a4f9e" opacity="0.85"/>
<circle cx="556.7" cy="562.5" r="1.5" fill="#7a4f9e" opacity="0.85"/>
<circle cx="522.1" cy="552.1" r="1.7" fill="#7a4f9e" opacity="0.85"/>
<circle cx="516.1" cy="548.7" r="1.2" fill="#7a4f9e" opacity="0.85"/>
<circle cx="545.0" cy="517.1" r="1.4" fill="#7a4f9e" opacity="0.85"/>
<circle cx="566.1" cy="566.6" r="1.4" fill="#7a4f9e" opacity="0.85"/>
<circle cx="589.3" cy="512.7" r="1.7" fill="#7a4f9e" opacity="0.85"/>
<circle cx="550.7" cy="577.3" r="1.6" fill="#7a4f9e" opacity="0.85"/>
<circle cx="532.4" cy="515.7" r="1.1" fill="#7a4f9e" opacity="0.85"/>
<circle cx="603.5" cy="555.8" r="1.2" fill="#7a4f9e" opacity="0.85"/>
<circle cx="637.8" cy="558.6" r="1.6" fill="#7a4f9e" opacity="0.85"/>
<circle cx="647.9" cy="561.6" r="1.4" fill="#7a4f9e" opacity="0.85"/>
<circle cx="632.2" cy="544.8" r="1.4" fill="#7a4f9e" opacity="0.85"/>
<circle cx="667.7" cy="519.0" r="1.6" fill="#7a4f9e" opacity="0.85"/>
<circle cx="599.9" cy="552.8" r="1.6" fill="#7a4f9e" opacity="0.85"/>
<circle cx="615.0" cy="557.7" r="1.7" fill="#7a4f9e" opacity="0.85"/>
<circle cx="683.0" cy="552.8" r="1.3" fill="#7a4f9e" opacity="0.85"/>
<rect x="510" y="424" width="174" height="159.5" fill="none" stroke="#000" stroke-width="2"/>
<line x1="447.00" y1="408.10" x2="496.00" y2="408.10" stroke="#000" stroke-width="2"/>
<line x1="629.20" y1="408.30" x2="677.90" y2="408.30" stroke="#000" stroke-width="2"/>
<line x1="448.20" y1="574.60" x2="497.20" y2="574.60" stroke="#000" stroke-width="2"/>
<line x1="626.60" y1="574.50" x2="675.70" y2="574.50" stroke="#000" stroke-width="2"/>
<text x="1.32" y="435.38" font-size="18.82" font-weight="bold" stroke="#000" stroke-width="0.45" textLength="9.21" lengthAdjust="spacingAndGlyphs">F</text>
<line x1="82.10" y1="446.00" x2="82.10" y2="578.70" stroke="#000" stroke-width="2"/>
<line x1="82.10" y1="578.00" x2="198.50" y2="578.00" stroke="#000" stroke-width="2"/>
<line x1="77.00" y1="578.00" x2="82.10" y2="578.00" stroke="#000" stroke-width="1.6"/>
<text x="66.21" y="582.48" font-size="12.86" font-weight="bold" stroke="#000" stroke-width="0.45" textLength="6.66" lengthAdjust="spacingAndGlyphs">0</text>
<line x1="77.00" y1="545.25" x2="82.10" y2="545.25" stroke="#000" stroke-width="1.6"/>
<text x="45.56" y="549.73" font-size="12.86" font-weight="bold" stroke="#000" stroke-width="0.45" textLength="27.32" lengthAdjust="spacingAndGlyphs">2000</text>
<line x1="77.00" y1="512.50" x2="82.10" y2="512.50" stroke="#000" stroke-width="1.6"/>
<text x="45.80" y="516.98" font-size="12.86" font-weight="bold" stroke="#000" stroke-width="0.45" textLength="27.07" lengthAdjust="spacingAndGlyphs">4000</text>
<line x1="77.00" y1="479.75" x2="82.10" y2="479.75" stroke="#000" stroke-width="1.6"/>
<text x="45.53" y="484.22" font-size="12.86" font-weight="bold" stroke="#000" stroke-width="0.45" textLength="27.35" lengthAdjust="spacingAndGlyphs">6000</text>
<line x1="77.00" y1="447.00" x2="82.10" y2="447.00" stroke="#000" stroke-width="1.6"/>
<text x="45.59" y="451.47" font-size="12.86" font-weight="bold" stroke="#000" stroke-width="0.45" textLength="27.28" lengthAdjust="spacingAndGlyphs">8000</text>
<text x="0" y="0" font-size="13.95" font-weight="bold" stroke="#000" stroke-width="0.1" textLength="136.94" lengthAdjust="spacingAndGlyphs" transform="translate(18.85 581.38) rotate(-90)">Mean adipocyte area</text>
<text x="0" y="0" font-size="12.35" font-weight="bold" stroke="#000" stroke-width="0.1" textLength="36.97" lengthAdjust="spacingAndGlyphs" transform="translate(33.85 530.14) rotate(-90)">(µm2)</text>
<rect x="96.00" y="487.85" width="16.70" height="89.75" fill="#fff" stroke="#000" stroke-width="1.8"/>
<rect x="114.50" y="535.01" width="16.20" height="42.58" fill="#a0a0a0" stroke="#000" stroke-width="1.8"/>
<rect x="149.20" y="507.83" width="16.70" height="69.77" fill="#fff" stroke="#000" stroke-width="1.8"/>
<rect x="167.70" y="534.52" width="15.70" height="43.08" fill="#a0a0a0" stroke="#000" stroke-width="1.8"/>
<line x1="104.35" y1="482.04" x2="104.35" y2="486.95" stroke="#000" stroke-width="1.2"/>
<line x1="100.85" y1="482.04" x2="107.85" y2="482.04" stroke="#000" stroke-width="1.2"/>
<line x1="122.60" y1="530.35" x2="122.60" y2="534.12" stroke="#000" stroke-width="1.2"/>
<line x1="119.10" y1="530.35" x2="126.10" y2="530.35" stroke="#000" stroke-width="1.2"/>
<line x1="157.55" y1="501.69" x2="157.55" y2="506.93" stroke="#000" stroke-width="1.2"/>
<line x1="154.05" y1="501.69" x2="161.05" y2="501.69" stroke="#000" stroke-width="1.2"/>
<line x1="175.55" y1="529.86" x2="175.55" y2="533.62" stroke="#000" stroke-width="1.2"/>
<line x1="172.05" y1="529.86" x2="179.05" y2="529.86" stroke="#000" stroke-width="1.2"/>
<circle cx="104.40" cy="449.00" r="1.9" fill="#fff" stroke="#000" stroke-width="0.85"/>
<circle cx="104.40" cy="473.60" r="1.9" fill="#fff" stroke="#000" stroke-width="0.85"/>
<circle cx="104.40" cy="484.20" r="1.9" fill="#fff" stroke="#000" stroke-width="0.85"/>
<circle cx="98.70" cy="494.90" r="1.9" fill="#fff" stroke="#000" stroke-width="0.85"/>
<circle cx="104.40" cy="493.00" r="1.9" fill="#fff" stroke="#000" stroke-width="0.85"/>
<circle cx="109.50" cy="494.90" r="1.9" fill="#fff" stroke="#000" stroke-width="0.85"/>
<circle cx="104.40" cy="499.00" r="1.9" fill="#fff" stroke="#000" stroke-width="0.85"/>
<circle cx="104.40" cy="507.60" r="1.9" fill="#fff" stroke="#000" stroke-width="0.85"/>
<circle cx="157.50" cy="492.00" r="1.9" fill="#fff" stroke="#000" stroke-width="0.85"/>
<circle cx="155.20" cy="509.50" r="1.9" fill="#fff" stroke="#000" stroke-width="0.85"/>
<circle cx="161.00" cy="510.10" r="1.9" fill="#fff" stroke="#000" stroke-width="0.85"/>
<circle cx="157.10" cy="516.60" r="1.9" fill="#fff" stroke="#000" stroke-width="0.85"/>
<circle cx="122.30" cy="502.30" r="2.0" fill="#000"/>
<circle cx="122.30" cy="521.90" r="2.0" fill="#000"/>
<circle cx="115.20" cy="539.00" r="2.0" fill="#000"/>
<circle cx="119.00" cy="541.00" r="2.0" fill="#000"/>
<circle cx="123.80" cy="539.00" r="2.0" fill="#000"/>
<circle cx="128.60" cy="538.00" r="2.0" fill="#000"/>
<circle cx="120.00" cy="545.70" r="2.0" fill="#000"/>
<circle cx="124.80" cy="541.90" r="2.0" fill="#000"/>
<circle cx="172.40" cy="525.10" r="2.0" fill="#000"/>
<circle cx="178.10" cy="526.70" r="2.0" fill="#000"/>
<circle cx="172.40" cy="541.90" r="2.0" fill="#000"/>
<circle cx="178.10" cy="540.60" r="2.0" fill="#000"/>
<path d="M117.20 494.00V501.00M114.60 495.90L119.80 499.10M114.60 499.10L119.80 495.90" stroke="#000" stroke-width="1.0" stroke-linecap="round" fill="none"/>
<path d="M123.50 494.00V501.00M120.90 495.90L126.10 499.10M120.90 499.10L126.10 495.90" stroke="#000" stroke-width="1.0" stroke-linecap="round" fill="none"/>
<path d="M129.80 494.00V501.00M127.20 495.90L132.40 499.10M127.20 499.10L132.40 495.90" stroke="#000" stroke-width="1.0" stroke-linecap="round" fill="none"/>
<path d="M171.85 515.80V522.80M169.25 517.70L174.45 520.90M169.25 520.90L174.45 517.70" stroke="#000" stroke-width="1.0" stroke-linecap="round" fill="none"/>
<path d="M178.15 515.80V522.80M175.55 517.70L180.75 520.90M175.55 520.90L180.75 517.70" stroke="#000" stroke-width="1.0" stroke-linecap="round" fill="none"/>
<text x="96.88" y="593.27" font-size="12.57" font-weight="bold" stroke="#000" stroke-width="0.45" textLength="32.52" lengthAdjust="spacingAndGlyphs">eWAT</text>
<text x="148.89" y="593.27" font-size="12.57" font-weight="bold" stroke="#000" stroke-width="0.45" textLength="30.41" lengthAdjust="spacingAndGlyphs">iWAT</text>
</svg>
</body></html>
